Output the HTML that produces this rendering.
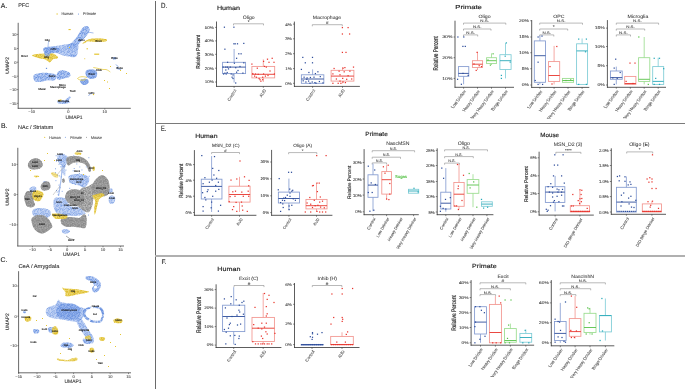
<!DOCTYPE html>
<html><head><meta charset="utf-8"><style>
html,body{margin:0;padding:0;background:#fff;}
svg{display:block;font-family:"Liberation Sans", sans-serif;text-rendering:geometricPrecision;}
</style></head><body>
<svg width="685" height="389" viewBox="0 0 685 389">
<defs>
<filter id="soft" x="0" y="0" width="100%" height="100%" filterUnits="userSpaceOnUse"><feGaussianBlur stdDeviation="0.3"/></filter>
<filter id="bl" x="-20%" y="-20%" width="140%" height="140%"><feGaussianBlur stdDeviation="0.35"/></filter>
<filter id="tex" x="-10%" y="-10%" width="120%" height="120%">
<feTurbulence type="fractalNoise" baseFrequency="0.32" numOctaves="2" seed="4" result="n"/>
<feColorMatrix in="n" type="matrix" values="0 0 0 0 0  0 0 0 0 0  0 0 0 0 0  0 0 0 -3.0 2.2" result="a"/>
<feComposite in="SourceGraphic" in2="a" operator="in" result="t"/>
<feGaussianBlur in="t" stdDeviation="0.45"/>
</filter>
<filter id="tex2" x="-10%" y="-10%" width="120%" height="120%">
<feTurbulence type="fractalNoise" baseFrequency="0.5" numOctaves="2" seed="9" result="n"/>
<feColorMatrix in="n" type="matrix" values="0 0 0 0 0  0 0 0 0 0  0 0 0 0 0  0 0 0 -2.0 2.0" result="a"/>
<feComposite in="SourceGraphic" in2="a" operator="in" result="t"/>
<feGaussianBlur in="t" stdDeviation="0.35"/>
</filter>
<pattern id="pB" patternUnits="userSpaceOnUse" width="11" height="11"><circle cx="0.94" cy="1.09" r="0.55" fill="#5F8ADC"/><circle cx="1.16" cy="2.91" r="0.55" fill="#5F8ADC"/><circle cx="1.09" cy="4.46" r="0.55" fill="#5F8ADC"/><circle cx="0.19" cy="5.46" r="0.55" fill="#5F8ADC"/><circle cx="1.34" cy="7.26" r="0.55" fill="#5F8ADC"/><circle cx="1.29" cy="8.16" r="0.55" fill="#5F8ADC"/><circle cx="0.75" cy="9.90" r="0.55" fill="#5F8ADC"/><circle cx="2.41" cy="0.88" r="0.55" fill="#5F8ADC"/><circle cx="1.75" cy="2.00" r="0.55" fill="#5F8ADC"/><circle cx="2.08" cy="4.45" r="0.55" fill="#5F8ADC"/><circle cx="2.69" cy="5.07" r="0.55" fill="#5F8ADC"/><circle cx="2.73" cy="6.62" r="0.55" fill="#5F8ADC"/><circle cx="2.50" cy="8.17" r="0.55" fill="#5F8ADC"/><circle cx="1.73" cy="10.68" r="0.55" fill="#5F8ADC"/><circle cx="3.56" cy="0.43" r="0.55" fill="#5F8ADC"/><circle cx="4.54" cy="2.83" r="0.55" fill="#5F8ADC"/><circle cx="3.66" cy="4.51" r="0.55" fill="#5F8ADC"/><circle cx="3.98" cy="5.72" r="0.55" fill="#5F8ADC"/><circle cx="3.56" cy="7.63" r="0.55" fill="#5F8ADC"/><circle cx="4.17" cy="9.23" r="0.55" fill="#5F8ADC"/><circle cx="4.42" cy="9.96" r="0.55" fill="#5F8ADC"/><circle cx="5.33" cy="0.37" r="0.55" fill="#5F8ADC"/><circle cx="5.05" cy="1.81" r="0.55" fill="#5F8ADC"/><circle cx="5.25" cy="4.06" r="0.55" fill="#5F8ADC"/><circle cx="4.88" cy="5.72" r="0.55" fill="#5F8ADC"/><circle cx="5.30" cy="6.83" r="0.55" fill="#5F8ADC"/><circle cx="5.90" cy="8.62" r="0.55" fill="#5F8ADC"/><circle cx="5.27" cy="10.19" r="0.55" fill="#5F8ADC"/><circle cx="7.33" cy="0.23" r="0.55" fill="#5F8ADC"/><circle cx="7.67" cy="1.76" r="0.55" fill="#5F8ADC"/><circle cx="7.39" cy="4.36" r="0.55" fill="#5F8ADC"/><circle cx="6.47" cy="5.86" r="0.55" fill="#5F8ADC"/><circle cx="6.90" cy="7.17" r="0.55" fill="#5F8ADC"/><circle cx="6.45" cy="8.07" r="0.55" fill="#5F8ADC"/><circle cx="6.67" cy="10.79" r="0.55" fill="#5F8ADC"/><circle cx="8.26" cy="1.11" r="0.55" fill="#5F8ADC"/><circle cx="9.18" cy="2.91" r="0.55" fill="#5F8ADC"/><circle cx="8.45" cy="3.75" r="0.55" fill="#5F8ADC"/><circle cx="8.67" cy="5.85" r="0.55" fill="#5F8ADC"/><circle cx="8.15" cy="7.38" r="0.55" fill="#5F8ADC"/><circle cx="9.02" cy="9.10" r="0.55" fill="#5F8ADC"/><circle cx="8.06" cy="10.77" r="0.55" fill="#5F8ADC"/><circle cx="9.70" cy="0.59" r="0.55" fill="#5F8ADC"/><circle cx="10.35" cy="2.88" r="0.55" fill="#5F8ADC"/><circle cx="10.01" cy="4.46" r="0.55" fill="#5F8ADC"/><circle cx="10.27" cy="5.26" r="0.55" fill="#5F8ADC"/><circle cx="9.98" cy="6.67" r="0.55" fill="#5F8ADC"/><circle cx="9.68" cy="8.20" r="0.55" fill="#5F8ADC"/><circle cx="10.45" cy="10.84" r="0.55" fill="#5F8ADC"/></pattern><pattern id="pY" patternUnits="userSpaceOnUse" width="11" height="11"><circle cx="0.32" cy="0.19" r="0.55" fill="#D9B51E"/><circle cx="1.22" cy="2.10" r="0.55" fill="#D9B51E"/><circle cx="0.58" cy="3.15" r="0.55" fill="#D9B51E"/><circle cx="0.79" cy="5.17" r="0.55" fill="#D9B51E"/><circle cx="0.64" cy="6.10" r="0.55" fill="#D9B51E"/><circle cx="0.20" cy="8.02" r="0.55" fill="#D9B51E"/><circle cx="0.17" cy="8.93" r="0.55" fill="#D9B51E"/><circle cx="1.06" cy="9.91" r="0.55" fill="#D9B51E"/><circle cx="2.32" cy="1.18" r="0.55" fill="#D9B51E"/><circle cx="2.21" cy="2.38" r="0.55" fill="#D9B51E"/><circle cx="1.63" cy="3.37" r="0.55" fill="#D9B51E"/><circle cx="1.68" cy="5.19" r="0.55" fill="#D9B51E"/><circle cx="1.84" cy="6.14" r="0.55" fill="#D9B51E"/><circle cx="2.61" cy="7.95" r="0.55" fill="#D9B51E"/><circle cx="2.59" cy="8.89" r="0.55" fill="#D9B51E"/><circle cx="2.05" cy="10.56" r="0.55" fill="#D9B51E"/><circle cx="3.41" cy="0.46" r="0.55" fill="#D9B51E"/><circle cx="3.33" cy="1.67" r="0.55" fill="#D9B51E"/><circle cx="3.30" cy="3.97" r="0.55" fill="#D9B51E"/><circle cx="3.94" cy="4.95" r="0.55" fill="#D9B51E"/><circle cx="3.44" cy="6.01" r="0.55" fill="#D9B51E"/><circle cx="2.99" cy="7.31" r="0.55" fill="#D9B51E"/><circle cx="3.75" cy="9.34" r="0.55" fill="#D9B51E"/><circle cx="3.28" cy="10.63" r="0.55" fill="#D9B51E"/><circle cx="5.11" cy="0.90" r="0.55" fill="#D9B51E"/><circle cx="4.99" cy="2.35" r="0.55" fill="#D9B51E"/><circle cx="4.66" cy="3.66" r="0.55" fill="#D9B51E"/><circle cx="4.57" cy="4.80" r="0.55" fill="#D9B51E"/><circle cx="5.11" cy="6.40" r="0.55" fill="#D9B51E"/><circle cx="4.59" cy="8.05" r="0.55" fill="#D9B51E"/><circle cx="4.98" cy="9.03" r="0.55" fill="#D9B51E"/><circle cx="4.28" cy="10.36" r="0.55" fill="#D9B51E"/><circle cx="5.91" cy="0.88" r="0.55" fill="#D9B51E"/><circle cx="6.15" cy="2.41" r="0.55" fill="#D9B51E"/><circle cx="6.35" cy="3.76" r="0.55" fill="#D9B51E"/><circle cx="6.02" cy="4.97" r="0.55" fill="#D9B51E"/><circle cx="6.45" cy="6.55" r="0.55" fill="#D9B51E"/><circle cx="6.02" cy="7.94" r="0.55" fill="#D9B51E"/><circle cx="6.59" cy="9.14" r="0.55" fill="#D9B51E"/><circle cx="6.71" cy="10.81" r="0.55" fill="#D9B51E"/><circle cx="7.58" cy="0.72" r="0.55" fill="#D9B51E"/><circle cx="7.20" cy="2.43" r="0.55" fill="#D9B51E"/><circle cx="8.04" cy="3.41" r="0.55" fill="#D9B51E"/><circle cx="7.77" cy="5.05" r="0.55" fill="#D9B51E"/><circle cx="7.82" cy="5.83" r="0.55" fill="#D9B51E"/><circle cx="7.87" cy="7.65" r="0.55" fill="#D9B51E"/><circle cx="7.74" cy="8.85" r="0.55" fill="#D9B51E"/><circle cx="7.70" cy="10.61" r="0.55" fill="#D9B51E"/><circle cx="9.09" cy="0.93" r="0.55" fill="#D9B51E"/><circle cx="8.42" cy="1.69" r="0.55" fill="#D9B51E"/><circle cx="8.87" cy="3.60" r="0.55" fill="#D9B51E"/><circle cx="8.63" cy="5.02" r="0.55" fill="#D9B51E"/><circle cx="9.08" cy="5.68" r="0.55" fill="#D9B51E"/><circle cx="8.91" cy="7.26" r="0.55" fill="#D9B51E"/><circle cx="8.45" cy="8.53" r="0.55" fill="#D9B51E"/><circle cx="8.74" cy="9.96" r="0.55" fill="#D9B51E"/><circle cx="9.98" cy="0.18" r="0.55" fill="#D9B51E"/><circle cx="10.27" cy="1.93" r="0.55" fill="#D9B51E"/><circle cx="10.44" cy="3.54" r="0.55" fill="#D9B51E"/><circle cx="10.02" cy="5.26" r="0.55" fill="#D9B51E"/><circle cx="9.76" cy="6.08" r="0.55" fill="#D9B51E"/><circle cx="10.07" cy="7.46" r="0.55" fill="#D9B51E"/><circle cx="9.89" cy="9.30" r="0.55" fill="#D9B51E"/><circle cx="10.17" cy="9.80" r="0.55" fill="#D9B51E"/></pattern><pattern id="pG" patternUnits="userSpaceOnUse" width="11" height="11"><circle cx="0.72" cy="0.21" r="0.55" fill="#858585"/><circle cx="0.66" cy="1.68" r="0.55" fill="#858585"/><circle cx="0.69" cy="3.50" r="0.55" fill="#858585"/><circle cx="0.92" cy="4.20" r="0.55" fill="#858585"/><circle cx="0.92" cy="5.64" r="0.55" fill="#858585"/><circle cx="0.48" cy="6.37" r="0.55" fill="#858585"/><circle cx="0.70" cy="8.01" r="0.55" fill="#858585"/><circle cx="1.06" cy="9.62" r="0.55" fill="#858585"/><circle cx="0.72" cy="10.24" r="0.55" fill="#858585"/><circle cx="2.22" cy="0.12" r="0.55" fill="#858585"/><circle cx="1.45" cy="1.90" r="0.55" fill="#858585"/><circle cx="1.95" cy="2.70" r="0.55" fill="#858585"/><circle cx="1.96" cy="4.66" r="0.55" fill="#858585"/><circle cx="1.71" cy="5.43" r="0.55" fill="#858585"/><circle cx="1.57" cy="6.52" r="0.55" fill="#858585"/><circle cx="2.30" cy="7.83" r="0.55" fill="#858585"/><circle cx="2.28" cy="9.57" r="0.55" fill="#858585"/><circle cx="1.93" cy="10.15" r="0.55" fill="#858585"/><circle cx="3.53" cy="0.61" r="0.55" fill="#858585"/><circle cx="2.97" cy="1.66" r="0.55" fill="#858585"/><circle cx="3.53" cy="3.05" r="0.55" fill="#858585"/><circle cx="2.85" cy="4.26" r="0.55" fill="#858585"/><circle cx="2.69" cy="5.62" r="0.55" fill="#858585"/><circle cx="3.00" cy="6.52" r="0.55" fill="#858585"/><circle cx="3.33" cy="8.26" r="0.55" fill="#858585"/><circle cx="2.58" cy="9.20" r="0.55" fill="#858585"/><circle cx="2.83" cy="10.81" r="0.55" fill="#858585"/><circle cx="4.55" cy="0.36" r="0.55" fill="#858585"/><circle cx="4.05" cy="1.50" r="0.55" fill="#858585"/><circle cx="4.76" cy="2.85" r="0.55" fill="#858585"/><circle cx="4.38" cy="4.25" r="0.55" fill="#858585"/><circle cx="4.42" cy="5.60" r="0.55" fill="#858585"/><circle cx="4.52" cy="6.35" r="0.55" fill="#858585"/><circle cx="4.53" cy="7.75" r="0.55" fill="#858585"/><circle cx="4.31" cy="9.01" r="0.55" fill="#858585"/><circle cx="4.08" cy="10.42" r="0.55" fill="#858585"/><circle cx="5.47" cy="0.48" r="0.55" fill="#858585"/><circle cx="5.74" cy="1.92" r="0.55" fill="#858585"/><circle cx="5.05" cy="2.81" r="0.55" fill="#858585"/><circle cx="5.46" cy="4.69" r="0.55" fill="#858585"/><circle cx="5.88" cy="5.54" r="0.55" fill="#858585"/><circle cx="5.03" cy="6.99" r="0.55" fill="#858585"/><circle cx="5.43" cy="8.02" r="0.55" fill="#858585"/><circle cx="5.70" cy="9.30" r="0.55" fill="#858585"/><circle cx="5.48" cy="10.79" r="0.55" fill="#858585"/><circle cx="6.61" cy="0.51" r="0.55" fill="#858585"/><circle cx="7.07" cy="1.54" r="0.55" fill="#858585"/><circle cx="6.52" cy="3.38" r="0.55" fill="#858585"/><circle cx="6.30" cy="4.61" r="0.55" fill="#858585"/><circle cx="6.91" cy="5.43" r="0.55" fill="#858585"/><circle cx="6.51" cy="7.00" r="0.55" fill="#858585"/><circle cx="7.12" cy="7.60" r="0.55" fill="#858585"/><circle cx="6.70" cy="9.21" r="0.55" fill="#858585"/><circle cx="6.72" cy="10.22" r="0.55" fill="#858585"/><circle cx="7.61" cy="0.70" r="0.55" fill="#858585"/><circle cx="8.25" cy="1.41" r="0.55" fill="#858585"/><circle cx="7.68" cy="3.37" r="0.55" fill="#858585"/><circle cx="8.23" cy="4.44" r="0.55" fill="#858585"/><circle cx="7.48" cy="5.72" r="0.55" fill="#858585"/><circle cx="8.41" cy="7.21" r="0.55" fill="#858585"/><circle cx="8.14" cy="7.50" r="0.55" fill="#858585"/><circle cx="8.28" cy="8.89" r="0.55" fill="#858585"/><circle cx="8.09" cy="10.83" r="0.55" fill="#858585"/><circle cx="9.37" cy="0.25" r="0.55" fill="#858585"/><circle cx="8.96" cy="2.24" r="0.55" fill="#858585"/><circle cx="8.82" cy="3.16" r="0.55" fill="#858585"/><circle cx="9.08" cy="3.95" r="0.55" fill="#858585"/><circle cx="9.29" cy="5.05" r="0.55" fill="#858585"/><circle cx="8.78" cy="6.60" r="0.55" fill="#858585"/><circle cx="8.75" cy="7.51" r="0.55" fill="#858585"/><circle cx="9.24" cy="9.40" r="0.55" fill="#858585"/><circle cx="9.54" cy="10.03" r="0.55" fill="#858585"/><circle cx="10.32" cy="0.43" r="0.55" fill="#858585"/><circle cx="10.49" cy="1.82" r="0.55" fill="#858585"/><circle cx="10.82" cy="2.93" r="0.55" fill="#858585"/><circle cx="9.95" cy="4.47" r="0.55" fill="#858585"/><circle cx="10.05" cy="5.63" r="0.55" fill="#858585"/><circle cx="10.39" cy="7.12" r="0.55" fill="#858585"/><circle cx="10.44" cy="8.06" r="0.55" fill="#858585"/><circle cx="10.16" cy="9.22" r="0.55" fill="#858585"/><circle cx="10.15" cy="10.63" r="0.55" fill="#858585"/></pattern>
<filter id="bl2" x="-20%" y="-20%" width="140%" height="140%"><feGaussianBlur stdDeviation="0.6"/></filter>
</defs>
<rect width="685" height="389" fill="#fff"/>
<g filter="url(#soft)">
<rect x="155.00" y="1.00" width="1.00" height="388.00" fill="#6a6a6a" stroke="none" stroke-width="1"/>
<rect x="155.00" y="123.00" width="530.00" height="1.00" fill="#7a7a7a" stroke="none" stroke-width="1"/>
<rect x="155.00" y="255.00" width="530.00" height="2.00" fill="#b0b0b0" stroke="none" stroke-width="1"/>
<text x="0.80" y="7.80" font-size="6.9" fill="#222" text-anchor="start" font-weight="normal" stroke="#222" stroke-width="0.12">A.</text>
<text x="0.90" y="127.90" font-size="6.9" fill="#222" text-anchor="start" font-weight="normal" stroke="#222" stroke-width="0.12">B.</text>
<text x="0.60" y="262.20" font-size="6.9" fill="#222" text-anchor="start" font-weight="normal" stroke="#222" stroke-width="0.12">C.</text>
<text x="161.00" y="7.90" font-size="7.4" fill="#222" text-anchor="start" font-weight="normal" stroke="#222" stroke-width="0.12" textLength="6.2" lengthAdjust="spacingAndGlyphs">D.</text>
<text x="161.00" y="130.70" font-size="7.7" fill="#222" text-anchor="start" font-weight="normal" stroke="#222" stroke-width="0.12" textLength="5.3" lengthAdjust="spacingAndGlyphs">E.</text>
<text x="161.60" y="263.80" font-size="6.4" fill="#222" text-anchor="start" font-weight="normal" stroke="#222" stroke-width="0.12">F.</text>
<text x="216.90" y="9.90" font-size="6.2" fill="#1a1a1a" text-anchor="start" font-weight="normal" stroke="#1a1a1a" stroke-width="0.14" textLength="23.1" lengthAdjust="spacingAndGlyphs">Human</text>
<text x="455.30" y="9.10" font-size="5.8" fill="#1a1a1a" text-anchor="start" font-weight="normal" stroke="#1a1a1a" stroke-width="0.14" textLength="26.6" lengthAdjust="spacingAndGlyphs">Primate</text>
<text x="195.30" y="137.90" font-size="6.0" fill="#1a1a1a" text-anchor="start" font-weight="normal" stroke="#1a1a1a" stroke-width="0.14" textLength="22.2" lengthAdjust="spacingAndGlyphs">Human</text>
<text x="365.30" y="135.80" font-size="6.0" fill="#1a1a1a" text-anchor="start" font-weight="normal" stroke="#1a1a1a" stroke-width="0.14" textLength="22.5" lengthAdjust="spacingAndGlyphs">Primate</text>
<text x="540.30" y="136.80" font-size="6.0" fill="#1a1a1a" text-anchor="start" font-weight="normal" stroke="#1a1a1a" stroke-width="0.14" textLength="18.7" lengthAdjust="spacingAndGlyphs">Mouse</text>
<text x="217.30" y="271.20" font-size="6.0" fill="#1a1a1a" text-anchor="start" font-weight="normal" stroke="#1a1a1a" stroke-width="0.14" textLength="23.1" lengthAdjust="spacingAndGlyphs">Human</text>
<text x="472.10" y="268.10" font-size="6.0" fill="#1a1a1a" text-anchor="start" font-weight="normal" stroke="#1a1a1a" stroke-width="0.14" textLength="24.5" lengthAdjust="spacingAndGlyphs">Primate</text>
<line x1="216.50" y1="21.50" x2="216.50" y2="86.80" stroke="#333" stroke-width="0.8"/>
<line x1="216.10" y1="86.40" x2="281.60" y2="86.40" stroke="#333" stroke-width="0.8"/>
<line x1="215.10" y1="27.40" x2="216.50" y2="27.40" stroke="#333" stroke-width="0.6"/>
<text x="0.00" y="0.00" font-size="4.05" fill="#484848" text-anchor="end" font-weight="normal" stroke="#484848" stroke-width="0.1" transform="translate(213.90 28.82) scale(1.12 1)">50%</text>
<line x1="215.10" y1="40.90" x2="216.50" y2="40.90" stroke="#333" stroke-width="0.6"/>
<text x="0.00" y="0.00" font-size="4.05" fill="#484848" text-anchor="end" font-weight="normal" stroke="#484848" stroke-width="0.1" transform="translate(213.90 42.32) scale(1.12 1)">40%</text>
<line x1="215.10" y1="54.30" x2="216.50" y2="54.30" stroke="#333" stroke-width="0.6"/>
<text x="0.00" y="0.00" font-size="4.05" fill="#484848" text-anchor="end" font-weight="normal" stroke="#484848" stroke-width="0.1" transform="translate(213.90 55.72) scale(1.12 1)">30%</text>
<line x1="215.10" y1="68.20" x2="216.50" y2="68.20" stroke="#333" stroke-width="0.6"/>
<text x="0.00" y="0.00" font-size="4.05" fill="#484848" text-anchor="end" font-weight="normal" stroke="#484848" stroke-width="0.1" transform="translate(213.90 69.62) scale(1.12 1)">20%</text>
<line x1="215.10" y1="82.00" x2="216.50" y2="82.00" stroke="#333" stroke-width="0.6"/>
<text x="0.00" y="0.00" font-size="4.05" fill="#484848" text-anchor="end" font-weight="normal" stroke="#484848" stroke-width="0.1" transform="translate(213.90 83.42) scale(1.12 1)">10%</text>
<text x="0.00" y="0.00" font-size="4.6" fill="#1e1e1e" text-anchor="middle" font-weight="normal" stroke="#1e1e1e" stroke-width="0.12" transform="translate(200.20 51.70) scale(1.2544000000000002 1) rotate(-90)">Relative Percent</text>
<text x="0.00" y="0.00" font-size="4.859999999999999" fill="#2a2a2a" text-anchor="middle" font-weight="normal" stroke="#2a2a2a" stroke-width="0.03" transform="translate(248.70 18.80) scale(1.048 1)">Oligo</text>
<polyline points="233.50,25.40 233.50,23.80 263.50,23.80 263.50,25.40" fill="none" stroke="#8a8a8a" stroke-width="0.6"/>
<text x="0.00" y="0.00" font-size="4.05" fill="#333" text-anchor="middle" font-weight="normal" stroke="#333" stroke-width="0.06" transform="translate(248.50 23.00) scale(1.12 1)">*</text>
<line x1="234.10" y1="49.00" x2="234.10" y2="62.30" stroke="#8299CF" stroke-width="0.8"/>
<line x1="234.10" y1="73.60" x2="234.10" y2="82.50" stroke="#8299CF" stroke-width="0.8"/>
<rect x="222.60" y="62.30" width="23.00" height="11.30" fill="none" stroke="#8299CF" stroke-width="0.85"/>
<line x1="222.60" y1="67.10" x2="245.60" y2="67.10" stroke="#2E4D9B" stroke-width="0.9"/>
<rect x="223.78" y="26.58" width="1.24" height="1.24" fill="#2E4D9B"/>
<rect x="233.28" y="26.58" width="1.24" height="1.24" fill="#2E4D9B"/>
<rect x="233.28" y="43.18" width="1.24" height="1.24" fill="#2E4D9B"/>
<rect x="234.58" y="43.18" width="1.24" height="1.24" fill="#2E4D9B"/>
<rect x="236.88" y="43.18" width="1.24" height="1.24" fill="#2E4D9B"/>
<rect x="243.18" y="42.78" width="1.24" height="1.24" fill="#2E4D9B"/>
<rect x="224.28" y="48.58" width="1.24" height="1.24" fill="#2E4D9B"/>
<rect x="238.18" y="53.18" width="1.24" height="1.24" fill="#2E4D9B"/>
<rect x="240.48" y="53.18" width="1.24" height="1.24" fill="#2E4D9B"/>
<rect x="235.98" y="57.68" width="1.24" height="1.24" fill="#2E4D9B"/>
<rect x="233.78" y="62.58" width="1.24" height="1.24" fill="#2E4D9B"/>
<rect x="226.98" y="61.68" width="1.24" height="1.24" fill="#2E4D9B"/>
<rect x="243.18" y="62.18" width="1.24" height="1.24" fill="#2E4D9B"/>
<rect x="222.48" y="66.48" width="1.24" height="1.24" fill="#2E4D9B"/>
<rect x="225.18" y="66.48" width="1.24" height="1.24" fill="#2E4D9B"/>
<rect x="226.98" y="66.48" width="1.24" height="1.24" fill="#2E4D9B"/>
<rect x="229.68" y="66.48" width="1.24" height="1.24" fill="#2E4D9B"/>
<rect x="235.08" y="67.08" width="1.24" height="1.24" fill="#2E4D9B"/>
<rect x="225.18" y="69.38" width="1.24" height="1.24" fill="#2E4D9B"/>
<rect x="227.88" y="68.28" width="1.24" height="1.24" fill="#2E4D9B"/>
<rect x="224.28" y="72.48" width="1.24" height="1.24" fill="#2E4D9B"/>
<rect x="225.58" y="73.38" width="1.24" height="1.24" fill="#2E4D9B"/>
<rect x="226.58" y="71.88" width="1.24" height="1.24" fill="#2E4D9B"/>
<rect x="222.98" y="73.38" width="1.24" height="1.24" fill="#2E4D9B"/>
<rect x="230.58" y="73.38" width="1.24" height="1.24" fill="#2E4D9B"/>
<rect x="232.38" y="74.28" width="1.24" height="1.24" fill="#2E4D9B"/>
<rect x="231.48" y="76.58" width="1.24" height="1.24" fill="#2E4D9B"/>
<rect x="232.38" y="77.88" width="1.24" height="1.24" fill="#2E4D9B"/>
<rect x="235.08" y="82.38" width="1.24" height="1.24" fill="#2E4D9B"/>
<rect x="235.98" y="71.58" width="1.24" height="1.24" fill="#2E4D9B"/>
<rect x="242.28" y="72.48" width="1.24" height="1.24" fill="#2E4D9B"/>
<rect x="239.38" y="65.88" width="1.24" height="1.24" fill="#2E4D9B"/>
<rect x="237.38" y="69.88" width="1.24" height="1.24" fill="#2E4D9B"/>
<line x1="234.10" y1="86.40" x2="234.10" y2="87.80" stroke="#333" stroke-width="0.6"/>
<line x1="263.30" y1="59.40" x2="263.30" y2="66.40" stroke="#F2948E" stroke-width="0.8"/>
<line x1="263.30" y1="77.90" x2="263.30" y2="82.00" stroke="#F2948E" stroke-width="0.8"/>
<rect x="251.90" y="66.40" width="22.80" height="11.50" fill="none" stroke="#F2948E" stroke-width="0.85"/>
<line x1="251.90" y1="74.30" x2="274.70" y2="74.30" stroke="#E8352E" stroke-width="0.9"/>
<rect x="266.88" y="58.58" width="1.24" height="1.24" fill="#E8352E"/>
<rect x="271.58" y="57.68" width="1.24" height="1.24" fill="#E8352E"/>
<rect x="262.98" y="60.78" width="1.24" height="1.24" fill="#E8352E"/>
<rect x="268.38" y="61.68" width="1.24" height="1.24" fill="#E8352E"/>
<rect x="273.38" y="61.68" width="1.24" height="1.24" fill="#E8352E"/>
<rect x="251.28" y="63.48" width="1.24" height="1.24" fill="#E8352E"/>
<rect x="263.88" y="65.78" width="1.24" height="1.24" fill="#E8352E"/>
<rect x="265.68" y="66.48" width="1.24" height="1.24" fill="#E8352E"/>
<rect x="256.68" y="67.58" width="1.24" height="1.24" fill="#E8352E"/>
<rect x="252.18" y="72.98" width="1.24" height="1.24" fill="#E8352E"/>
<rect x="254.88" y="73.38" width="1.24" height="1.24" fill="#E8352E"/>
<rect x="257.58" y="73.68" width="1.24" height="1.24" fill="#E8352E"/>
<rect x="262.98" y="73.38" width="1.24" height="1.24" fill="#E8352E"/>
<rect x="273.78" y="73.38" width="1.24" height="1.24" fill="#E8352E"/>
<rect x="253.98" y="75.48" width="1.24" height="1.24" fill="#E8352E"/>
<rect x="255.78" y="76.58" width="1.24" height="1.24" fill="#E8352E"/>
<rect x="262.08" y="76.58" width="1.24" height="1.24" fill="#E8352E"/>
<rect x="264.78" y="75.48" width="1.24" height="1.24" fill="#E8352E"/>
<rect x="258.48" y="77.88" width="1.24" height="1.24" fill="#E8352E"/>
<rect x="259.38" y="79.08" width="1.24" height="1.24" fill="#E8352E"/>
<rect x="262.08" y="79.08" width="1.24" height="1.24" fill="#E8352E"/>
<rect x="260.28" y="80.58" width="1.24" height="1.24" fill="#E8352E"/>
<rect x="269.38" y="70.38" width="1.24" height="1.24" fill="#E8352E"/>
<rect x="267.38" y="74.88" width="1.24" height="1.24" fill="#E8352E"/>
<line x1="263.30" y1="86.40" x2="263.30" y2="87.80" stroke="#333" stroke-width="0.6"/>
<text x="0.00" y="0.00" font-size="3.9284999999999997" fill="#555" text-anchor="end" font-weight="normal" stroke="#555" stroke-width="0.08" transform="translate(236.70 90.30) scale(1.12 1) rotate(-60)">Control</text>
<text x="0.00" y="0.00" font-size="3.9284999999999997" fill="#555" text-anchor="end" font-weight="normal" stroke="#555" stroke-width="0.08" transform="translate(266.30 90.30) scale(1.12 1) rotate(-60)">AUD</text>
<line x1="294.40" y1="21.60" x2="294.40" y2="86.80" stroke="#333" stroke-width="0.8"/>
<line x1="294.00" y1="86.40" x2="359.90" y2="86.40" stroke="#333" stroke-width="0.8"/>
<line x1="293.00" y1="24.10" x2="294.40" y2="24.10" stroke="#333" stroke-width="0.6"/>
<text x="0.00" y="0.00" font-size="4.05" fill="#484848" text-anchor="end" font-weight="normal" stroke="#484848" stroke-width="0.1" transform="translate(291.80 25.52) scale(1.12 1)">4%</text>
<line x1="293.00" y1="38.80" x2="294.40" y2="38.80" stroke="#333" stroke-width="0.6"/>
<text x="0.00" y="0.00" font-size="4.05" fill="#484848" text-anchor="end" font-weight="normal" stroke="#484848" stroke-width="0.1" transform="translate(291.80 40.22) scale(1.12 1)">3%</text>
<line x1="293.00" y1="53.70" x2="294.40" y2="53.70" stroke="#333" stroke-width="0.6"/>
<text x="0.00" y="0.00" font-size="4.05" fill="#484848" text-anchor="end" font-weight="normal" stroke="#484848" stroke-width="0.1" transform="translate(291.80 55.12) scale(1.12 1)">2%</text>
<line x1="293.00" y1="68.60" x2="294.40" y2="68.60" stroke="#333" stroke-width="0.6"/>
<text x="0.00" y="0.00" font-size="4.05" fill="#484848" text-anchor="end" font-weight="normal" stroke="#484848" stroke-width="0.1" transform="translate(291.80 70.02) scale(1.12 1)">1%</text>
<line x1="293.00" y1="83.30" x2="294.40" y2="83.30" stroke="#333" stroke-width="0.6"/>
<text x="0.00" y="0.00" font-size="4.05" fill="#484848" text-anchor="end" font-weight="normal" stroke="#484848" stroke-width="0.1" transform="translate(291.80 84.72) scale(1.12 1)">0%</text>
<text x="0.00" y="0.00" font-size="4.859999999999999" fill="#2a2a2a" text-anchor="middle" font-weight="normal" stroke="#2a2a2a" stroke-width="0.03" transform="translate(327.00 18.60) scale(1.048 1)">Macrophage</text>
<polyline points="312.30,26.30 312.30,24.70 342.30,24.70 342.30,26.30" fill="none" stroke="#8a8a8a" stroke-width="0.6"/>
<text x="0.00" y="0.00" font-size="4.05" fill="#333" text-anchor="middle" font-weight="normal" stroke="#333" stroke-width="0.06" transform="translate(327.30 23.90) scale(1.12 1)">#</text>
<line x1="312.60" y1="69.40" x2="312.60" y2="74.80" stroke="#8299CF" stroke-width="0.8"/>
<line x1="312.60" y1="83.30" x2="312.60" y2="83.30" stroke="#8299CF" stroke-width="0.8"/>
<rect x="301.35" y="74.80" width="22.50" height="8.50" fill="none" stroke="#8299CF" stroke-width="0.85"/>
<line x1="301.35" y1="79.00" x2="323.85" y2="79.00" stroke="#2E4D9B" stroke-width="0.9"/>
<rect x="302.18" y="56.78" width="1.24" height="1.24" fill="#2E4D9B"/>
<rect x="311.88" y="56.78" width="1.24" height="1.24" fill="#2E4D9B"/>
<rect x="304.68" y="62.18" width="1.24" height="1.24" fill="#2E4D9B"/>
<rect x="311.88" y="62.18" width="1.24" height="1.24" fill="#2E4D9B"/>
<rect x="300.78" y="68.78" width="1.24" height="1.24" fill="#2E4D9B"/>
<rect x="308.28" y="71.88" width="1.24" height="1.24" fill="#2E4D9B"/>
<rect x="314.78" y="72.98" width="1.24" height="1.24" fill="#2E4D9B"/>
<rect x="317.28" y="71.18" width="1.24" height="1.24" fill="#2E4D9B"/>
<rect x="303.48" y="76.58" width="1.24" height="1.24" fill="#2E4D9B"/>
<rect x="306.48" y="77.28" width="1.24" height="1.24" fill="#2E4D9B"/>
<rect x="309.78" y="76.88" width="1.24" height="1.24" fill="#2E4D9B"/>
<rect x="313.38" y="76.58" width="1.24" height="1.24" fill="#2E4D9B"/>
<rect x="319.68" y="75.98" width="1.24" height="1.24" fill="#2E4D9B"/>
<rect x="302.58" y="80.18" width="1.24" height="1.24" fill="#2E4D9B"/>
<rect x="305.28" y="81.38" width="1.24" height="1.24" fill="#2E4D9B"/>
<rect x="307.98" y="80.48" width="1.24" height="1.24" fill="#2E4D9B"/>
<rect x="311.58" y="81.38" width="1.24" height="1.24" fill="#2E4D9B"/>
<rect x="314.28" y="81.98" width="1.24" height="1.24" fill="#2E4D9B"/>
<rect x="318.78" y="80.88" width="1.24" height="1.24" fill="#2E4D9B"/>
<rect x="322.38" y="82.28" width="1.24" height="1.24" fill="#2E4D9B"/>
<rect x="306.18" y="78.68" width="1.24" height="1.24" fill="#2E4D9B"/>
<rect x="309.38" y="82.58" width="1.24" height="1.24" fill="#2E4D9B"/>
<rect x="315.38" y="82.58" width="1.24" height="1.24" fill="#2E4D9B"/>
<line x1="312.60" y1="86.40" x2="312.60" y2="87.80" stroke="#333" stroke-width="0.6"/>
<line x1="342.50" y1="67.10" x2="342.50" y2="70.30" stroke="#F2948E" stroke-width="0.8"/>
<line x1="342.50" y1="81.10" x2="342.50" y2="83.30" stroke="#F2948E" stroke-width="0.8"/>
<rect x="331.10" y="70.30" width="22.80" height="10.80" fill="none" stroke="#F2948E" stroke-width="0.85"/>
<line x1="331.10" y1="76.10" x2="353.90" y2="76.10" stroke="#E8352E" stroke-width="0.9"/>
<rect x="341.78" y="26.98" width="1.24" height="1.24" fill="#E8352E"/>
<rect x="347.48" y="26.98" width="1.24" height="1.24" fill="#E8352E"/>
<rect x="341.78" y="33.38" width="1.24" height="1.24" fill="#E8352E"/>
<rect x="348.98" y="33.38" width="1.24" height="1.24" fill="#E8352E"/>
<rect x="341.78" y="51.78" width="1.24" height="1.24" fill="#E8352E"/>
<rect x="345.38" y="51.78" width="1.24" height="1.24" fill="#E8352E"/>
<rect x="333.48" y="67.88" width="1.24" height="1.24" fill="#E8352E"/>
<rect x="342.48" y="67.58" width="1.24" height="1.24" fill="#E8352E"/>
<rect x="344.28" y="66.98" width="1.24" height="1.24" fill="#E8352E"/>
<rect x="352.88" y="66.48" width="1.24" height="1.24" fill="#E8352E"/>
<rect x="338.48" y="70.58" width="1.24" height="1.24" fill="#E8352E"/>
<rect x="343.58" y="71.18" width="1.24" height="1.24" fill="#E8352E"/>
<rect x="349.28" y="70.58" width="1.24" height="1.24" fill="#E8352E"/>
<rect x="332.28" y="73.28" width="1.24" height="1.24" fill="#E8352E"/>
<rect x="339.38" y="74.18" width="1.24" height="1.24" fill="#E8352E"/>
<rect x="347.48" y="75.08" width="1.24" height="1.24" fill="#E8352E"/>
<rect x="335.78" y="78.38" width="1.24" height="1.24" fill="#E8352E"/>
<rect x="342.08" y="77.78" width="1.24" height="1.24" fill="#E8352E"/>
<rect x="346.08" y="78.68" width="1.24" height="1.24" fill="#E8352E"/>
<rect x="351.08" y="78.38" width="1.24" height="1.24" fill="#E8352E"/>
<rect x="339.38" y="80.48" width="1.24" height="1.24" fill="#E8352E"/>
<rect x="342.48" y="81.38" width="1.24" height="1.24" fill="#E8352E"/>
<rect x="344.78" y="81.98" width="1.24" height="1.24" fill="#E8352E"/>
<rect x="332.28" y="82.68" width="1.24" height="1.24" fill="#E8352E"/>
<rect x="337.58" y="82.68" width="1.24" height="1.24" fill="#E8352E"/>
<rect x="340.28" y="82.68" width="1.24" height="1.24" fill="#E8352E"/>
<line x1="342.50" y1="86.40" x2="342.50" y2="87.80" stroke="#333" stroke-width="0.6"/>
<text x="0.00" y="0.00" font-size="3.9284999999999997" fill="#555" text-anchor="end" font-weight="normal" stroke="#555" stroke-width="0.08" transform="translate(315.40 90.30) scale(1.12 1) rotate(-60)">Control</text>
<text x="0.00" y="0.00" font-size="3.9284999999999997" fill="#555" text-anchor="end" font-weight="normal" stroke="#555" stroke-width="0.08" transform="translate(345.20 90.30) scale(1.12 1) rotate(-60)">AUD</text>
<line x1="455.00" y1="20.70" x2="455.00" y2="87.70" stroke="#333" stroke-width="0.8"/>
<line x1="454.60" y1="87.30" x2="514.00" y2="87.30" stroke="#333" stroke-width="0.8"/>
<line x1="453.60" y1="37.00" x2="455.00" y2="37.00" stroke="#333" stroke-width="0.6"/>
<text x="0.00" y="0.00" font-size="3.9" fill="#484848" text-anchor="end" font-weight="normal" stroke="#484848" stroke-width="0.1" transform="translate(452.40 38.37) scale(1.3 1)">30%</text>
<line x1="453.60" y1="57.70" x2="455.00" y2="57.70" stroke="#333" stroke-width="0.6"/>
<text x="0.00" y="0.00" font-size="3.9" fill="#484848" text-anchor="end" font-weight="normal" stroke="#484848" stroke-width="0.1" transform="translate(452.40 59.07) scale(1.3 1)">20%</text>
<line x1="453.60" y1="78.40" x2="455.00" y2="78.40" stroke="#333" stroke-width="0.6"/>
<text x="0.00" y="0.00" font-size="3.9" fill="#484848" text-anchor="end" font-weight="normal" stroke="#484848" stroke-width="0.1" transform="translate(452.40 79.77) scale(1.3 1)">10%</text>
<text x="0.00" y="0.00" font-size="4.7" fill="#1e1e1e" text-anchor="middle" font-weight="normal" stroke="#1e1e1e" stroke-width="0.12" transform="translate(438.00 53.30) scale(1.4560000000000002 1) rotate(-90)">Relative Percent</text>
<text x="0.00" y="0.00" font-size="4.68" fill="#2a2a2a" text-anchor="middle" font-weight="normal" stroke="#2a2a2a" stroke-width="0.03" transform="translate(484.50 17.60) scale(1.12 1)">Oligo</text>
<polyline points="463.50,24.70 463.50,23.10 505.80,23.10 505.80,24.70" fill="none" stroke="#8a8a8a" stroke-width="0.6"/>
<text x="0.00" y="0.00" font-size="3.432" fill="#333" text-anchor="middle" font-weight="normal" stroke="#333" stroke-width="0.06" transform="translate(484.65 22.30) scale(1.3 1)">N.S.</text>
<polyline points="463.50,30.60 463.50,29.00 491.00,29.00 491.00,30.60" fill="none" stroke="#8a8a8a" stroke-width="0.6"/>
<text x="0.00" y="0.00" font-size="3.432" fill="#333" text-anchor="middle" font-weight="normal" stroke="#333" stroke-width="0.06" transform="translate(477.25 28.20) scale(1.3 1)">N.S.</text>
<polyline points="463.50,36.50 463.50,34.90 477.70,34.90 477.70,36.50" fill="none" stroke="#8a8a8a" stroke-width="0.6"/>
<text x="0.00" y="0.00" font-size="3.432" fill="#333" text-anchor="middle" font-weight="normal" stroke="#333" stroke-width="0.06" transform="translate(470.60 34.10) scale(1.3 1)">N.S.</text>
<line x1="463.60" y1="66.60" x2="463.60" y2="66.60" stroke="#8299CF" stroke-width="0.8"/>
<line x1="463.60" y1="76.30" x2="463.60" y2="84.30" stroke="#8299CF" stroke-width="0.8"/>
<rect x="458.40" y="66.60" width="10.40" height="9.70" fill="none" stroke="#8299CF" stroke-width="0.85"/>
<line x1="458.40" y1="73.40" x2="468.80" y2="73.40" stroke="#2E4D9B" stroke-width="0.9"/>
<rect x="457.28" y="36.38" width="1.24" height="1.24" fill="#2E4D9B"/>
<rect x="463.18" y="36.38" width="1.24" height="1.24" fill="#2E4D9B"/>
<rect x="462.28" y="45.78" width="1.24" height="1.24" fill="#2E4D9B"/>
<rect x="464.68" y="45.78" width="1.24" height="1.24" fill="#2E4D9B"/>
<rect x="456.98" y="78.68" width="1.24" height="1.24" fill="#2E4D9B"/>
<rect x="460.78" y="83.68" width="1.24" height="1.24" fill="#2E4D9B"/>
<rect x="467.58" y="74.78" width="1.24" height="1.24" fill="#2E4D9B"/>
<rect x="462.38" y="72.78" width="1.24" height="1.24" fill="#2E4D9B"/>
<line x1="463.60" y1="87.30" x2="463.60" y2="88.70" stroke="#333" stroke-width="0.6"/>
<line x1="477.50" y1="51.80" x2="477.50" y2="60.70" stroke="#F2948E" stroke-width="0.8"/>
<line x1="477.50" y1="67.50" x2="477.50" y2="70.00" stroke="#F2948E" stroke-width="0.8"/>
<rect x="472.40" y="60.70" width="10.20" height="6.80" fill="none" stroke="#F2948E" stroke-width="0.85"/>
<line x1="472.40" y1="64.20" x2="482.60" y2="64.20" stroke="#E8352E" stroke-width="0.9"/>
<rect x="476.48" y="51.78" width="1.24" height="1.24" fill="#E8352E"/>
<rect x="475.58" y="69.78" width="1.24" height="1.24" fill="#E8352E"/>
<rect x="478.58" y="65.08" width="1.24" height="1.24" fill="#E8352E"/>
<rect x="480.88" y="65.98" width="1.24" height="1.24" fill="#E8352E"/>
<rect x="473.38" y="63.38" width="1.24" height="1.24" fill="#E8352E"/>
<line x1="477.50" y1="87.30" x2="477.50" y2="88.70" stroke="#333" stroke-width="0.6"/>
<line x1="491.50" y1="53.30" x2="491.50" y2="57.70" stroke="#98DC8C" stroke-width="0.8"/>
<line x1="491.50" y1="63.60" x2="491.50" y2="65.00" stroke="#98DC8C" stroke-width="0.8"/>
<rect x="486.60" y="57.70" width="9.80" height="5.90" fill="none" stroke="#98DC8C" stroke-width="0.85"/>
<line x1="486.60" y1="60.70" x2="496.40" y2="60.70" stroke="#58C24A" stroke-width="0.9"/>
<rect x="492.48" y="53.18" width="1.24" height="1.24" fill="#58C24A"/>
<rect x="489.78" y="64.48" width="1.24" height="1.24" fill="#58C24A"/>
<rect x="487.38" y="59.38" width="1.24" height="1.24" fill="#58C24A"/>
<line x1="491.50" y1="87.30" x2="491.50" y2="88.70" stroke="#333" stroke-width="0.6"/>
<line x1="505.50" y1="42.90" x2="505.50" y2="54.70" stroke="#7CCBD5" stroke-width="0.8"/>
<line x1="505.50" y1="69.50" x2="505.50" y2="78.40" stroke="#7CCBD5" stroke-width="0.8"/>
<rect x="499.90" y="54.70" width="11.20" height="14.80" fill="none" stroke="#7CCBD5" stroke-width="0.85"/>
<line x1="499.90" y1="60.70" x2="511.10" y2="60.70" stroke="#27A9B9" stroke-width="0.9"/>
<rect x="505.78" y="42.28" width="1.24" height="1.24" fill="#27A9B9"/>
<rect x="504.58" y="55.58" width="1.24" height="1.24" fill="#27A9B9"/>
<rect x="509.58" y="61.48" width="1.24" height="1.24" fill="#27A9B9"/>
<rect x="500.78" y="74.78" width="1.24" height="1.24" fill="#27A9B9"/>
<rect x="500.78" y="77.78" width="1.24" height="1.24" fill="#27A9B9"/>
<line x1="505.50" y1="87.30" x2="505.50" y2="88.70" stroke="#333" stroke-width="0.6"/>
<text x="0.00" y="0.00" font-size="3.783" fill="#555" text-anchor="end" font-weight="normal" stroke="#555" stroke-width="0.08" transform="translate(466.50 91.20) scale(1.3 1) rotate(-60)">Low Drinker</text>
<text x="0.00" y="0.00" font-size="3.783" fill="#555" text-anchor="end" font-weight="normal" stroke="#555" stroke-width="0.08" transform="translate(480.40 91.20) scale(1.3 1) rotate(-60)">Heavy Drinker</text>
<text x="0.00" y="0.00" font-size="3.783" fill="#555" text-anchor="end" font-weight="normal" stroke="#555" stroke-width="0.08" transform="translate(494.40 91.20) scale(1.3 1) rotate(-60)">Very Heavy Drinker</text>
<text x="0.00" y="0.00" font-size="3.783" fill="#555" text-anchor="end" font-weight="normal" stroke="#555" stroke-width="0.08" transform="translate(508.40 91.20) scale(1.3 1) rotate(-60)">Binge Drinker</text>
<line x1="531.70" y1="20.10" x2="531.70" y2="87.80" stroke="#333" stroke-width="0.8"/>
<line x1="531.30" y1="87.40" x2="589.30" y2="87.40" stroke="#333" stroke-width="0.8"/>
<line x1="530.30" y1="20.70" x2="531.70" y2="20.70" stroke="#333" stroke-width="0.6"/>
<text x="0.00" y="0.00" font-size="3.9" fill="#484848" text-anchor="end" font-weight="normal" stroke="#484848" stroke-width="0.1" transform="translate(529.10 22.06) scale(1.3 1)">20%</text>
<line x1="530.30" y1="37.00" x2="531.70" y2="37.00" stroke="#333" stroke-width="0.6"/>
<text x="0.00" y="0.00" font-size="3.9" fill="#484848" text-anchor="end" font-weight="normal" stroke="#484848" stroke-width="0.1" transform="translate(529.10 38.37) scale(1.3 1)">15%</text>
<line x1="530.30" y1="52.70" x2="531.70" y2="52.70" stroke="#333" stroke-width="0.6"/>
<text x="0.00" y="0.00" font-size="3.9" fill="#484848" text-anchor="end" font-weight="normal" stroke="#484848" stroke-width="0.1" transform="translate(529.10 54.07) scale(1.3 1)">10%</text>
<line x1="530.30" y1="68.70" x2="531.70" y2="68.70" stroke="#333" stroke-width="0.6"/>
<text x="0.00" y="0.00" font-size="3.9" fill="#484848" text-anchor="end" font-weight="normal" stroke="#484848" stroke-width="0.1" transform="translate(529.10 70.06) scale(1.3 1)">5%</text>
<line x1="530.30" y1="85.00" x2="531.70" y2="85.00" stroke="#333" stroke-width="0.6"/>
<text x="0.00" y="0.00" font-size="3.9" fill="#484848" text-anchor="end" font-weight="normal" stroke="#484848" stroke-width="0.1" transform="translate(529.10 86.36) scale(1.3 1)">0%</text>
<text x="0.00" y="0.00" font-size="4.68" fill="#2a2a2a" text-anchor="middle" font-weight="normal" stroke="#2a2a2a" stroke-width="0.03" transform="translate(558.80 17.60) scale(1.12 1)">OPC</text>
<polyline points="539.70,24.70 539.70,23.10 582.50,23.10 582.50,24.70" fill="none" stroke="#8a8a8a" stroke-width="0.6"/>
<text x="0.00" y="0.00" font-size="3.432" fill="#333" text-anchor="middle" font-weight="normal" stroke="#333" stroke-width="0.06" transform="translate(561.10 22.30) scale(1.3 1)">N.S.</text>
<polyline points="539.70,30.60 539.70,29.00 567.70,29.00 567.70,30.60" fill="none" stroke="#8a8a8a" stroke-width="0.6"/>
<text x="0.00" y="0.00" font-size="3.9" fill="#333" text-anchor="middle" font-weight="normal" stroke="#333" stroke-width="0.06" transform="translate(553.70 28.20) scale(1.3 1)">*</text>
<polyline points="539.70,36.50 539.70,34.90 553.80,34.90 553.80,36.50" fill="none" stroke="#8a8a8a" stroke-width="0.6"/>
<text x="0.00" y="0.00" font-size="3.432" fill="#333" text-anchor="middle" font-weight="normal" stroke="#333" stroke-width="0.06" transform="translate(546.75 34.10) scale(1.3 1)">N.S.</text>
<line x1="539.90" y1="35.50" x2="539.90" y2="40.90" stroke="#8299CF" stroke-width="0.8"/>
<line x1="539.90" y1="82.30" x2="539.90" y2="84.40" stroke="#8299CF" stroke-width="0.8"/>
<rect x="534.30" y="40.90" width="11.20" height="41.40" fill="none" stroke="#8299CF" stroke-width="0.85"/>
<line x1="534.30" y1="55.70" x2="545.50" y2="55.70" stroke="#2E4D9B" stroke-width="0.9"/>
<rect x="537.48" y="36.38" width="1.24" height="1.24" fill="#2E4D9B"/>
<rect x="541.38" y="35.48" width="1.24" height="1.24" fill="#2E4D9B"/>
<rect x="537.48" y="61.58" width="1.24" height="1.24" fill="#2E4D9B"/>
<rect x="534.58" y="79.88" width="1.24" height="1.24" fill="#2E4D9B"/>
<rect x="537.48" y="83.78" width="1.24" height="1.24" fill="#2E4D9B"/>
<rect x="541.98" y="83.78" width="1.24" height="1.24" fill="#2E4D9B"/>
<line x1="539.90" y1="87.40" x2="539.90" y2="88.80" stroke="#333" stroke-width="0.6"/>
<line x1="554.10" y1="45.90" x2="554.10" y2="61.60" stroke="#F2948E" stroke-width="0.8"/>
<line x1="554.10" y1="81.40" x2="554.10" y2="84.40" stroke="#F2948E" stroke-width="0.8"/>
<rect x="548.50" y="61.60" width="11.20" height="19.80" fill="none" stroke="#F2948E" stroke-width="0.85"/>
<line x1="548.50" y1="75.50" x2="559.70" y2="75.50" stroke="#E8352E" stroke-width="0.9"/>
<rect x="556.18" y="45.88" width="1.24" height="1.24" fill="#E8352E"/>
<rect x="549.38" y="65.98" width="1.24" height="1.24" fill="#E8352E"/>
<rect x="551.38" y="83.38" width="1.24" height="1.24" fill="#E8352E"/>
<line x1="554.10" y1="87.40" x2="554.10" y2="88.80" stroke="#333" stroke-width="0.6"/>
<line x1="568.00" y1="78.40" x2="568.00" y2="78.40" stroke="#98DC8C" stroke-width="0.8"/>
<line x1="568.00" y1="82.30" x2="568.00" y2="82.30" stroke="#98DC8C" stroke-width="0.8"/>
<rect x="562.40" y="78.40" width="11.20" height="3.90" fill="none" stroke="#98DC8C" stroke-width="0.85"/>
<line x1="562.40" y1="80.50" x2="573.60" y2="80.50" stroke="#58C24A" stroke-width="0.9"/>
<rect x="570.08" y="79.28" width="1.24" height="1.24" fill="#58C24A"/>
<rect x="565.38" y="79.88" width="1.24" height="1.24" fill="#58C24A"/>
<line x1="568.00" y1="87.40" x2="568.00" y2="88.80" stroke="#333" stroke-width="0.6"/>
<line x1="582.10" y1="38.50" x2="582.10" y2="43.80" stroke="#7CCBD5" stroke-width="0.8"/>
<line x1="582.10" y1="84.40" x2="582.10" y2="84.40" stroke="#7CCBD5" stroke-width="0.8"/>
<rect x="576.60" y="43.80" width="11.00" height="40.60" fill="none" stroke="#7CCBD5" stroke-width="0.85"/>
<line x1="576.60" y1="50.90" x2="587.60" y2="50.90" stroke="#27A9B9" stroke-width="0.9"/>
<rect x="578.08" y="38.48" width="1.24" height="1.24" fill="#27A9B9"/>
<rect x="585.78" y="38.48" width="1.24" height="1.24" fill="#27A9B9"/>
<rect x="584.88" y="51.18" width="1.24" height="1.24" fill="#27A9B9"/>
<rect x="578.08" y="83.78" width="1.24" height="1.24" fill="#27A9B9"/>
<rect x="585.78" y="83.78" width="1.24" height="1.24" fill="#27A9B9"/>
<line x1="582.10" y1="87.40" x2="582.10" y2="88.80" stroke="#333" stroke-width="0.6"/>
<text x="0.00" y="0.00" font-size="3.783" fill="#555" text-anchor="end" font-weight="normal" stroke="#555" stroke-width="0.08" transform="translate(542.80 91.30) scale(1.3 1) rotate(-60)">Low Drinker</text>
<text x="0.00" y="0.00" font-size="3.783" fill="#555" text-anchor="end" font-weight="normal" stroke="#555" stroke-width="0.08" transform="translate(557.00 91.30) scale(1.3 1) rotate(-60)">Heavy Drinker</text>
<text x="0.00" y="0.00" font-size="3.783" fill="#555" text-anchor="end" font-weight="normal" stroke="#555" stroke-width="0.08" transform="translate(570.90 91.30) scale(1.3 1) rotate(-60)">Very Heavy Drinker</text>
<text x="0.00" y="0.00" font-size="3.783" fill="#555" text-anchor="end" font-weight="normal" stroke="#555" stroke-width="0.08" transform="translate(585.00 91.30) scale(1.3 1) rotate(-60)">Binge Drinker</text>
<line x1="607.40" y1="20.10" x2="607.40" y2="87.70" stroke="#333" stroke-width="0.8"/>
<line x1="607.00" y1="87.30" x2="666.00" y2="87.30" stroke="#333" stroke-width="0.8"/>
<line x1="606.00" y1="28.10" x2="607.40" y2="28.10" stroke="#333" stroke-width="0.6"/>
<text x="0.00" y="0.00" font-size="3.9" fill="#484848" text-anchor="end" font-weight="normal" stroke="#484848" stroke-width="0.1" transform="translate(604.80 29.46) scale(1.3 1)">15%</text>
<line x1="606.00" y1="46.50" x2="607.40" y2="46.50" stroke="#333" stroke-width="0.6"/>
<text x="0.00" y="0.00" font-size="3.9" fill="#484848" text-anchor="end" font-weight="normal" stroke="#484848" stroke-width="0.1" transform="translate(604.80 47.87) scale(1.3 1)">10%</text>
<line x1="606.00" y1="65.70" x2="607.40" y2="65.70" stroke="#333" stroke-width="0.6"/>
<text x="0.00" y="0.00" font-size="3.9" fill="#484848" text-anchor="end" font-weight="normal" stroke="#484848" stroke-width="0.1" transform="translate(604.80 67.06) scale(1.3 1)">5%</text>
<line x1="606.00" y1="85.00" x2="607.40" y2="85.00" stroke="#333" stroke-width="0.6"/>
<text x="0.00" y="0.00" font-size="3.9" fill="#484848" text-anchor="end" font-weight="normal" stroke="#484848" stroke-width="0.1" transform="translate(604.80 86.36) scale(1.3 1)">0%</text>
<text x="0.00" y="0.00" font-size="4.68" fill="#2a2a2a" text-anchor="middle" font-weight="normal" stroke="#2a2a2a" stroke-width="0.03" transform="translate(637.90 17.60) scale(1.12 1)">Microglia</text>
<polyline points="616.30,24.70 616.30,23.10 658.60,23.10 658.60,24.70" fill="none" stroke="#8a8a8a" stroke-width="0.6"/>
<text x="0.00" y="0.00" font-size="3.432" fill="#333" text-anchor="middle" font-weight="normal" stroke="#333" stroke-width="0.06" transform="translate(637.45 22.30) scale(1.3 1)">N.S.</text>
<polyline points="616.30,30.60 616.30,29.00 644.70,29.00 644.70,30.60" fill="none" stroke="#8a8a8a" stroke-width="0.6"/>
<text x="0.00" y="0.00" font-size="3.432" fill="#333" text-anchor="middle" font-weight="normal" stroke="#333" stroke-width="0.06" transform="translate(630.50 28.20) scale(1.3 1)">N.S.</text>
<polyline points="616.30,36.50 616.30,34.90 630.50,34.90 630.50,36.50" fill="none" stroke="#8a8a8a" stroke-width="0.6"/>
<text x="0.00" y="0.00" font-size="3.432" fill="#333" text-anchor="middle" font-weight="normal" stroke="#333" stroke-width="0.06" transform="translate(623.40 34.10) scale(1.3 1)">N.S.</text>
<line x1="616.30" y1="66.60" x2="616.30" y2="71.00" stroke="#8299CF" stroke-width="0.8"/>
<line x1="616.30" y1="79.30" x2="616.30" y2="84.40" stroke="#8299CF" stroke-width="0.8"/>
<rect x="610.40" y="71.00" width="11.80" height="8.30" fill="none" stroke="#8299CF" stroke-width="0.85"/>
<line x1="610.40" y1="77.60" x2="622.20" y2="77.60" stroke="#2E4D9B" stroke-width="0.9"/>
<rect x="615.08" y="58.58" width="1.24" height="1.24" fill="#2E4D9B"/>
<rect x="613.58" y="67.48" width="1.24" height="1.24" fill="#2E4D9B"/>
<rect x="619.58" y="71.88" width="1.24" height="1.24" fill="#2E4D9B"/>
<rect x="612.18" y="77.28" width="1.24" height="1.24" fill="#2E4D9B"/>
<rect x="616.58" y="77.78" width="1.24" height="1.24" fill="#2E4D9B"/>
<rect x="613.58" y="83.78" width="1.24" height="1.24" fill="#2E4D9B"/>
<line x1="616.30" y1="87.30" x2="616.30" y2="88.70" stroke="#333" stroke-width="0.6"/>
<line x1="630.30" y1="76.40" x2="630.30" y2="76.40" stroke="#F2948E" stroke-width="0.8"/>
<line x1="630.30" y1="84.40" x2="630.30" y2="84.40" stroke="#F2948E" stroke-width="0.8"/>
<rect x="624.70" y="76.40" width="11.20" height="8.00" fill="none" stroke="#F2948E" stroke-width="0.85"/>
<line x1="624.70" y1="83.50" x2="635.90" y2="83.50" stroke="#E8352E" stroke-width="0.9"/>
<rect x="629.38" y="62.48" width="1.24" height="1.24" fill="#E8352E"/>
<rect x="634.38" y="62.48" width="1.24" height="1.24" fill="#E8352E"/>
<rect x="625.48" y="80.78" width="1.24" height="1.24" fill="#E8352E"/>
<rect x="632.28" y="82.88" width="1.24" height="1.24" fill="#E8352E"/>
<line x1="630.30" y1="87.30" x2="630.30" y2="88.70" stroke="#333" stroke-width="0.6"/>
<line x1="644.20" y1="37.00" x2="644.20" y2="57.70" stroke="#98DC8C" stroke-width="0.8"/>
<line x1="644.20" y1="81.40" x2="644.20" y2="84.40" stroke="#98DC8C" stroke-width="0.8"/>
<rect x="638.60" y="57.70" width="11.20" height="23.70" fill="none" stroke="#98DC8C" stroke-width="0.85"/>
<line x1="638.60" y1="79.30" x2="649.80" y2="79.30" stroke="#58C24A" stroke-width="0.9"/>
<rect x="638.18" y="36.38" width="1.24" height="1.24" fill="#58C24A"/>
<rect x="647.68" y="83.78" width="1.24" height="1.24" fill="#58C24A"/>
<line x1="644.20" y1="87.30" x2="644.20" y2="88.70" stroke="#333" stroke-width="0.6"/>
<line x1="658.20" y1="57.70" x2="658.20" y2="66.60" stroke="#7CCBD5" stroke-width="0.8"/>
<line x1="658.20" y1="84.40" x2="658.20" y2="84.40" stroke="#7CCBD5" stroke-width="0.8"/>
<rect x="652.70" y="66.60" width="11.00" height="17.80" fill="none" stroke="#7CCBD5" stroke-width="0.85"/>
<line x1="652.70" y1="81.40" x2="663.70" y2="81.40" stroke="#27A9B9" stroke-width="0.9"/>
<rect x="653.58" y="57.68" width="1.24" height="1.24" fill="#27A9B9"/>
<rect x="658.88" y="57.68" width="1.24" height="1.24" fill="#27A9B9"/>
<rect x="663.08" y="68.08" width="1.24" height="1.24" fill="#27A9B9"/>
<rect x="655.08" y="77.78" width="1.24" height="1.24" fill="#27A9B9"/>
<rect x="653.58" y="83.78" width="1.24" height="1.24" fill="#27A9B9"/>
<rect x="658.88" y="83.78" width="1.24" height="1.24" fill="#27A9B9"/>
<line x1="658.20" y1="87.30" x2="658.20" y2="88.70" stroke="#333" stroke-width="0.6"/>
<text x="0.00" y="0.00" font-size="3.783" fill="#555" text-anchor="end" font-weight="normal" stroke="#555" stroke-width="0.08" transform="translate(619.20 91.20) scale(1.3 1) rotate(-60)">Low Drinker</text>
<text x="0.00" y="0.00" font-size="3.783" fill="#555" text-anchor="end" font-weight="normal" stroke="#555" stroke-width="0.08" transform="translate(633.20 91.20) scale(1.3 1) rotate(-60)">Heavy Drinker</text>
<text x="0.00" y="0.00" font-size="3.783" fill="#555" text-anchor="end" font-weight="normal" stroke="#555" stroke-width="0.08" transform="translate(647.10 91.20) scale(1.3 1) rotate(-60)">Very Heavy Drinker</text>
<text x="0.00" y="0.00" font-size="3.783" fill="#555" text-anchor="end" font-weight="normal" stroke="#555" stroke-width="0.08" transform="translate(661.10 91.20) scale(1.3 1) rotate(-60)">Binge Drinker</text>
<line x1="194.40" y1="150.10" x2="194.40" y2="215.70" stroke="#333" stroke-width="0.8"/>
<line x1="194.00" y1="215.30" x2="256.40" y2="215.30" stroke="#333" stroke-width="0.8"/>
<line x1="193.00" y1="164.60" x2="194.40" y2="164.60" stroke="#333" stroke-width="0.6"/>
<text x="0.00" y="0.00" font-size="3.8" fill="#484848" text-anchor="end" font-weight="normal" stroke="#484848" stroke-width="0.1" transform="translate(191.80 165.93) scale(1.13 1)">6%</text>
<line x1="193.00" y1="180.20" x2="194.40" y2="180.20" stroke="#333" stroke-width="0.6"/>
<text x="0.00" y="0.00" font-size="3.8" fill="#484848" text-anchor="end" font-weight="normal" stroke="#484848" stroke-width="0.1" transform="translate(191.80 181.53) scale(1.13 1)">4%</text>
<line x1="193.00" y1="196.20" x2="194.40" y2="196.20" stroke="#333" stroke-width="0.6"/>
<text x="0.00" y="0.00" font-size="3.8" fill="#484848" text-anchor="end" font-weight="normal" stroke="#484848" stroke-width="0.1" transform="translate(191.80 197.53) scale(1.13 1)">2%</text>
<line x1="193.00" y1="212.50" x2="194.40" y2="212.50" stroke="#333" stroke-width="0.6"/>
<text x="0.00" y="0.00" font-size="3.8" fill="#484848" text-anchor="end" font-weight="normal" stroke="#484848" stroke-width="0.1" transform="translate(191.80 213.83) scale(1.13 1)">0%</text>
<text x="0.00" y="0.00" font-size="4.65" fill="#1e1e1e" text-anchor="middle" font-weight="normal" stroke="#1e1e1e" stroke-width="0.12" transform="translate(183.00 180.80) scale(1.2656 1) rotate(-90)">Relative Percent</text>
<text x="0.00" y="0.00" font-size="4.56" fill="#2a2a2a" text-anchor="middle" font-weight="normal" stroke="#2a2a2a" stroke-width="0.03" transform="translate(225.80 146.80) scale(1.052 1)">MSN_D2 (C)</text>
<polyline points="211.60,154.10 211.60,152.50 239.50,152.50 239.50,154.10" fill="none" stroke="#8a8a8a" stroke-width="0.6"/>
<text x="0.00" y="0.00" font-size="3.8" fill="#333" text-anchor="middle" font-weight="normal" stroke="#333" stroke-width="0.06" transform="translate(225.55 151.70) scale(1.13 1)">#</text>
<line x1="211.60" y1="156.10" x2="211.60" y2="179.20" stroke="#8299CF" stroke-width="0.8"/>
<line x1="211.60" y1="199.00" x2="211.60" y2="212.00" stroke="#8299CF" stroke-width="0.8"/>
<rect x="201.25" y="179.20" width="20.70" height="19.80" fill="none" stroke="#8299CF" stroke-width="0.85"/>
<line x1="201.25" y1="186.40" x2="221.95" y2="186.40" stroke="#2E4D9B" stroke-width="0.9"/>
<rect x="201.18" y="154.98" width="1.24" height="1.24" fill="#2E4D9B"/>
<rect x="213.88" y="155.98" width="1.24" height="1.24" fill="#2E4D9B"/>
<rect x="212.08" y="167.78" width="1.24" height="1.24" fill="#2E4D9B"/>
<rect x="218.18" y="169.88" width="1.24" height="1.24" fill="#2E4D9B"/>
<rect x="213.28" y="174.38" width="1.24" height="1.24" fill="#2E4D9B"/>
<rect x="204.28" y="177.08" width="1.24" height="1.24" fill="#2E4D9B"/>
<rect x="211.48" y="179.48" width="1.24" height="1.24" fill="#2E4D9B"/>
<rect x="215.98" y="177.68" width="1.24" height="1.24" fill="#2E4D9B"/>
<rect x="208.78" y="181.58" width="1.24" height="1.24" fill="#2E4D9B"/>
<rect x="217.78" y="181.58" width="1.24" height="1.24" fill="#2E4D9B"/>
<rect x="202.48" y="183.08" width="1.24" height="1.24" fill="#2E4D9B"/>
<rect x="215.08" y="184.88" width="1.24" height="1.24" fill="#2E4D9B"/>
<rect x="207.38" y="189.18" width="1.24" height="1.24" fill="#2E4D9B"/>
<rect x="206.68" y="190.98" width="1.24" height="1.24" fill="#2E4D9B"/>
<rect x="218.18" y="188.78" width="1.24" height="1.24" fill="#2E4D9B"/>
<rect x="215.08" y="190.58" width="1.24" height="1.24" fill="#2E4D9B"/>
<rect x="201.98" y="192.08" width="1.24" height="1.24" fill="#2E4D9B"/>
<rect x="204.28" y="196.88" width="1.24" height="1.24" fill="#2E4D9B"/>
<rect x="205.18" y="199.28" width="1.24" height="1.24" fill="#2E4D9B"/>
<rect x="212.08" y="195.68" width="1.24" height="1.24" fill="#2E4D9B"/>
<rect x="210.98" y="201.48" width="1.24" height="1.24" fill="#2E4D9B"/>
<rect x="219.98" y="204.68" width="1.24" height="1.24" fill="#2E4D9B"/>
<rect x="202.48" y="205.98" width="1.24" height="1.24" fill="#2E4D9B"/>
<rect x="210.58" y="207.18" width="1.24" height="1.24" fill="#2E4D9B"/>
<rect x="202.48" y="210.48" width="1.24" height="1.24" fill="#2E4D9B"/>
<rect x="217.78" y="210.48" width="1.24" height="1.24" fill="#2E4D9B"/>
<line x1="211.60" y1="215.30" x2="211.60" y2="216.70" stroke="#333" stroke-width="0.6"/>
<line x1="239.50" y1="176.80" x2="239.50" y2="186.20" stroke="#F2948E" stroke-width="0.8"/>
<line x1="239.50" y1="202.10" x2="239.50" y2="212.00" stroke="#F2948E" stroke-width="0.8"/>
<rect x="228.90" y="186.20" width="21.20" height="15.90" fill="none" stroke="#F2948E" stroke-width="0.85"/>
<line x1="228.90" y1="194.50" x2="250.10" y2="194.50" stroke="#E8352E" stroke-width="0.9"/>
<rect x="239.38" y="160.38" width="1.24" height="1.24" fill="#E8352E"/>
<rect x="230.38" y="179.48" width="1.24" height="1.24" fill="#E8352E"/>
<rect x="236.18" y="178.38" width="1.24" height="1.24" fill="#E8352E"/>
<rect x="243.88" y="176.18" width="1.24" height="1.24" fill="#E8352E"/>
<rect x="248.48" y="179.78" width="1.24" height="1.24" fill="#E8352E"/>
<rect x="248.08" y="185.18" width="1.24" height="1.24" fill="#E8352E"/>
<rect x="232.18" y="191.18" width="1.24" height="1.24" fill="#E8352E"/>
<rect x="234.88" y="190.58" width="1.24" height="1.24" fill="#E8352E"/>
<rect x="241.18" y="191.48" width="1.24" height="1.24" fill="#E8352E"/>
<rect x="247.58" y="190.58" width="1.24" height="1.24" fill="#E8352E"/>
<rect x="229.48" y="195.98" width="1.24" height="1.24" fill="#E8352E"/>
<rect x="234.38" y="195.68" width="1.24" height="1.24" fill="#E8352E"/>
<rect x="242.68" y="195.68" width="1.24" height="1.24" fill="#E8352E"/>
<rect x="248.08" y="195.68" width="1.24" height="1.24" fill="#E8352E"/>
<rect x="228.58" y="201.08" width="1.24" height="1.24" fill="#E8352E"/>
<rect x="235.48" y="201.78" width="1.24" height="1.24" fill="#E8352E"/>
<rect x="240.88" y="201.48" width="1.24" height="1.24" fill="#E8352E"/>
<rect x="233.08" y="205.98" width="1.24" height="1.24" fill="#E8352E"/>
<rect x="241.58" y="205.38" width="1.24" height="1.24" fill="#E8352E"/>
<rect x="231.88" y="208.98" width="1.24" height="1.24" fill="#E8352E"/>
<rect x="236.18" y="210.78" width="1.24" height="1.24" fill="#E8352E"/>
<rect x="242.08" y="209.58" width="1.24" height="1.24" fill="#E8352E"/>
<rect x="246.68" y="210.78" width="1.24" height="1.24" fill="#E8352E"/>
<line x1="239.50" y1="215.30" x2="239.50" y2="216.70" stroke="#333" stroke-width="0.6"/>
<text x="0.00" y="0.00" font-size="3.686" fill="#555" text-anchor="end" font-weight="normal" stroke="#555" stroke-width="0.08" transform="translate(214.20 219.20) scale(1.13 1) rotate(-60)">Control</text>
<text x="0.00" y="0.00" font-size="3.686" fill="#555" text-anchor="end" font-weight="normal" stroke="#555" stroke-width="0.08" transform="translate(242.90 219.20) scale(1.13 1) rotate(-60)">AUD</text>
<line x1="271.60" y1="149.90" x2="271.60" y2="215.70" stroke="#333" stroke-width="0.8"/>
<line x1="271.20" y1="215.30" x2="332.40" y2="215.30" stroke="#333" stroke-width="0.8"/>
<line x1="270.20" y1="162.00" x2="271.60" y2="162.00" stroke="#333" stroke-width="0.6"/>
<text x="0.00" y="0.00" font-size="3.8" fill="#484848" text-anchor="end" font-weight="normal" stroke="#484848" stroke-width="0.1" transform="translate(269.00 163.33) scale(1.13 1)">30%</text>
<line x1="270.20" y1="178.80" x2="271.60" y2="178.80" stroke="#333" stroke-width="0.6"/>
<text x="0.00" y="0.00" font-size="3.8" fill="#484848" text-anchor="end" font-weight="normal" stroke="#484848" stroke-width="0.1" transform="translate(269.00 180.13) scale(1.13 1)">20%</text>
<line x1="270.20" y1="195.80" x2="271.60" y2="195.80" stroke="#333" stroke-width="0.6"/>
<text x="0.00" y="0.00" font-size="3.8" fill="#484848" text-anchor="end" font-weight="normal" stroke="#484848" stroke-width="0.1" transform="translate(269.00 197.13) scale(1.13 1)">10%</text>
<line x1="270.20" y1="212.60" x2="271.60" y2="212.60" stroke="#333" stroke-width="0.6"/>
<text x="0.00" y="0.00" font-size="3.8" fill="#484848" text-anchor="end" font-weight="normal" stroke="#484848" stroke-width="0.1" transform="translate(269.00 213.93) scale(1.13 1)">0%</text>
<text x="0.00" y="0.00" font-size="4.56" fill="#2a2a2a" text-anchor="middle" font-weight="normal" stroke="#2a2a2a" stroke-width="0.03" transform="translate(302.70 146.80) scale(1.052 1)">Oligo (A)</text>
<polyline points="288.60,154.20 288.60,152.60 316.80,152.60 316.80,154.20" fill="none" stroke="#8a8a8a" stroke-width="0.6"/>
<text x="0.00" y="0.00" font-size="3.8" fill="#333" text-anchor="middle" font-weight="normal" stroke="#333" stroke-width="0.06" transform="translate(302.70 151.80) scale(1.13 1)">*</text>
<line x1="288.90" y1="178.60" x2="288.90" y2="192.10" stroke="#8299CF" stroke-width="0.8"/>
<line x1="288.90" y1="203.00" x2="288.90" y2="210.20" stroke="#8299CF" stroke-width="0.8"/>
<rect x="278.35" y="192.10" width="21.10" height="10.90" fill="none" stroke="#8299CF" stroke-width="0.85"/>
<line x1="278.35" y1="198.50" x2="299.45" y2="198.50" stroke="#2E4D9B" stroke-width="0.9"/>
<rect x="287.98" y="171.68" width="1.24" height="1.24" fill="#2E4D9B"/>
<rect x="290.88" y="171.68" width="1.24" height="1.24" fill="#2E4D9B"/>
<rect x="278.58" y="177.98" width="1.24" height="1.24" fill="#2E4D9B"/>
<rect x="277.68" y="189.18" width="1.24" height="1.24" fill="#2E4D9B"/>
<rect x="289.08" y="188.48" width="1.24" height="1.24" fill="#2E4D9B"/>
<rect x="291.18" y="190.58" width="1.24" height="1.24" fill="#2E4D9B"/>
<rect x="292.08" y="189.68" width="1.24" height="1.24" fill="#2E4D9B"/>
<rect x="289.38" y="192.38" width="1.24" height="1.24" fill="#2E4D9B"/>
<rect x="286.68" y="194.58" width="1.24" height="1.24" fill="#2E4D9B"/>
<rect x="289.38" y="195.68" width="1.24" height="1.24" fill="#2E4D9B"/>
<rect x="283.08" y="197.48" width="1.24" height="1.24" fill="#2E4D9B"/>
<rect x="284.88" y="196.88" width="1.24" height="1.24" fill="#2E4D9B"/>
<rect x="292.68" y="198.18" width="1.24" height="1.24" fill="#2E4D9B"/>
<rect x="294.78" y="199.68" width="1.24" height="1.24" fill="#2E4D9B"/>
<rect x="281.88" y="199.68" width="1.24" height="1.24" fill="#2E4D9B"/>
<rect x="283.98" y="199.98" width="1.24" height="1.24" fill="#2E4D9B"/>
<rect x="279.98" y="201.98" width="1.24" height="1.24" fill="#2E4D9B"/>
<rect x="282.18" y="203.28" width="1.24" height="1.24" fill="#2E4D9B"/>
<rect x="291.18" y="204.68" width="1.24" height="1.24" fill="#2E4D9B"/>
<rect x="288.48" y="205.38" width="1.24" height="1.24" fill="#2E4D9B"/>
<rect x="282.58" y="206.88" width="1.24" height="1.24" fill="#2E4D9B"/>
<rect x="288.48" y="208.98" width="1.24" height="1.24" fill="#2E4D9B"/>
<rect x="279.98" y="210.78" width="1.24" height="1.24" fill="#2E4D9B"/>
<line x1="288.90" y1="215.30" x2="288.90" y2="216.70" stroke="#333" stroke-width="0.6"/>
<line x1="316.50" y1="183.10" x2="316.50" y2="199.40" stroke="#F2948E" stroke-width="0.8"/>
<line x1="316.50" y1="208.90" x2="316.50" y2="212.00" stroke="#F2948E" stroke-width="0.8"/>
<rect x="305.95" y="199.40" width="21.10" height="9.50" fill="none" stroke="#F2948E" stroke-width="0.85"/>
<line x1="305.95" y1="205.70" x2="327.05" y2="205.70" stroke="#E8352E" stroke-width="0.9"/>
<rect x="316.08" y="154.98" width="1.24" height="1.24" fill="#E8352E"/>
<rect x="325.48" y="154.98" width="1.24" height="1.24" fill="#E8352E"/>
<rect x="316.38" y="182.48" width="1.24" height="1.24" fill="#E8352E"/>
<rect x="318.58" y="182.48" width="1.24" height="1.24" fill="#E8352E"/>
<rect x="311.88" y="185.18" width="1.24" height="1.24" fill="#E8352E"/>
<rect x="312.78" y="184.88" width="1.24" height="1.24" fill="#E8352E"/>
<rect x="316.78" y="190.98" width="1.24" height="1.24" fill="#E8352E"/>
<rect x="319.68" y="196.38" width="1.24" height="1.24" fill="#E8352E"/>
<rect x="309.18" y="196.88" width="1.24" height="1.24" fill="#E8352E"/>
<rect x="313.68" y="199.68" width="1.24" height="1.24" fill="#E8352E"/>
<rect x="319.08" y="201.48" width="1.24" height="1.24" fill="#E8352E"/>
<rect x="321.88" y="200.58" width="1.24" height="1.24" fill="#E8352E"/>
<rect x="306.48" y="202.38" width="1.24" height="1.24" fill="#E8352E"/>
<rect x="310.08" y="203.58" width="1.24" height="1.24" fill="#E8352E"/>
<rect x="314.58" y="205.08" width="1.24" height="1.24" fill="#E8352E"/>
<rect x="317.28" y="204.68" width="1.24" height="1.24" fill="#E8352E"/>
<rect x="311.88" y="206.88" width="1.24" height="1.24" fill="#E8352E"/>
<rect x="319.98" y="206.48" width="1.24" height="1.24" fill="#E8352E"/>
<rect x="323.68" y="207.18" width="1.24" height="1.24" fill="#E8352E"/>
<rect x="304.68" y="211.38" width="1.24" height="1.24" fill="#E8352E"/>
<rect x="310.08" y="211.38" width="1.24" height="1.24" fill="#E8352E"/>
<rect x="316.38" y="210.78" width="1.24" height="1.24" fill="#E8352E"/>
<rect x="319.08" y="211.38" width="1.24" height="1.24" fill="#E8352E"/>
<rect x="321.88" y="211.38" width="1.24" height="1.24" fill="#E8352E"/>
<rect x="325.08" y="211.38" width="1.24" height="1.24" fill="#E8352E"/>
<line x1="316.50" y1="215.30" x2="316.50" y2="216.70" stroke="#333" stroke-width="0.6"/>
<text x="0.00" y="0.00" font-size="3.686" fill="#555" text-anchor="end" font-weight="normal" stroke="#555" stroke-width="0.08" transform="translate(291.70 219.20) scale(1.13 1) rotate(-60)">Control</text>
<text x="0.00" y="0.00" font-size="3.686" fill="#555" text-anchor="end" font-weight="normal" stroke="#555" stroke-width="0.08" transform="translate(319.70 219.20) scale(1.13 1) rotate(-60)">AUD</text>
<line x1="364.10" y1="149.10" x2="364.10" y2="215.10" stroke="#333" stroke-width="0.8"/>
<line x1="363.70" y1="214.70" x2="418.80" y2="214.70" stroke="#333" stroke-width="0.8"/>
<line x1="362.70" y1="162.60" x2="364.10" y2="162.60" stroke="#333" stroke-width="0.6"/>
<text x="361.50" y="164.10" font-size="4.3" fill="#484848" text-anchor="end" font-weight="normal" stroke="#484848" stroke-width="0.1">30%</text>
<line x1="362.70" y1="179.00" x2="364.10" y2="179.00" stroke="#333" stroke-width="0.6"/>
<text x="361.50" y="180.50" font-size="4.3" fill="#484848" text-anchor="end" font-weight="normal" stroke="#484848" stroke-width="0.1">20%</text>
<line x1="362.70" y1="195.10" x2="364.10" y2="195.10" stroke="#333" stroke-width="0.6"/>
<text x="361.50" y="196.60" font-size="4.3" fill="#484848" text-anchor="end" font-weight="normal" stroke="#484848" stroke-width="0.1">10%</text>
<line x1="362.70" y1="211.80" x2="364.10" y2="211.80" stroke="#333" stroke-width="0.6"/>
<text x="361.50" y="213.31" font-size="4.3" fill="#484848" text-anchor="end" font-weight="normal" stroke="#484848" stroke-width="0.1">0%</text>
<text x="0.00" y="0.00" font-size="4.5" fill="#1e1e1e" text-anchor="middle" font-weight="normal" stroke="#1e1e1e" stroke-width="0.12" transform="translate(350.80 182.30) scale(1.12 1) rotate(-90)">Relative Percent</text>
<text x="397.90" y="144.50" font-size="5.159999999999999" fill="#2a2a2a" text-anchor="middle" font-weight="normal" stroke="#2a2a2a" stroke-width="0.03">NascMSN</text>
<polyline points="372.20,152.30 372.20,150.70 414.60,150.70 414.60,152.30" fill="none" stroke="#8a8a8a" stroke-width="0.6"/>
<text x="393.40" y="149.90" font-size="3.784" fill="#333" text-anchor="middle" font-weight="normal" stroke="#333" stroke-width="0.06">N.S.</text>
<polyline points="372.20,158.80 372.20,157.20 400.50,157.20 400.50,158.80" fill="none" stroke="#8a8a8a" stroke-width="0.6"/>
<text x="386.35" y="156.40" font-size="3.784" fill="#333" text-anchor="middle" font-weight="normal" stroke="#333" stroke-width="0.06">N.S.</text>
<polyline points="372.20,164.50 372.20,162.90 386.60,162.90 386.60,164.50" fill="none" stroke="#8a8a8a" stroke-width="0.6"/>
<text x="379.40" y="162.10" font-size="3.784" fill="#333" text-anchor="middle" font-weight="normal" stroke="#333" stroke-width="0.06">N.S.</text>
<line x1="373.00" y1="163.60" x2="373.00" y2="174.80" stroke="#8299CF" stroke-width="0.8"/>
<line x1="373.00" y1="197.30" x2="373.00" y2="211.20" stroke="#8299CF" stroke-width="0.8"/>
<rect x="368.00" y="174.80" width="10.00" height="22.50" fill="none" stroke="#8299CF" stroke-width="0.85"/>
<line x1="368.00" y1="185.10" x2="378.00" y2="185.10" stroke="#2E4D9B" stroke-width="0.9"/>
<rect x="367.68" y="165.58" width="1.24" height="1.24" fill="#2E4D9B"/>
<rect x="374.08" y="169.38" width="1.24" height="1.24" fill="#2E4D9B"/>
<rect x="370.58" y="182.28" width="1.24" height="1.24" fill="#2E4D9B"/>
<rect x="374.78" y="183.88" width="1.24" height="1.24" fill="#2E4D9B"/>
<rect x="367.68" y="191.88" width="1.24" height="1.24" fill="#2E4D9B"/>
<rect x="371.58" y="191.88" width="1.24" height="1.24" fill="#2E4D9B"/>
<rect x="369.28" y="210.58" width="1.24" height="1.24" fill="#2E4D9B"/>
<rect x="373.18" y="209.58" width="1.24" height="1.24" fill="#2E4D9B"/>
<line x1="373.00" y1="214.70" x2="373.00" y2="216.10" stroke="#333" stroke-width="0.6"/>
<line x1="386.60" y1="165.20" x2="386.60" y2="171.60" stroke="#F2948E" stroke-width="0.8"/>
<line x1="386.60" y1="194.10" x2="386.60" y2="199.60" stroke="#F2948E" stroke-width="0.8"/>
<rect x="381.80" y="171.60" width="9.60" height="22.50" fill="none" stroke="#F2948E" stroke-width="0.85"/>
<line x1="381.80" y1="179.70" x2="391.40" y2="179.70" stroke="#E8352E" stroke-width="0.9"/>
<rect x="382.78" y="166.18" width="1.24" height="1.24" fill="#E8352E"/>
<rect x="387.58" y="164.58" width="1.24" height="1.24" fill="#E8352E"/>
<rect x="384.38" y="172.58" width="1.24" height="1.24" fill="#E8352E"/>
<rect x="389.18" y="182.88" width="1.24" height="1.24" fill="#E8352E"/>
<rect x="389.18" y="193.48" width="1.24" height="1.24" fill="#E8352E"/>
<rect x="385.98" y="198.38" width="1.24" height="1.24" fill="#E8352E"/>
<rect x="388.28" y="198.98" width="1.24" height="1.24" fill="#E8352E"/>
<line x1="386.60" y1="214.70" x2="386.60" y2="216.10" stroke="#333" stroke-width="0.6"/>
<line x1="413.60" y1="189.30" x2="413.60" y2="189.30" stroke="#7CCBD5" stroke-width="0.8"/>
<line x1="413.60" y1="193.20" x2="413.60" y2="193.20" stroke="#7CCBD5" stroke-width="0.8"/>
<rect x="408.50" y="189.30" width="10.20" height="3.90" fill="none" stroke="#7CCBD5" stroke-width="0.85"/>
<line x1="408.50" y1="191.00" x2="418.70" y2="191.00" stroke="#27A9B9" stroke-width="0.9"/>
<rect x="413.38" y="187.68" width="1.24" height="1.24" fill="#27A9B9"/>
<rect x="417.48" y="191.28" width="1.24" height="1.24" fill="#27A9B9"/>
<line x1="413.60" y1="214.70" x2="413.60" y2="216.10" stroke="#333" stroke-width="0.6"/>
<text x="0.00" y="0.00" font-size="4.170999999999999" fill="#555" text-anchor="end" font-weight="normal" stroke="#555" stroke-width="0.08" transform="translate(375.90 218.60) rotate(-60)">Control</text>
<text x="0.00" y="0.00" font-size="4.170999999999999" fill="#555" text-anchor="end" font-weight="normal" stroke="#555" stroke-width="0.08" transform="translate(389.50 218.60) rotate(-60)">Low Drinker</text>
<text x="0.00" y="0.00" font-size="4.170999999999999" fill="#555" text-anchor="end" font-weight="normal" stroke="#555" stroke-width="0.08" transform="translate(403.00 218.60) rotate(-60)">Heavy Drinker</text>
<text x="0.00" y="0.00" font-size="4.170999999999999" fill="#555" text-anchor="end" font-weight="normal" stroke="#555" stroke-width="0.08" transform="translate(416.50 218.60) rotate(-60)">Very Heavy Drinker</text>
<line x1="437.20" y1="148.30" x2="437.20" y2="215.10" stroke="#333" stroke-width="0.8"/>
<line x1="436.80" y1="214.70" x2="493.40" y2="214.70" stroke="#333" stroke-width="0.8"/>
<line x1="435.80" y1="150.40" x2="437.20" y2="150.40" stroke="#333" stroke-width="0.6"/>
<text x="434.60" y="151.91" font-size="4.3" fill="#484848" text-anchor="end" font-weight="normal" stroke="#484848" stroke-width="0.1">25%</text>
<line x1="435.80" y1="165.50" x2="437.20" y2="165.50" stroke="#333" stroke-width="0.6"/>
<text x="434.60" y="167.00" font-size="4.3" fill="#484848" text-anchor="end" font-weight="normal" stroke="#484848" stroke-width="0.1">20%</text>
<line x1="435.80" y1="181.50" x2="437.20" y2="181.50" stroke="#333" stroke-width="0.6"/>
<text x="434.60" y="183.00" font-size="4.3" fill="#484848" text-anchor="end" font-weight="normal" stroke="#484848" stroke-width="0.1">15%</text>
<line x1="435.80" y1="196.60" x2="437.20" y2="196.60" stroke="#333" stroke-width="0.6"/>
<text x="434.60" y="198.10" font-size="4.3" fill="#484848" text-anchor="end" font-weight="normal" stroke="#484848" stroke-width="0.1">10%</text>
<line x1="435.80" y1="212.00" x2="437.20" y2="212.00" stroke="#333" stroke-width="0.6"/>
<text x="434.60" y="213.50" font-size="4.3" fill="#484848" text-anchor="end" font-weight="normal" stroke="#484848" stroke-width="0.1">5%</text>
<text x="463.80" y="145.00" font-size="5.159999999999999" fill="#2a2a2a" text-anchor="middle" font-weight="normal" stroke="#2a2a2a" stroke-width="0.03">Oligo</text>
<polyline points="444.60,151.40 444.60,149.80 487.50,149.80 487.50,151.40" fill="none" stroke="#8a8a8a" stroke-width="0.6"/>
<text x="466.05" y="149.00" font-size="3.784" fill="#333" text-anchor="middle" font-weight="normal" stroke="#333" stroke-width="0.06">N.S.</text>
<polyline points="444.60,158.20 444.60,156.60 473.30,156.60 473.30,158.20" fill="none" stroke="#8a8a8a" stroke-width="0.6"/>
<text x="458.95" y="155.80" font-size="3.784" fill="#333" text-anchor="middle" font-weight="normal" stroke="#333" stroke-width="0.06">N.S.</text>
<polyline points="444.60,164.70 444.60,163.10 459.40,163.10 459.40,164.70" fill="none" stroke="#8a8a8a" stroke-width="0.6"/>
<text x="452.00" y="162.30" font-size="3.784" fill="#333" text-anchor="middle" font-weight="normal" stroke="#333" stroke-width="0.06">N.S.</text>
<line x1="445.80" y1="168.10" x2="445.80" y2="192.20" stroke="#8299CF" stroke-width="0.8"/>
<line x1="445.80" y1="209.00" x2="445.80" y2="211.70" stroke="#8299CF" stroke-width="0.8"/>
<rect x="440.75" y="192.20" width="10.10" height="16.80" fill="none" stroke="#8299CF" stroke-width="0.85"/>
<line x1="440.75" y1="203.20" x2="450.85" y2="203.20" stroke="#2E4D9B" stroke-width="0.9"/>
<rect x="441.18" y="167.48" width="1.24" height="1.24" fill="#2E4D9B"/>
<rect x="442.98" y="177.68" width="1.24" height="1.24" fill="#2E4D9B"/>
<rect x="449.68" y="196.98" width="1.24" height="1.24" fill="#2E4D9B"/>
<rect x="444.88" y="198.78" width="1.24" height="1.24" fill="#2E4D9B"/>
<rect x="439.78" y="205.68" width="1.24" height="1.24" fill="#2E4D9B"/>
<rect x="442.48" y="207.78" width="1.24" height="1.24" fill="#2E4D9B"/>
<rect x="445.18" y="208.38" width="1.24" height="1.24" fill="#2E4D9B"/>
<rect x="439.78" y="210.68" width="1.24" height="1.24" fill="#2E4D9B"/>
<line x1="445.80" y1="214.70" x2="445.80" y2="216.10" stroke="#333" stroke-width="0.6"/>
<line x1="459.00" y1="163.90" x2="459.00" y2="182.50" stroke="#F2948E" stroke-width="0.8"/>
<line x1="459.00" y1="206.30" x2="459.00" y2="209.50" stroke="#F2948E" stroke-width="0.8"/>
<rect x="453.85" y="182.50" width="10.30" height="23.80" fill="none" stroke="#F2948E" stroke-width="0.85"/>
<line x1="453.85" y1="194.20" x2="464.15" y2="194.20" stroke="#E8352E" stroke-width="0.9"/>
<rect x="456.88" y="163.88" width="1.24" height="1.24" fill="#E8352E"/>
<rect x="462.88" y="174.68" width="1.24" height="1.24" fill="#E8352E"/>
<rect x="457.78" y="185.48" width="1.24" height="1.24" fill="#E8352E"/>
<rect x="457.48" y="187.98" width="1.24" height="1.24" fill="#E8352E"/>
<rect x="461.38" y="199.88" width="1.24" height="1.24" fill="#E8352E"/>
<rect x="454.18" y="205.28" width="1.24" height="1.24" fill="#E8352E"/>
<rect x="455.98" y="205.28" width="1.24" height="1.24" fill="#E8352E"/>
<rect x="457.78" y="208.88" width="1.24" height="1.24" fill="#E8352E"/>
<line x1="459.00" y1="214.70" x2="459.00" y2="216.10" stroke="#333" stroke-width="0.6"/>
<line x1="473.00" y1="174.20" x2="473.00" y2="179.60" stroke="#98DC8C" stroke-width="0.8"/>
<line x1="473.00" y1="193.30" x2="473.00" y2="207.20" stroke="#98DC8C" stroke-width="0.8"/>
<rect x="467.15" y="179.60" width="11.70" height="13.70" fill="none" stroke="#98DC8C" stroke-width="0.85"/>
<line x1="467.15" y1="185.00" x2="478.85" y2="185.00" stroke="#58C24A" stroke-width="0.9"/>
<rect x="468.58" y="172.88" width="1.24" height="1.24" fill="#58C24A"/>
<rect x="473.08" y="181.28" width="1.24" height="1.24" fill="#58C24A"/>
<rect x="469.48" y="187.28" width="1.24" height="1.24" fill="#58C24A"/>
<rect x="476.18" y="206.58" width="1.24" height="1.24" fill="#58C24A"/>
<line x1="473.00" y1="214.70" x2="473.00" y2="216.10" stroke="#333" stroke-width="0.6"/>
<line x1="486.90" y1="201.80" x2="486.90" y2="201.80" stroke="#7CCBD5" stroke-width="0.8"/>
<line x1="486.90" y1="206.30" x2="486.90" y2="206.30" stroke="#7CCBD5" stroke-width="0.8"/>
<rect x="481.50" y="201.80" width="10.80" height="4.50" fill="none" stroke="#7CCBD5" stroke-width="0.85"/>
<line x1="481.50" y1="204.10" x2="492.30" y2="204.10" stroke="#27A9B9" stroke-width="0.9"/>
<rect x="480.88" y="198.78" width="1.24" height="1.24" fill="#27A9B9"/>
<rect x="482.98" y="207.48" width="1.24" height="1.24" fill="#27A9B9"/>
<rect x="486.98" y="206.58" width="1.24" height="1.24" fill="#27A9B9"/>
<line x1="486.90" y1="214.70" x2="486.90" y2="216.10" stroke="#333" stroke-width="0.6"/>
<text x="0.00" y="0.00" font-size="4.170999999999999" fill="#555" text-anchor="end" font-weight="normal" stroke="#555" stroke-width="0.08" transform="translate(448.70 218.60) rotate(-60)">Control</text>
<text x="0.00" y="0.00" font-size="4.170999999999999" fill="#555" text-anchor="end" font-weight="normal" stroke="#555" stroke-width="0.08" transform="translate(461.90 218.60) rotate(-60)">Low Drinker</text>
<text x="0.00" y="0.00" font-size="4.170999999999999" fill="#555" text-anchor="end" font-weight="normal" stroke="#555" stroke-width="0.08" transform="translate(475.90 218.60) rotate(-60)">Heavy Drinker</text>
<text x="0.00" y="0.00" font-size="4.170999999999999" fill="#555" text-anchor="end" font-weight="normal" stroke="#555" stroke-width="0.08" transform="translate(489.80 218.60) rotate(-60)">Very Heavy Drinker</text>
<line x1="539.10" y1="151.70" x2="539.10" y2="215.50" stroke="#333" stroke-width="0.8"/>
<line x1="538.70" y1="215.10" x2="593.80" y2="215.10" stroke="#333" stroke-width="0.8"/>
<line x1="537.70" y1="157.80" x2="539.10" y2="157.80" stroke="#333" stroke-width="0.6"/>
<text x="536.50" y="159.31" font-size="4.3" fill="#484848" text-anchor="end" font-weight="normal" stroke="#484848" stroke-width="0.1">6%</text>
<line x1="537.70" y1="175.80" x2="539.10" y2="175.80" stroke="#333" stroke-width="0.6"/>
<text x="536.50" y="177.31" font-size="4.3" fill="#484848" text-anchor="end" font-weight="normal" stroke="#484848" stroke-width="0.1">4%</text>
<line x1="537.70" y1="193.50" x2="539.10" y2="193.50" stroke="#333" stroke-width="0.6"/>
<text x="536.50" y="195.00" font-size="4.3" fill="#484848" text-anchor="end" font-weight="normal" stroke="#484848" stroke-width="0.1">2%</text>
<line x1="537.70" y1="211.80" x2="539.10" y2="211.80" stroke="#333" stroke-width="0.6"/>
<text x="536.50" y="213.31" font-size="4.3" fill="#484848" text-anchor="end" font-weight="normal" stroke="#484848" stroke-width="0.1">0%</text>
<text x="0.00" y="0.00" font-size="4.9" fill="#1e1e1e" text-anchor="middle" font-weight="normal" stroke="#1e1e1e" stroke-width="0.12" transform="translate(528.10 184.00) scale(1.12 1) rotate(-90)">Relative Percent</text>
<text x="568.00" y="146.20" font-size="5.159999999999999" fill="#2a2a2a" text-anchor="middle" font-weight="normal" stroke="#2a2a2a" stroke-width="0.03">MSN_D2 (3)</text>
<polyline points="555.80,153.90 555.80,152.30 580.90,152.30 580.90,153.90" fill="none" stroke="#8a8a8a" stroke-width="0.6"/>
<text x="568.35" y="151.50" font-size="4.3" fill="#333" text-anchor="middle" font-weight="normal" stroke="#333" stroke-width="0.06">****</text>
<line x1="555.10" y1="175.90" x2="555.10" y2="186.70" stroke="#8299CF" stroke-width="0.8"/>
<line x1="555.10" y1="202.40" x2="555.10" y2="211.40" stroke="#8299CF" stroke-width="0.8"/>
<rect x="545.35" y="186.70" width="19.50" height="15.70" fill="none" stroke="#8299CF" stroke-width="0.85"/>
<line x1="545.35" y1="192.10" x2="564.85" y2="192.10" stroke="#2E4D9B" stroke-width="0.9"/>
<rect x="554.18" y="154.18" width="1.24" height="1.24" fill="#2E4D9B"/>
<rect x="562.48" y="154.18" width="1.24" height="1.24" fill="#2E4D9B"/>
<rect x="553.78" y="164.48" width="1.24" height="1.24" fill="#2E4D9B"/>
<rect x="557.08" y="164.48" width="1.24" height="1.24" fill="#2E4D9B"/>
<rect x="552.88" y="175.28" width="1.24" height="1.24" fill="#2E4D9B"/>
<rect x="560.98" y="175.28" width="1.24" height="1.24" fill="#2E4D9B"/>
<rect x="550.18" y="183.08" width="1.24" height="1.24" fill="#2E4D9B"/>
<rect x="563.68" y="182.48" width="1.24" height="1.24" fill="#2E4D9B"/>
<rect x="547.48" y="186.08" width="1.24" height="1.24" fill="#2E4D9B"/>
<rect x="551.98" y="186.68" width="1.24" height="1.24" fill="#2E4D9B"/>
<rect x="556.48" y="188.48" width="1.24" height="1.24" fill="#2E4D9B"/>
<rect x="558.28" y="189.18" width="1.24" height="1.24" fill="#2E4D9B"/>
<rect x="561.88" y="188.78" width="1.24" height="1.24" fill="#2E4D9B"/>
<rect x="548.78" y="191.48" width="1.24" height="1.24" fill="#2E4D9B"/>
<rect x="551.98" y="192.38" width="1.24" height="1.24" fill="#2E4D9B"/>
<rect x="557.38" y="191.48" width="1.24" height="1.24" fill="#2E4D9B"/>
<rect x="560.98" y="191.48" width="1.24" height="1.24" fill="#2E4D9B"/>
<rect x="556.48" y="195.68" width="1.24" height="1.24" fill="#2E4D9B"/>
<rect x="560.98" y="194.58" width="1.24" height="1.24" fill="#2E4D9B"/>
<rect x="551.98" y="196.38" width="1.24" height="1.24" fill="#2E4D9B"/>
<rect x="553.78" y="199.98" width="1.24" height="1.24" fill="#2E4D9B"/>
<rect x="552.88" y="201.48" width="1.24" height="1.24" fill="#2E4D9B"/>
<rect x="558.28" y="201.08" width="1.24" height="1.24" fill="#2E4D9B"/>
<rect x="549.88" y="205.08" width="1.24" height="1.24" fill="#2E4D9B"/>
<rect x="561.88" y="205.38" width="1.24" height="1.24" fill="#2E4D9B"/>
<rect x="563.18" y="205.38" width="1.24" height="1.24" fill="#2E4D9B"/>
<rect x="545.68" y="208.68" width="1.24" height="1.24" fill="#2E4D9B"/>
<rect x="546.58" y="210.78" width="1.24" height="1.24" fill="#2E4D9B"/>
<rect x="547.48" y="209.58" width="1.24" height="1.24" fill="#2E4D9B"/>
<line x1="555.10" y1="215.10" x2="555.10" y2="216.50" stroke="#333" stroke-width="0.6"/>
<line x1="579.90" y1="190.30" x2="579.90" y2="205.70" stroke="#F2948E" stroke-width="0.8"/>
<line x1="579.90" y1="212.00" x2="579.90" y2="212.00" stroke="#F2948E" stroke-width="0.8"/>
<rect x="570.30" y="205.70" width="19.20" height="6.30" fill="none" stroke="#F2948E" stroke-width="0.85"/>
<line x1="570.30" y1="211.40" x2="589.50" y2="211.40" stroke="#E8352E" stroke-width="0.9"/>
<rect x="579.38" y="189.18" width="1.24" height="1.24" fill="#E8352E"/>
<rect x="581.18" y="189.68" width="1.24" height="1.24" fill="#E8352E"/>
<rect x="572.18" y="193.88" width="1.24" height="1.24" fill="#E8352E"/>
<rect x="580.48" y="193.88" width="1.24" height="1.24" fill="#E8352E"/>
<rect x="579.38" y="198.18" width="1.24" height="1.24" fill="#E8352E"/>
<rect x="581.18" y="197.88" width="1.24" height="1.24" fill="#E8352E"/>
<rect x="577.58" y="199.98" width="1.24" height="1.24" fill="#E8352E"/>
<rect x="580.78" y="201.08" width="1.24" height="1.24" fill="#E8352E"/>
<rect x="578.98" y="202.88" width="1.24" height="1.24" fill="#E8352E"/>
<rect x="570.88" y="205.38" width="1.24" height="1.24" fill="#E8352E"/>
<rect x="572.68" y="205.38" width="1.24" height="1.24" fill="#E8352E"/>
<rect x="586.58" y="207.78" width="1.24" height="1.24" fill="#E8352E"/>
<rect x="570.88" y="210.78" width="1.24" height="1.24" fill="#E8352E"/>
<rect x="572.68" y="210.78" width="1.24" height="1.24" fill="#E8352E"/>
<rect x="574.48" y="210.78" width="1.24" height="1.24" fill="#E8352E"/>
<rect x="576.28" y="210.78" width="1.24" height="1.24" fill="#E8352E"/>
<rect x="578.08" y="210.78" width="1.24" height="1.24" fill="#E8352E"/>
<rect x="579.88" y="210.78" width="1.24" height="1.24" fill="#E8352E"/>
<rect x="581.68" y="210.78" width="1.24" height="1.24" fill="#E8352E"/>
<rect x="583.48" y="210.78" width="1.24" height="1.24" fill="#E8352E"/>
<rect x="585.28" y="210.78" width="1.24" height="1.24" fill="#E8352E"/>
<rect x="587.08" y="210.78" width="1.24" height="1.24" fill="#E8352E"/>
<rect x="588.88" y="210.78" width="1.24" height="1.24" fill="#E8352E"/>
<line x1="579.90" y1="215.10" x2="579.90" y2="216.50" stroke="#333" stroke-width="0.6"/>
<text x="0.00" y="0.00" font-size="4.170999999999999" fill="#555" text-anchor="end" font-weight="normal" stroke="#555" stroke-width="0.08" transform="translate(558.00 219.00) rotate(-60)">Control</text>
<text x="0.00" y="0.00" font-size="4.170999999999999" fill="#555" text-anchor="end" font-weight="normal" stroke="#555" stroke-width="0.08" transform="translate(582.80 219.00) rotate(-60)">DID Binge Drinker</text>
<line x1="611.30" y1="148.30" x2="611.30" y2="214.70" stroke="#333" stroke-width="0.8"/>
<line x1="610.90" y1="214.30" x2="666.00" y2="214.30" stroke="#333" stroke-width="0.8"/>
<line x1="609.90" y1="150.40" x2="611.30" y2="150.40" stroke="#333" stroke-width="0.6"/>
<text x="608.70" y="151.91" font-size="4.3" fill="#484848" text-anchor="end" font-weight="normal" stroke="#484848" stroke-width="0.1">2.0%</text>
<line x1="609.90" y1="165.50" x2="611.30" y2="165.50" stroke="#333" stroke-width="0.6"/>
<text x="608.70" y="167.00" font-size="4.3" fill="#484848" text-anchor="end" font-weight="normal" stroke="#484848" stroke-width="0.1">1.5%</text>
<line x1="609.90" y1="181.50" x2="611.30" y2="181.50" stroke="#333" stroke-width="0.6"/>
<text x="608.70" y="183.00" font-size="4.3" fill="#484848" text-anchor="end" font-weight="normal" stroke="#484848" stroke-width="0.1">1.0%</text>
<line x1="609.90" y1="196.60" x2="611.30" y2="196.60" stroke="#333" stroke-width="0.6"/>
<text x="608.70" y="198.10" font-size="4.3" fill="#484848" text-anchor="end" font-weight="normal" stroke="#484848" stroke-width="0.1">0.5%</text>
<line x1="609.90" y1="212.00" x2="611.30" y2="212.00" stroke="#333" stroke-width="0.6"/>
<text x="608.70" y="213.50" font-size="4.3" fill="#484848" text-anchor="end" font-weight="normal" stroke="#484848" stroke-width="0.1">0.0%</text>
<text x="639.40" y="145.70" font-size="5.159999999999999" fill="#2a2a2a" text-anchor="middle" font-weight="normal" stroke="#2a2a2a" stroke-width="0.03">Oligo (E)</text>
<polyline points="626.70,153.50 626.70,151.90 652.70,151.90 652.70,153.50" fill="none" stroke="#8a8a8a" stroke-width="0.6"/>
<text x="639.70" y="151.10" font-size="4.3" fill="#333" text-anchor="middle" font-weight="normal" stroke="#333" stroke-width="0.06">*</text>
<line x1="626.40" y1="176.50" x2="626.40" y2="187.30" stroke="#8299CF" stroke-width="0.8"/>
<line x1="626.40" y1="212.00" x2="626.40" y2="212.00" stroke="#8299CF" stroke-width="0.8"/>
<rect x="616.50" y="187.30" width="19.80" height="24.70" fill="none" stroke="#8299CF" stroke-width="0.85"/>
<line x1="616.50" y1="202.10" x2="636.30" y2="202.10" stroke="#2E4D9B" stroke-width="0.9"/>
<rect x="616.78" y="175.88" width="1.24" height="1.24" fill="#2E4D9B"/>
<rect x="618.98" y="175.28" width="1.24" height="1.24" fill="#2E4D9B"/>
<rect x="624.38" y="176.18" width="1.24" height="1.24" fill="#2E4D9B"/>
<rect x="618.58" y="180.18" width="1.24" height="1.24" fill="#2E4D9B"/>
<rect x="624.38" y="180.68" width="1.24" height="1.24" fill="#2E4D9B"/>
<rect x="629.38" y="181.28" width="1.24" height="1.24" fill="#2E4D9B"/>
<rect x="627.58" y="184.28" width="1.24" height="1.24" fill="#2E4D9B"/>
<rect x="630.28" y="183.78" width="1.24" height="1.24" fill="#2E4D9B"/>
<rect x="623.08" y="192.38" width="1.24" height="1.24" fill="#2E4D9B"/>
<rect x="620.78" y="194.58" width="1.24" height="1.24" fill="#2E4D9B"/>
<rect x="630.28" y="195.68" width="1.24" height="1.24" fill="#2E4D9B"/>
<rect x="627.98" y="197.48" width="1.24" height="1.24" fill="#2E4D9B"/>
<rect x="635.18" y="199.68" width="1.24" height="1.24" fill="#2E4D9B"/>
<rect x="621.28" y="201.08" width="1.24" height="1.24" fill="#2E4D9B"/>
<rect x="628.48" y="203.28" width="1.24" height="1.24" fill="#2E4D9B"/>
<rect x="620.38" y="205.38" width="1.24" height="1.24" fill="#2E4D9B"/>
<rect x="630.88" y="206.48" width="1.24" height="1.24" fill="#2E4D9B"/>
<rect x="633.38" y="206.88" width="1.24" height="1.24" fill="#2E4D9B"/>
<rect x="617.38" y="210.78" width="1.24" height="1.24" fill="#2E4D9B"/>
<rect x="619.28" y="210.78" width="1.24" height="1.24" fill="#2E4D9B"/>
<rect x="621.18" y="210.78" width="1.24" height="1.24" fill="#2E4D9B"/>
<rect x="623.08" y="210.78" width="1.24" height="1.24" fill="#2E4D9B"/>
<rect x="624.98" y="210.78" width="1.24" height="1.24" fill="#2E4D9B"/>
<rect x="626.88" y="210.78" width="1.24" height="1.24" fill="#2E4D9B"/>
<rect x="628.78" y="210.78" width="1.24" height="1.24" fill="#2E4D9B"/>
<rect x="630.68" y="210.78" width="1.24" height="1.24" fill="#2E4D9B"/>
<rect x="632.58" y="210.78" width="1.24" height="1.24" fill="#2E4D9B"/>
<rect x="634.48" y="210.78" width="1.24" height="1.24" fill="#2E4D9B"/>
<line x1="626.40" y1="214.30" x2="626.40" y2="215.70" stroke="#333" stroke-width="0.6"/>
<line x1="651.90" y1="201.20" x2="651.90" y2="203.90" stroke="#F2948E" stroke-width="0.8"/>
<line x1="651.90" y1="212.00" x2="651.90" y2="212.00" stroke="#F2948E" stroke-width="0.8"/>
<rect x="642.30" y="203.90" width="19.20" height="8.10" fill="none" stroke="#F2948E" stroke-width="0.85"/>
<line x1="642.30" y1="211.40" x2="661.50" y2="211.40" stroke="#E8352E" stroke-width="0.9"/>
<rect x="651.88" y="154.18" width="1.24" height="1.24" fill="#E8352E"/>
<rect x="646.48" y="178.38" width="1.24" height="1.24" fill="#E8352E"/>
<rect x="649.18" y="177.08" width="1.24" height="1.24" fill="#E8352E"/>
<rect x="651.38" y="178.38" width="1.24" height="1.24" fill="#E8352E"/>
<rect x="651.38" y="181.28" width="1.24" height="1.24" fill="#E8352E"/>
<rect x="648.28" y="181.58" width="1.24" height="1.24" fill="#E8352E"/>
<rect x="651.38" y="187.88" width="1.24" height="1.24" fill="#E8352E"/>
<rect x="655.48" y="187.88" width="1.24" height="1.24" fill="#E8352E"/>
<rect x="647.38" y="201.08" width="1.24" height="1.24" fill="#E8352E"/>
<rect x="651.88" y="200.58" width="1.24" height="1.24" fill="#E8352E"/>
<rect x="650.08" y="204.68" width="1.24" height="1.24" fill="#E8352E"/>
<rect x="649.58" y="206.48" width="1.24" height="1.24" fill="#E8352E"/>
<rect x="657.88" y="207.78" width="1.24" height="1.24" fill="#E8352E"/>
<rect x="642.38" y="210.78" width="1.24" height="1.24" fill="#E8352E"/>
<rect x="644.28" y="210.78" width="1.24" height="1.24" fill="#E8352E"/>
<rect x="646.18" y="210.78" width="1.24" height="1.24" fill="#E8352E"/>
<rect x="648.08" y="210.78" width="1.24" height="1.24" fill="#E8352E"/>
<rect x="649.98" y="210.78" width="1.24" height="1.24" fill="#E8352E"/>
<rect x="651.88" y="210.78" width="1.24" height="1.24" fill="#E8352E"/>
<rect x="653.78" y="210.78" width="1.24" height="1.24" fill="#E8352E"/>
<rect x="655.68" y="210.78" width="1.24" height="1.24" fill="#E8352E"/>
<rect x="657.58" y="210.78" width="1.24" height="1.24" fill="#E8352E"/>
<rect x="659.48" y="210.78" width="1.24" height="1.24" fill="#E8352E"/>
<line x1="651.90" y1="214.30" x2="651.90" y2="215.70" stroke="#333" stroke-width="0.6"/>
<text x="0.00" y="0.00" font-size="4.170999999999999" fill="#555" text-anchor="end" font-weight="normal" stroke="#555" stroke-width="0.08" transform="translate(629.30 218.20) rotate(-60)">Control</text>
<text x="0.00" y="0.00" font-size="4.170999999999999" fill="#555" text-anchor="end" font-weight="normal" stroke="#555" stroke-width="0.08" transform="translate(654.80 218.20) rotate(-60)">DID Binge Drinker</text>
<line x1="216.10" y1="284.30" x2="216.10" y2="347.90" stroke="#333" stroke-width="0.8"/>
<line x1="215.70" y1="347.50" x2="281.40" y2="347.50" stroke="#333" stroke-width="0.8"/>
<line x1="214.70" y1="289.60" x2="216.10" y2="289.60" stroke="#333" stroke-width="0.6"/>
<text x="0.00" y="0.00" font-size="3.9" fill="#484848" text-anchor="end" font-weight="normal" stroke="#484848" stroke-width="0.1" transform="translate(213.50 290.97) scale(1.2 1)">30%</text>
<line x1="214.70" y1="308.10" x2="216.10" y2="308.10" stroke="#333" stroke-width="0.6"/>
<text x="0.00" y="0.00" font-size="3.9" fill="#484848" text-anchor="end" font-weight="normal" stroke="#484848" stroke-width="0.1" transform="translate(213.50 309.47) scale(1.2 1)">20%</text>
<line x1="214.70" y1="326.60" x2="216.10" y2="326.60" stroke="#333" stroke-width="0.6"/>
<text x="0.00" y="0.00" font-size="3.9" fill="#484848" text-anchor="end" font-weight="normal" stroke="#484848" stroke-width="0.1" transform="translate(213.50 327.97) scale(1.2 1)">10%</text>
<line x1="214.70" y1="345.10" x2="216.10" y2="345.10" stroke="#333" stroke-width="0.6"/>
<text x="0.00" y="0.00" font-size="3.9" fill="#484848" text-anchor="end" font-weight="normal" stroke="#484848" stroke-width="0.1" transform="translate(213.50 346.47) scale(1.2 1)">0%</text>
<text x="0.00" y="0.00" font-size="4.95" fill="#1e1e1e" text-anchor="middle" font-weight="normal" stroke="#1e1e1e" stroke-width="0.12" transform="translate(200.50 315.00) scale(1.344 1) rotate(-90)">Relative Percent</text>
<text x="0.00" y="0.00" font-size="4.68" fill="#2a2a2a" text-anchor="middle" font-weight="normal" stroke="#2a2a2a" stroke-width="0.03" transform="translate(248.60 280.30) scale(1.08 1)">Excit (C)</text>
<polyline points="234.00,287.10 234.00,285.50 264.00,285.50 264.00,287.10" fill="none" stroke="#8a8a8a" stroke-width="0.6"/>
<text x="0.00" y="0.00" font-size="3.9" fill="#333" text-anchor="middle" font-weight="normal" stroke="#333" stroke-width="0.06" transform="translate(249.00 284.70) scale(1.2 1)">#</text>
<line x1="233.70" y1="287.20" x2="233.70" y2="305.20" stroke="#8299CF" stroke-width="0.8"/>
<line x1="233.70" y1="331.60" x2="233.70" y2="344.40" stroke="#8299CF" stroke-width="0.8"/>
<rect x="222.60" y="305.20" width="22.20" height="26.40" fill="none" stroke="#8299CF" stroke-width="0.85"/>
<line x1="222.60" y1="316.50" x2="244.80" y2="316.50" stroke="#2E4D9B" stroke-width="0.9"/>
<rect x="223.78" y="298.28" width="1.24" height="1.24" fill="#2E4D9B"/>
<rect x="230.58" y="295.98" width="1.24" height="1.24" fill="#2E4D9B"/>
<rect x="235.58" y="299.18" width="1.24" height="1.24" fill="#2E4D9B"/>
<rect x="241.38" y="301.88" width="1.24" height="1.24" fill="#2E4D9B"/>
<rect x="243.18" y="300.58" width="1.24" height="1.24" fill="#2E4D9B"/>
<rect x="230.18" y="303.18" width="1.24" height="1.24" fill="#2E4D9B"/>
<rect x="238.68" y="304.58" width="1.24" height="1.24" fill="#2E4D9B"/>
<rect x="224.78" y="307.28" width="1.24" height="1.24" fill="#2E4D9B"/>
<rect x="238.28" y="309.58" width="1.24" height="1.24" fill="#2E4D9B"/>
<rect x="239.08" y="311.38" width="1.24" height="1.24" fill="#2E4D9B"/>
<rect x="236.38" y="314.48" width="1.24" height="1.24" fill="#2E4D9B"/>
<rect x="242.78" y="313.58" width="1.24" height="1.24" fill="#2E4D9B"/>
<rect x="229.68" y="322.58" width="1.24" height="1.24" fill="#2E4D9B"/>
<rect x="228.78" y="323.98" width="1.24" height="1.24" fill="#2E4D9B"/>
<rect x="236.88" y="324.38" width="1.24" height="1.24" fill="#2E4D9B"/>
<rect x="239.98" y="323.48" width="1.24" height="1.24" fill="#2E4D9B"/>
<rect x="227.88" y="327.58" width="1.24" height="1.24" fill="#2E4D9B"/>
<rect x="223.78" y="328.88" width="1.24" height="1.24" fill="#2E4D9B"/>
<rect x="225.58" y="331.58" width="1.24" height="1.24" fill="#2E4D9B"/>
<rect x="229.68" y="335.18" width="1.24" height="1.24" fill="#2E4D9B"/>
<rect x="234.18" y="334.78" width="1.24" height="1.24" fill="#2E4D9B"/>
<rect x="238.68" y="335.48" width="1.24" height="1.24" fill="#2E4D9B"/>
<rect x="238.28" y="337.88" width="1.24" height="1.24" fill="#2E4D9B"/>
<rect x="225.18" y="343.28" width="1.24" height="1.24" fill="#2E4D9B"/>
<rect x="234.58" y="343.78" width="1.24" height="1.24" fill="#2E4D9B"/>
<rect x="231.38" y="315.88" width="1.24" height="1.24" fill="#2E4D9B"/>
<rect x="226.38" y="317.38" width="1.24" height="1.24" fill="#2E4D9B"/>
<line x1="233.70" y1="347.50" x2="233.70" y2="348.90" stroke="#333" stroke-width="0.6"/>
<line x1="263.20" y1="293.00" x2="263.20" y2="317.40" stroke="#F2948E" stroke-width="0.8"/>
<line x1="263.20" y1="341.50" x2="263.20" y2="344.00" stroke="#F2948E" stroke-width="0.8"/>
<rect x="252.00" y="317.40" width="22.40" height="24.10" fill="none" stroke="#F2948E" stroke-width="0.85"/>
<line x1="252.00" y1="328.20" x2="274.40" y2="328.20" stroke="#E8352E" stroke-width="0.9"/>
<rect x="263.88" y="292.88" width="1.24" height="1.24" fill="#E8352E"/>
<rect x="268.38" y="294.68" width="1.24" height="1.24" fill="#E8352E"/>
<rect x="266.58" y="298.78" width="1.24" height="1.24" fill="#E8352E"/>
<rect x="273.38" y="301.88" width="1.24" height="1.24" fill="#E8352E"/>
<rect x="254.38" y="306.78" width="1.24" height="1.24" fill="#E8352E"/>
<rect x="265.68" y="305.98" width="1.24" height="1.24" fill="#E8352E"/>
<rect x="266.58" y="313.18" width="1.24" height="1.24" fill="#E8352E"/>
<rect x="265.68" y="315.38" width="1.24" height="1.24" fill="#E8352E"/>
<rect x="253.08" y="323.98" width="1.24" height="1.24" fill="#E8352E"/>
<rect x="261.18" y="322.58" width="1.24" height="1.24" fill="#E8352E"/>
<rect x="265.68" y="322.58" width="1.24" height="1.24" fill="#E8352E"/>
<rect x="257.58" y="327.58" width="1.24" height="1.24" fill="#E8352E"/>
<rect x="261.18" y="328.28" width="1.24" height="1.24" fill="#E8352E"/>
<rect x="263.88" y="326.48" width="1.24" height="1.24" fill="#E8352E"/>
<rect x="274.28" y="332.78" width="1.24" height="1.24" fill="#E8352E"/>
<rect x="265.28" y="331.18" width="1.24" height="1.24" fill="#E8352E"/>
<rect x="266.58" y="333.38" width="1.24" height="1.24" fill="#E8352E"/>
<rect x="260.78" y="335.48" width="1.24" height="1.24" fill="#E8352E"/>
<rect x="262.08" y="337.88" width="1.24" height="1.24" fill="#E8352E"/>
<rect x="252.18" y="341.08" width="1.24" height="1.24" fill="#E8352E"/>
<rect x="254.88" y="343.28" width="1.24" height="1.24" fill="#E8352E"/>
<rect x="257.58" y="343.28" width="1.24" height="1.24" fill="#E8352E"/>
<rect x="260.28" y="343.28" width="1.24" height="1.24" fill="#E8352E"/>
<rect x="262.08" y="343.28" width="1.24" height="1.24" fill="#E8352E"/>
<rect x="263.88" y="343.28" width="1.24" height="1.24" fill="#E8352E"/>
<rect x="266.58" y="343.28" width="1.24" height="1.24" fill="#E8352E"/>
<rect x="268.38" y="343.28" width="1.24" height="1.24" fill="#E8352E"/>
<rect x="271.08" y="343.28" width="1.24" height="1.24" fill="#E8352E"/>
<line x1="263.20" y1="347.50" x2="263.20" y2="348.90" stroke="#333" stroke-width="0.6"/>
<text x="0.00" y="0.00" font-size="3.783" fill="#555" text-anchor="end" font-weight="normal" stroke="#555" stroke-width="0.08" transform="translate(236.60 351.40) scale(1.2 1) rotate(-60)">Control</text>
<text x="0.00" y="0.00" font-size="3.783" fill="#555" text-anchor="end" font-weight="normal" stroke="#555" stroke-width="0.08" transform="translate(266.50 351.40) scale(1.2 1) rotate(-60)">AUD</text>
<line x1="294.50" y1="283.00" x2="294.50" y2="347.90" stroke="#333" stroke-width="0.8"/>
<line x1="294.10" y1="347.50" x2="359.50" y2="347.50" stroke="#333" stroke-width="0.8"/>
<line x1="293.10" y1="284.30" x2="294.50" y2="284.30" stroke="#333" stroke-width="0.6"/>
<text x="0.00" y="0.00" font-size="3.9" fill="#484848" text-anchor="end" font-weight="normal" stroke="#484848" stroke-width="0.1" transform="translate(291.90 285.67) scale(1.2 1)">6%</text>
<line x1="293.10" y1="304.30" x2="294.50" y2="304.30" stroke="#333" stroke-width="0.6"/>
<text x="0.00" y="0.00" font-size="3.9" fill="#484848" text-anchor="end" font-weight="normal" stroke="#484848" stroke-width="0.1" transform="translate(291.90 305.67) scale(1.2 1)">4%</text>
<line x1="293.10" y1="324.10" x2="294.50" y2="324.10" stroke="#333" stroke-width="0.6"/>
<text x="0.00" y="0.00" font-size="3.9" fill="#484848" text-anchor="end" font-weight="normal" stroke="#484848" stroke-width="0.1" transform="translate(291.90 325.47) scale(1.2 1)">2%</text>
<line x1="293.10" y1="344.60" x2="294.50" y2="344.60" stroke="#333" stroke-width="0.6"/>
<text x="0.00" y="0.00" font-size="3.9" fill="#484848" text-anchor="end" font-weight="normal" stroke="#484848" stroke-width="0.1" transform="translate(291.90 345.97) scale(1.2 1)">0%</text>
<text x="0.00" y="0.00" font-size="4.68" fill="#2a2a2a" text-anchor="middle" font-weight="normal" stroke="#2a2a2a" stroke-width="0.03" transform="translate(327.20 280.30) scale(1.08 1)">Inhib (H)</text>
<polyline points="312.30,287.10 312.30,285.50 341.90,285.50 341.90,287.10" fill="none" stroke="#8a8a8a" stroke-width="0.6"/>
<text x="0.00" y="0.00" font-size="3.9" fill="#333" text-anchor="middle" font-weight="normal" stroke="#333" stroke-width="0.06" transform="translate(327.10 284.70) scale(1.2 1)">#</text>
<line x1="312.00" y1="344.60" x2="312.00" y2="344.60" stroke="#8299CF" stroke-width="0.8"/>
<line x1="312.00" y1="344.60" x2="312.00" y2="344.60" stroke="#8299CF" stroke-width="0.8"/>
<rect x="301.10" y="344.60" width="21.80" height="0.50" fill="none" stroke="#8299CF" stroke-width="0.85"/>
<line x1="301.10" y1="344.60" x2="322.90" y2="344.60" stroke="#2E4D9B" stroke-width="0.9"/>
<rect x="301.18" y="343.98" width="1.24" height="1.24" fill="#2E4D9B"/>
<rect x="303.28" y="343.98" width="1.24" height="1.24" fill="#2E4D9B"/>
<rect x="305.38" y="343.98" width="1.24" height="1.24" fill="#2E4D9B"/>
<rect x="307.48" y="343.98" width="1.24" height="1.24" fill="#2E4D9B"/>
<rect x="309.58" y="343.98" width="1.24" height="1.24" fill="#2E4D9B"/>
<rect x="311.68" y="343.98" width="1.24" height="1.24" fill="#2E4D9B"/>
<rect x="313.78" y="343.98" width="1.24" height="1.24" fill="#2E4D9B"/>
<rect x="315.88" y="343.98" width="1.24" height="1.24" fill="#2E4D9B"/>
<rect x="317.98" y="343.98" width="1.24" height="1.24" fill="#2E4D9B"/>
<rect x="320.08" y="343.98" width="1.24" height="1.24" fill="#2E4D9B"/>
<rect x="322.18" y="343.98" width="1.24" height="1.24" fill="#2E4D9B"/>
<rect x="311.88" y="331.98" width="1.24" height="1.24" fill="#2E4D9B"/>
<rect x="311.88" y="333.18" width="1.24" height="1.24" fill="#2E4D9B"/>
<rect x="316.88" y="333.58" width="1.24" height="1.24" fill="#2E4D9B"/>
<rect x="321.38" y="331.98" width="1.24" height="1.24" fill="#2E4D9B"/>
<rect x="309.68" y="336.08" width="1.24" height="1.24" fill="#2E4D9B"/>
<rect x="311.88" y="336.68" width="1.24" height="1.24" fill="#2E4D9B"/>
<rect x="311.48" y="338.78" width="1.24" height="1.24" fill="#2E4D9B"/>
<line x1="312.00" y1="347.50" x2="312.00" y2="348.90" stroke="#333" stroke-width="0.6"/>
<line x1="342.00" y1="332.30" x2="342.00" y2="336.40" stroke="#F2948E" stroke-width="0.8"/>
<line x1="342.00" y1="344.60" x2="342.00" y2="344.60" stroke="#F2948E" stroke-width="0.8"/>
<rect x="330.70" y="336.40" width="22.60" height="8.20" fill="none" stroke="#F2948E" stroke-width="0.85"/>
<line x1="330.70" y1="344.60" x2="353.30" y2="344.60" stroke="#E8352E" stroke-width="0.9"/>
<rect x="330.88" y="343.98" width="1.24" height="1.24" fill="#E8352E"/>
<rect x="332.98" y="343.98" width="1.24" height="1.24" fill="#E8352E"/>
<rect x="335.08" y="343.98" width="1.24" height="1.24" fill="#E8352E"/>
<rect x="337.18" y="343.98" width="1.24" height="1.24" fill="#E8352E"/>
<rect x="339.28" y="343.98" width="1.24" height="1.24" fill="#E8352E"/>
<rect x="341.38" y="343.98" width="1.24" height="1.24" fill="#E8352E"/>
<rect x="343.48" y="343.98" width="1.24" height="1.24" fill="#E8352E"/>
<rect x="345.58" y="343.98" width="1.24" height="1.24" fill="#E8352E"/>
<rect x="347.68" y="343.98" width="1.24" height="1.24" fill="#E8352E"/>
<rect x="349.78" y="343.98" width="1.24" height="1.24" fill="#E8352E"/>
<rect x="351.88" y="343.98" width="1.24" height="1.24" fill="#E8352E"/>
<rect x="341.58" y="287.88" width="1.24" height="1.24" fill="#E8352E"/>
<rect x="351.98" y="287.88" width="1.24" height="1.24" fill="#E8352E"/>
<rect x="331.28" y="293.38" width="1.24" height="1.24" fill="#E8352E"/>
<rect x="341.58" y="293.38" width="1.24" height="1.24" fill="#E8352E"/>
<rect x="333.08" y="316.88" width="1.24" height="1.24" fill="#E8352E"/>
<rect x="341.58" y="316.88" width="1.24" height="1.24" fill="#E8352E"/>
<rect x="342.08" y="318.68" width="1.24" height="1.24" fill="#E8352E"/>
<rect x="341.58" y="320.78" width="1.24" height="1.24" fill="#E8352E"/>
<rect x="330.38" y="323.48" width="1.24" height="1.24" fill="#E8352E"/>
<rect x="346.98" y="331.28" width="1.24" height="1.24" fill="#E8352E"/>
<rect x="345.68" y="333.78" width="1.24" height="1.24" fill="#E8352E"/>
<rect x="336.18" y="341.48" width="1.24" height="1.24" fill="#E8352E"/>
<rect x="344.78" y="341.48" width="1.24" height="1.24" fill="#E8352E"/>
<line x1="342.00" y1="347.50" x2="342.00" y2="348.90" stroke="#333" stroke-width="0.6"/>
<text x="0.00" y="0.00" font-size="3.783" fill="#555" text-anchor="end" font-weight="normal" stroke="#555" stroke-width="0.08" transform="translate(314.90 351.40) scale(1.2 1) rotate(-60)">Control</text>
<text x="0.00" y="0.00" font-size="3.783" fill="#555" text-anchor="end" font-weight="normal" stroke="#555" stroke-width="0.08" transform="translate(344.90 351.40) scale(1.2 1) rotate(-60)">AUD</text>
<line x1="471.10" y1="280.10" x2="471.10" y2="345.60" stroke="#333" stroke-width="0.8"/>
<line x1="470.70" y1="345.20" x2="534.10" y2="345.20" stroke="#333" stroke-width="0.8"/>
<line x1="469.70" y1="282.20" x2="471.10" y2="282.20" stroke="#333" stroke-width="0.6"/>
<text x="0.00" y="0.00" font-size="4.0" fill="#484848" text-anchor="end" font-weight="normal" stroke="#484848" stroke-width="0.1" transform="translate(468.50 283.60) scale(1.2 1)">40%</text>
<line x1="469.70" y1="297.60" x2="471.10" y2="297.60" stroke="#333" stroke-width="0.6"/>
<text x="0.00" y="0.00" font-size="4.0" fill="#484848" text-anchor="end" font-weight="normal" stroke="#484848" stroke-width="0.1" transform="translate(468.50 299.00) scale(1.2 1)">30%</text>
<line x1="469.70" y1="312.70" x2="471.10" y2="312.70" stroke="#333" stroke-width="0.6"/>
<text x="0.00" y="0.00" font-size="4.0" fill="#484848" text-anchor="end" font-weight="normal" stroke="#484848" stroke-width="0.1" transform="translate(468.50 314.10) scale(1.2 1)">20%</text>
<line x1="469.70" y1="327.50" x2="471.10" y2="327.50" stroke="#333" stroke-width="0.6"/>
<text x="0.00" y="0.00" font-size="4.0" fill="#484848" text-anchor="end" font-weight="normal" stroke="#484848" stroke-width="0.1" transform="translate(468.50 328.90) scale(1.2 1)">10%</text>
<line x1="469.70" y1="342.80" x2="471.10" y2="342.80" stroke="#333" stroke-width="0.6"/>
<text x="0.00" y="0.00" font-size="4.0" fill="#484848" text-anchor="end" font-weight="normal" stroke="#484848" stroke-width="0.1" transform="translate(468.50 344.20) scale(1.2 1)">0%</text>
<text x="0.00" y="0.00" font-size="4.85" fill="#1e1e1e" text-anchor="middle" font-weight="normal" stroke="#1e1e1e" stroke-width="0.12" transform="translate(455.90 313.00) scale(1.344 1) rotate(-90)">Relative Percent</text>
<text x="0.00" y="0.00" font-size="4.8" fill="#2a2a2a" text-anchor="middle" font-weight="normal" stroke="#2a2a2a" stroke-width="0.03" transform="translate(503.00 277.50) scale(1.08 1)">Excit</text>
<polyline points="480.00,284.40 480.00,282.80 525.80,282.80 525.80,284.40" fill="none" stroke="#8a8a8a" stroke-width="0.6"/>
<text x="0.00" y="0.00" font-size="4.0" fill="#333" text-anchor="middle" font-weight="normal" stroke="#333" stroke-width="0.06" transform="translate(502.90 282.00) scale(1.2 1)">#</text>
<polyline points="480.00,290.30 480.00,288.70 510.40,288.70 510.40,290.30" fill="none" stroke="#8a8a8a" stroke-width="0.6"/>
<text x="0.00" y="0.00" font-size="3.52" fill="#333" text-anchor="middle" font-weight="normal" stroke="#333" stroke-width="0.06" transform="translate(495.20 287.90) scale(1.2 1)">N.S.</text>
<polyline points="480.00,296.20 480.00,294.60 495.60,294.60 495.60,296.20" fill="none" stroke="#8a8a8a" stroke-width="0.6"/>
<text x="0.00" y="0.00" font-size="3.52" fill="#333" text-anchor="middle" font-weight="normal" stroke="#333" stroke-width="0.06" transform="translate(487.80 293.80) scale(1.2 1)">N.S.</text>
<line x1="480.50" y1="306.70" x2="480.50" y2="306.70" stroke="#8299CF" stroke-width="0.8"/>
<line x1="480.50" y1="334.00" x2="480.50" y2="342.80" stroke="#8299CF" stroke-width="0.8"/>
<rect x="474.60" y="306.70" width="11.80" height="27.30" fill="none" stroke="#8299CF" stroke-width="0.85"/>
<line x1="474.60" y1="322.10" x2="486.40" y2="322.10" stroke="#2E4D9B" stroke-width="0.9"/>
<rect x="474.88" y="306.08" width="1.24" height="1.24" fill="#2E4D9B"/>
<rect x="479.28" y="306.08" width="1.24" height="1.24" fill="#2E4D9B"/>
<rect x="480.78" y="309.68" width="1.24" height="1.24" fill="#2E4D9B"/>
<rect x="483.78" y="312.08" width="1.24" height="1.24" fill="#2E4D9B"/>
<rect x="474.88" y="321.48" width="1.24" height="1.24" fill="#2E4D9B"/>
<rect x="474.28" y="325.98" width="1.24" height="1.24" fill="#2E4D9B"/>
<rect x="484.38" y="335.68" width="1.24" height="1.24" fill="#2E4D9B"/>
<rect x="479.28" y="338.68" width="1.24" height="1.24" fill="#2E4D9B"/>
<rect x="474.28" y="342.18" width="1.24" height="1.24" fill="#2E4D9B"/>
<line x1="480.50" y1="345.20" x2="480.50" y2="346.60" stroke="#333" stroke-width="0.6"/>
<line x1="495.40" y1="296.10" x2="495.40" y2="304.40" stroke="#F2948E" stroke-width="0.8"/>
<line x1="495.40" y1="342.80" x2="495.40" y2="342.80" stroke="#F2948E" stroke-width="0.8"/>
<rect x="489.40" y="304.40" width="12.00" height="38.40" fill="none" stroke="#F2948E" stroke-width="0.85"/>
<line x1="489.40" y1="332.50" x2="501.40" y2="332.50" stroke="#E8352E" stroke-width="0.9"/>
<rect x="498.58" y="295.48" width="1.24" height="1.24" fill="#E8352E"/>
<rect x="500.08" y="302.28" width="1.24" height="1.24" fill="#E8352E"/>
<rect x="492.08" y="342.18" width="1.24" height="1.24" fill="#E8352E"/>
<rect x="495.58" y="342.18" width="1.24" height="1.24" fill="#E8352E"/>
<rect x="500.08" y="342.18" width="1.24" height="1.24" fill="#E8352E"/>
<line x1="495.40" y1="345.20" x2="495.40" y2="346.60" stroke="#333" stroke-width="0.6"/>
<line x1="510.40" y1="323.60" x2="510.40" y2="328.60" stroke="#98DC8C" stroke-width="0.8"/>
<line x1="510.40" y1="342.20" x2="510.40" y2="342.20" stroke="#98DC8C" stroke-width="0.8"/>
<rect x="504.50" y="328.60" width="11.80" height="13.60" fill="none" stroke="#98DC8C" stroke-width="0.85"/>
<line x1="504.50" y1="340.50" x2="516.30" y2="340.50" stroke="#58C24A" stroke-width="0.9"/>
<rect x="504.48" y="299.38" width="1.24" height="1.24" fill="#58C24A"/>
<rect x="510.38" y="299.38" width="1.24" height="1.24" fill="#58C24A"/>
<rect x="507.98" y="324.48" width="1.24" height="1.24" fill="#58C24A"/>
<rect x="506.88" y="337.78" width="1.24" height="1.24" fill="#58C24A"/>
<rect x="504.48" y="342.18" width="1.24" height="1.24" fill="#58C24A"/>
<rect x="508.88" y="342.18" width="1.24" height="1.24" fill="#58C24A"/>
<line x1="510.40" y1="345.20" x2="510.40" y2="346.60" stroke="#333" stroke-width="0.6"/>
<line x1="525.80" y1="329.50" x2="525.80" y2="333.40" stroke="#7CCBD5" stroke-width="0.8"/>
<line x1="525.80" y1="342.20" x2="525.80" y2="342.20" stroke="#7CCBD5" stroke-width="0.8"/>
<rect x="519.90" y="333.40" width="11.80" height="8.80" fill="none" stroke="#7CCBD5" stroke-width="0.85"/>
<line x1="519.90" y1="337.50" x2="531.70" y2="337.50" stroke="#27A9B9" stroke-width="0.9"/>
<rect x="524.58" y="329.78" width="1.24" height="1.24" fill="#27A9B9"/>
<rect x="522.18" y="342.18" width="1.24" height="1.24" fill="#27A9B9"/>
<rect x="528.18" y="342.18" width="1.24" height="1.24" fill="#27A9B9"/>
<line x1="525.80" y1="345.20" x2="525.80" y2="346.60" stroke="#333" stroke-width="0.6"/>
<text x="0.00" y="0.00" font-size="3.88" fill="#555" text-anchor="end" font-weight="normal" stroke="#555" stroke-width="0.08" transform="translate(483.40 349.10) scale(1.2 1) rotate(-60)">Low Drinker</text>
<text x="0.00" y="0.00" font-size="3.88" fill="#555" text-anchor="end" font-weight="normal" stroke="#555" stroke-width="0.08" transform="translate(498.30 349.10) scale(1.2 1) rotate(-60)">Heavy Drinker</text>
<text x="0.00" y="0.00" font-size="3.88" fill="#555" text-anchor="end" font-weight="normal" stroke="#555" stroke-width="0.08" transform="translate(513.30 349.10) scale(1.2 1) rotate(-60)">Very Heavy Drinker</text>
<text x="0.00" y="0.00" font-size="3.88" fill="#555" text-anchor="end" font-weight="normal" stroke="#555" stroke-width="0.08" transform="translate(528.70 349.10) scale(1.2 1) rotate(-60)">Binge Drinker</text>
<line x1="551.30" y1="280.10" x2="551.30" y2="346.20" stroke="#333" stroke-width="0.8"/>
<line x1="550.90" y1="345.80" x2="614.30" y2="345.80" stroke="#333" stroke-width="0.8"/>
<line x1="549.90" y1="282.20" x2="551.30" y2="282.20" stroke="#333" stroke-width="0.6"/>
<text x="0.00" y="0.00" font-size="4.0" fill="#484848" text-anchor="end" font-weight="normal" stroke="#484848" stroke-width="0.1" transform="translate(548.70 283.60) scale(1.2 1)">60%</text>
<line x1="549.90" y1="302.90" x2="551.30" y2="302.90" stroke="#333" stroke-width="0.6"/>
<text x="0.00" y="0.00" font-size="4.0" fill="#484848" text-anchor="end" font-weight="normal" stroke="#484848" stroke-width="0.1" transform="translate(548.70 304.30) scale(1.2 1)">40%</text>
<line x1="549.90" y1="322.70" x2="551.30" y2="322.70" stroke="#333" stroke-width="0.6"/>
<text x="0.00" y="0.00" font-size="4.0" fill="#484848" text-anchor="end" font-weight="normal" stroke="#484848" stroke-width="0.1" transform="translate(548.70 324.10) scale(1.2 1)">20%</text>
<line x1="549.90" y1="342.80" x2="551.30" y2="342.80" stroke="#333" stroke-width="0.6"/>
<text x="0.00" y="0.00" font-size="4.0" fill="#484848" text-anchor="end" font-weight="normal" stroke="#484848" stroke-width="0.1" transform="translate(548.70 344.20) scale(1.2 1)">0%</text>
<text x="0.00" y="0.00" font-size="4.8" fill="#2a2a2a" text-anchor="middle" font-weight="normal" stroke="#2a2a2a" stroke-width="0.03" transform="translate(582.70 277.50) scale(1.08 1)">NascInhN</text>
<polyline points="560.20,284.40 560.20,282.80 605.40,282.80 605.40,284.40" fill="none" stroke="#8a8a8a" stroke-width="0.6"/>
<text x="0.00" y="0.00" font-size="3.52" fill="#333" text-anchor="middle" font-weight="normal" stroke="#333" stroke-width="0.06" transform="translate(582.80 282.00) scale(1.2 1)">N.S.</text>
<polyline points="560.20,290.30 560.20,288.70 590.70,288.70 590.70,290.30" fill="none" stroke="#8a8a8a" stroke-width="0.6"/>
<text x="0.00" y="0.00" font-size="3.52" fill="#333" text-anchor="middle" font-weight="normal" stroke="#333" stroke-width="0.06" transform="translate(575.45 287.90) scale(1.2 1)">N.S.</text>
<polyline points="560.20,296.20 560.20,294.60 575.90,294.60 575.90,296.20" fill="none" stroke="#8a8a8a" stroke-width="0.6"/>
<text x="0.00" y="0.00" font-size="3.52" fill="#333" text-anchor="middle" font-weight="normal" stroke="#333" stroke-width="0.06" transform="translate(568.05 293.80) scale(1.2 1)">N.S.</text>
<line x1="560.30" y1="302.90" x2="560.30" y2="321.50" stroke="#8299CF" stroke-width="0.8"/>
<line x1="560.30" y1="340.50" x2="560.30" y2="342.80" stroke="#8299CF" stroke-width="0.8"/>
<rect x="554.50" y="321.50" width="11.60" height="19.00" fill="none" stroke="#8299CF" stroke-width="0.85"/>
<line x1="554.50" y1="333.40" x2="566.10" y2="333.40" stroke="#2E4D9B" stroke-width="0.9"/>
<rect x="564.88" y="301.38" width="1.24" height="1.24" fill="#2E4D9B"/>
<rect x="554.48" y="318.58" width="1.24" height="1.24" fill="#2E4D9B"/>
<rect x="557.48" y="320.88" width="1.24" height="1.24" fill="#2E4D9B"/>
<rect x="558.98" y="321.48" width="1.24" height="1.24" fill="#2E4D9B"/>
<rect x="559.88" y="329.78" width="1.24" height="1.24" fill="#2E4D9B"/>
<rect x="557.48" y="336.28" width="1.24" height="1.24" fill="#2E4D9B"/>
<rect x="561.38" y="336.88" width="1.24" height="1.24" fill="#2E4D9B"/>
<rect x="554.48" y="341.58" width="1.24" height="1.24" fill="#2E4D9B"/>
<rect x="563.38" y="340.78" width="1.24" height="1.24" fill="#2E4D9B"/>
<rect x="564.88" y="341.58" width="1.24" height="1.24" fill="#2E4D9B"/>
<line x1="560.30" y1="345.80" x2="560.30" y2="347.20" stroke="#333" stroke-width="0.6"/>
<line x1="575.10" y1="296.10" x2="575.10" y2="318.60" stroke="#F2948E" stroke-width="0.8"/>
<line x1="575.10" y1="336.30" x2="575.10" y2="338.40" stroke="#F2948E" stroke-width="0.8"/>
<rect x="569.30" y="318.60" width="11.60" height="17.70" fill="none" stroke="#F2948E" stroke-width="0.85"/>
<line x1="569.30" y1="331.60" x2="580.90" y2="331.60" stroke="#E8352E" stroke-width="0.9"/>
<rect x="570.78" y="295.48" width="1.24" height="1.24" fill="#E8352E"/>
<rect x="576.08" y="306.68" width="1.24" height="1.24" fill="#E8352E"/>
<rect x="570.18" y="329.78" width="1.24" height="1.24" fill="#E8352E"/>
<rect x="575.78" y="330.38" width="1.24" height="1.24" fill="#E8352E"/>
<rect x="570.78" y="336.88" width="1.24" height="1.24" fill="#E8352E"/>
<rect x="573.78" y="336.88" width="1.24" height="1.24" fill="#E8352E"/>
<line x1="575.10" y1="345.80" x2="575.10" y2="347.20" stroke="#333" stroke-width="0.6"/>
<line x1="590.00" y1="307.90" x2="590.00" y2="313.30" stroke="#98DC8C" stroke-width="0.8"/>
<line x1="590.00" y1="332.50" x2="590.00" y2="334.60" stroke="#98DC8C" stroke-width="0.8"/>
<rect x="584.00" y="313.30" width="12.00" height="19.20" fill="none" stroke="#98DC8C" stroke-width="0.85"/>
<line x1="584.00" y1="327.50" x2="596.00" y2="327.50" stroke="#58C24A" stroke-width="0.9"/>
<rect x="587.08" y="307.28" width="1.24" height="1.24" fill="#58C24A"/>
<rect x="588.58" y="308.18" width="1.24" height="1.24" fill="#58C24A"/>
<rect x="588.58" y="322.08" width="1.24" height="1.24" fill="#58C24A"/>
<rect x="585.58" y="333.38" width="1.24" height="1.24" fill="#58C24A"/>
<rect x="591.48" y="333.38" width="1.24" height="1.24" fill="#58C24A"/>
<line x1="590.00" y1="345.80" x2="590.00" y2="347.20" stroke="#333" stroke-width="0.6"/>
<line x1="605.40" y1="298.50" x2="605.40" y2="315.60" stroke="#7CCBD5" stroke-width="0.8"/>
<line x1="605.40" y1="331.90" x2="605.40" y2="340.50" stroke="#7CCBD5" stroke-width="0.8"/>
<rect x="599.40" y="315.60" width="12.00" height="16.30" fill="none" stroke="#7CCBD5" stroke-width="0.85"/>
<line x1="599.40" y1="315.60" x2="611.40" y2="315.60" stroke="#27A9B9" stroke-width="0.9"/>
<rect x="601.28" y="297.88" width="1.24" height="1.24" fill="#27A9B9"/>
<rect x="601.88" y="330.38" width="1.24" height="1.24" fill="#27A9B9"/>
<rect x="599.48" y="339.88" width="1.24" height="1.24" fill="#27A9B9"/>
<line x1="605.40" y1="345.80" x2="605.40" y2="347.20" stroke="#333" stroke-width="0.6"/>
<text x="0.00" y="0.00" font-size="3.88" fill="#555" text-anchor="end" font-weight="normal" stroke="#555" stroke-width="0.08" transform="translate(563.20 349.70) scale(1.2 1) rotate(-60)">Low Drinker</text>
<text x="0.00" y="0.00" font-size="3.88" fill="#555" text-anchor="end" font-weight="normal" stroke="#555" stroke-width="0.08" transform="translate(578.00 349.70) scale(1.2 1) rotate(-60)">Heavy Drinker</text>
<text x="0.00" y="0.00" font-size="3.88" fill="#555" text-anchor="end" font-weight="normal" stroke="#555" stroke-width="0.08" transform="translate(592.90 349.70) scale(1.2 1) rotate(-60)">Very Heavy Drinker</text>
<text x="0.00" y="0.00" font-size="3.88" fill="#555" text-anchor="end" font-weight="normal" stroke="#555" stroke-width="0.08" transform="translate(608.30 349.70) scale(1.2 1) rotate(-60)">Binge Drinker</text>
<text x="401.00" y="178.30" font-size="4.2" fill="#58C24A" text-anchor="middle" font-weight="normal" stroke="#58C24A" stroke-width="0.15">Sugas</text>
<text x="18.20" y="6.60" font-size="5.5" fill="#333" text-anchor="start" font-weight="normal" stroke="#333" stroke-width="0.1" textLength="10.9" lengthAdjust="spacingAndGlyphs">PFC</text>
<circle cx="57.1" cy="14" r="0.65" fill="#E4C530"/>
<text x="61.50" y="15.10" font-size="4.0" fill="#333" text-anchor="start" font-weight="normal" stroke="#333" stroke-width="0.05" textLength="11.8" lengthAdjust="spacingAndGlyphs">Human</text>
<circle cx="78.5" cy="14" r="0.55" fill="#6D94DF"/>
<text x="83.10" y="15.10" font-size="4.0" fill="#333" text-anchor="start" font-weight="normal" stroke="#333" stroke-width="0.05" textLength="13" lengthAdjust="spacingAndGlyphs">Primate</text>
<line x1="18.20" y1="22.80" x2="18.20" y2="108.70" stroke="#444" stroke-width="0.8"/>
<line x1="17.80" y1="108.30" x2="130.80" y2="108.30" stroke="#444" stroke-width="0.8"/>
<line x1="16.90" y1="34.40" x2="18.20" y2="34.40" stroke="#444" stroke-width="0.6"/>
<text x="16.40" y="35.80" font-size="4.0" fill="#444" text-anchor="end" font-weight="normal" stroke="#444" stroke-width="0.1">10</text>
<line x1="16.90" y1="48.50" x2="18.20" y2="48.50" stroke="#444" stroke-width="0.6"/>
<text x="16.40" y="49.90" font-size="4.0" fill="#444" text-anchor="end" font-weight="normal" stroke="#444" stroke-width="0.1">5</text>
<line x1="16.90" y1="62.20" x2="18.20" y2="62.20" stroke="#444" stroke-width="0.6"/>
<text x="16.40" y="63.60" font-size="4.0" fill="#444" text-anchor="end" font-weight="normal" stroke="#444" stroke-width="0.1">0</text>
<line x1="16.90" y1="76.20" x2="18.20" y2="76.20" stroke="#444" stroke-width="0.6"/>
<text x="16.40" y="77.60" font-size="4.0" fill="#444" text-anchor="end" font-weight="normal" stroke="#444" stroke-width="0.1">−5</text>
<line x1="16.90" y1="89.60" x2="18.20" y2="89.60" stroke="#444" stroke-width="0.6"/>
<text x="16.40" y="91.00" font-size="4.0" fill="#444" text-anchor="end" font-weight="normal" stroke="#444" stroke-width="0.1">−10</text>
<line x1="16.90" y1="103.30" x2="18.20" y2="103.30" stroke="#444" stroke-width="0.6"/>
<text x="16.40" y="104.70" font-size="4.0" fill="#444" text-anchor="end" font-weight="normal" stroke="#444" stroke-width="0.1">−15</text>
<line x1="31.70" y1="108.30" x2="31.70" y2="109.60" stroke="#444" stroke-width="0.6"/>
<text x="31.70" y="113.20" font-size="4.0" fill="#444" text-anchor="middle" font-weight="normal" stroke="#444" stroke-width="0.1">−10</text>
<line x1="68.30" y1="108.30" x2="68.30" y2="109.60" stroke="#444" stroke-width="0.6"/>
<text x="68.30" y="113.20" font-size="4.0" fill="#444" text-anchor="middle" font-weight="normal" stroke="#444" stroke-width="0.1">0</text>
<line x1="104.80" y1="108.30" x2="104.80" y2="109.60" stroke="#444" stroke-width="0.6"/>
<text x="104.80" y="113.20" font-size="4.0" fill="#444" text-anchor="middle" font-weight="normal" stroke="#444" stroke-width="0.1">10</text>
<text x="74.00" y="118.60" font-size="4.9" fill="#333" text-anchor="middle" font-weight="normal" stroke="#333" stroke-width="0.1">UMAP1</text>
<text x="0.00" y="0.00" font-size="4.9" fill="#333" text-anchor="middle" font-weight="normal" stroke="#333" stroke-width="0.1" transform="translate(8.80 65.40) rotate(-90)">UMAP2</text>
<g filter="url(#bl)" opacity="1.0"><path d="M32.30,55.00 C33.05,54.63 35.67,54.22 37.50,54.00 C39.33,53.78 41.48,53.85 43.30,53.70 C45.12,53.55 46.70,53.10 48.40,53.10 C50.10,53.10 52.22,53.33 53.50,53.70 C54.78,54.07 55.35,54.60 56.10,55.30 C56.85,56.00 58.22,57.37 58.00,57.90 C57.78,58.43 55.75,58.18 54.80,58.50 C53.85,58.82 53.15,59.15 52.30,59.80 C51.45,60.45 50.45,62.18 49.70,62.40 C48.95,62.62 48.65,61.63 47.80,61.10 C46.95,60.57 45.78,59.63 44.60,59.20 C43.42,58.77 42.10,58.82 40.70,58.50 C39.30,58.18 37.48,57.68 36.20,57.30 C34.92,56.92 33.65,56.58 33.00,56.20 C32.35,55.82 31.55,55.37 32.30,55.00 Z" fill="#EBD255" fill-opacity="0.8"/><path d="M32.30,55.00 C33.05,54.63 35.67,54.22 37.50,54.00 C39.33,53.78 41.48,53.85 43.30,53.70 C45.12,53.55 46.70,53.10 48.40,53.10 C50.10,53.10 52.22,53.33 53.50,53.70 C54.78,54.07 55.35,54.60 56.10,55.30 C56.85,56.00 58.22,57.37 58.00,57.90 C57.78,58.43 55.75,58.18 54.80,58.50 C53.85,58.82 53.15,59.15 52.30,59.80 C51.45,60.45 50.45,62.18 49.70,62.40 C48.95,62.62 48.65,61.63 47.80,61.10 C46.95,60.57 45.78,59.63 44.60,59.20 C43.42,58.77 42.10,58.82 40.70,58.50 C39.30,58.18 37.48,57.68 36.20,57.30 C34.92,56.92 33.65,56.58 33.00,56.20 C32.35,55.82 31.55,55.37 32.30,55.00 Z" fill="url(#pY)"/></g>
<g filter="url(#bl)" opacity="1.0"><path d="M43.90,48.00 C44.65,47.15 46.80,47.13 48.40,47.00 C50.00,46.87 51.78,47.03 53.50,47.20 C55.22,47.37 57.73,47.40 58.70,48.00 C59.67,48.60 59.52,50.12 59.30,50.80 C59.08,51.48 58.37,51.77 57.40,52.10 C56.43,52.43 55.00,52.48 53.50,52.80 C52.00,53.12 49.78,53.68 48.40,54.00 C47.02,54.32 45.95,55.02 45.20,54.70 C44.45,54.38 44.12,53.22 43.90,52.10 C43.68,50.98 43.15,48.85 43.90,48.00 Z" fill="#98B6EE" fill-opacity="0.72"/><path d="M43.90,48.00 C44.65,47.15 46.80,47.13 48.40,47.00 C50.00,46.87 51.78,47.03 53.50,47.20 C55.22,47.37 57.73,47.40 58.70,48.00 C59.67,48.60 59.52,50.12 59.30,50.80 C59.08,51.48 58.37,51.77 57.40,52.10 C56.43,52.43 55.00,52.48 53.50,52.80 C52.00,53.12 49.78,53.68 48.40,54.00 C47.02,54.32 45.95,55.02 45.20,54.70 C44.45,54.38 44.12,53.22 43.90,52.10 C43.68,50.98 43.15,48.85 43.90,48.00 Z" fill="url(#pB)"/></g>
<g filter="url(#bl)" opacity="0.8"><path d="M44.50,54.50 C44.75,54.00 46.08,53.50 47.00,53.50 C47.92,53.50 49.75,54.00 50.00,54.50 C50.25,55.00 49.25,56.17 48.50,56.50 C47.75,56.83 46.17,56.83 45.50,56.50 C44.83,56.17 44.25,55.00 44.50,54.50 Z" fill="#98B6EE" fill-opacity="0.72"/><path d="M44.50,54.50 C44.75,54.00 46.08,53.50 47.00,53.50 C47.92,53.50 49.75,54.00 50.00,54.50 C50.25,55.00 49.25,56.17 48.50,56.50 C47.75,56.83 46.17,56.83 45.50,56.50 C44.83,56.17 44.25,55.00 44.50,54.50 Z" fill="url(#pB)"/></g>
<line x1="47.90" y1="47.50" x2="48.60" y2="40.80" stroke="#6D94DF" stroke-width="0.5"/>
<g filter="url(#bl)" opacity="0.85"><path d="M44.00,48.00 C45.00,47.08 48.00,46.83 50.00,46.50 C52.00,46.17 54.00,46.25 56.00,46.00 C58.00,45.75 60.00,45.33 62.00,45.00 C64.00,44.67 66.00,44.25 68.00,44.00 C70.00,43.75 72.33,43.33 74.00,43.50 C75.67,43.67 77.33,43.92 78.00,45.00 C78.67,46.08 78.25,48.25 78.00,50.00 C77.75,51.75 77.83,54.40 76.50,55.50 C75.17,56.60 72.08,56.55 70.00,56.60 C67.92,56.65 66.00,56.32 64.00,55.80 C62.00,55.28 60.00,53.93 58.00,53.50 C56.00,53.07 54.00,53.03 52.00,53.20 C50.00,53.37 47.33,54.70 46.00,54.50 C44.67,54.30 44.33,53.08 44.00,52.00 C43.67,50.92 43.00,48.92 44.00,48.00 Z" fill="#98B6EE" fill-opacity="0.72"/><path d="M44.00,48.00 C45.00,47.08 48.00,46.83 50.00,46.50 C52.00,46.17 54.00,46.25 56.00,46.00 C58.00,45.75 60.00,45.33 62.00,45.00 C64.00,44.67 66.00,44.25 68.00,44.00 C70.00,43.75 72.33,43.33 74.00,43.50 C75.67,43.67 77.33,43.92 78.00,45.00 C78.67,46.08 78.25,48.25 78.00,50.00 C77.75,51.75 77.83,54.40 76.50,55.50 C75.17,56.60 72.08,56.55 70.00,56.60 C67.92,56.65 66.00,56.32 64.00,55.80 C62.00,55.28 60.00,53.93 58.00,53.50 C56.00,53.07 54.00,53.03 52.00,53.20 C50.00,53.37 47.33,54.70 46.00,54.50 C44.67,54.30 44.33,53.08 44.00,52.00 C43.67,50.92 43.00,48.92 44.00,48.00 Z" fill="url(#pB)"/></g>
<g filter="url(#bl)" opacity="1.0"><path d="M67.00,46.50 C67.00,45.50 70.42,44.00 72.00,42.50 C73.58,41.00 75.20,39.25 76.50,37.50 C77.80,35.75 78.72,33.67 79.80,32.00 C80.88,30.33 81.80,28.50 83.00,27.50 C84.20,26.50 85.92,25.78 87.00,26.00 C88.08,26.22 89.25,27.63 89.50,28.80 C89.75,29.97 89.25,31.55 88.50,33.00 C87.75,34.45 86.33,36.00 85.00,37.50 C83.67,39.00 81.83,40.58 80.50,42.00 C79.17,43.42 78.42,44.92 77.00,46.00 C75.58,47.08 73.67,48.42 72.00,48.50 C70.33,48.58 67.00,47.50 67.00,46.50 Z" fill="#98B6EE" fill-opacity="0.72"/><path d="M67.00,46.50 C67.00,45.50 70.42,44.00 72.00,42.50 C73.58,41.00 75.20,39.25 76.50,37.50 C77.80,35.75 78.72,33.67 79.80,32.00 C80.88,30.33 81.80,28.50 83.00,27.50 C84.20,26.50 85.92,25.78 87.00,26.00 C88.08,26.22 89.25,27.63 89.50,28.80 C89.75,29.97 89.25,31.55 88.50,33.00 C87.75,34.45 86.33,36.00 85.00,37.50 C83.67,39.00 81.83,40.58 80.50,42.00 C79.17,43.42 78.42,44.92 77.00,46.00 C75.58,47.08 73.67,48.42 72.00,48.50 C70.33,48.58 67.00,47.50 67.00,46.50 Z" fill="url(#pB)"/></g>
<line x1="87.50" y1="32.00" x2="93.50" y2="33.00" stroke="#6D94DF" stroke-width="0.6"/>
<g filter="url(#bl)" opacity="1.0"><path d="M82.00,43.80 C82.10,43.48 84.03,41.95 85.20,41.20 C86.37,40.45 87.62,39.73 89.00,39.30 C90.38,38.87 91.67,38.75 93.50,38.60 C95.33,38.45 97.95,38.33 100.00,38.40 C102.05,38.47 104.63,38.68 105.80,39.00 C106.97,39.32 107.12,39.87 107.00,40.30 C106.88,40.73 106.48,41.35 105.10,41.60 C103.72,41.85 100.63,41.77 98.70,41.80 C96.77,41.83 95.22,41.90 93.50,41.80 C91.78,41.70 89.88,40.98 88.40,41.20 C86.92,41.42 85.67,42.67 84.60,43.10 C83.53,43.53 81.90,44.12 82.00,43.80 Z" fill="#EBD255" fill-opacity="0.8"/><path d="M82.00,43.80 C82.10,43.48 84.03,41.95 85.20,41.20 C86.37,40.45 87.62,39.73 89.00,39.30 C90.38,38.87 91.67,38.75 93.50,38.60 C95.33,38.45 97.95,38.33 100.00,38.40 C102.05,38.47 104.63,38.68 105.80,39.00 C106.97,39.32 107.12,39.87 107.00,40.30 C106.88,40.73 106.48,41.35 105.10,41.60 C103.72,41.85 100.63,41.77 98.70,41.80 C96.77,41.83 95.22,41.90 93.50,41.80 C91.78,41.70 89.88,40.98 88.40,41.20 C86.92,41.42 85.67,42.67 84.60,43.10 C83.53,43.53 81.90,44.12 82.00,43.80 Z" fill="url(#pY)"/></g>
<rect x="68.5" y="29" width="2.2" height="1.1" fill="#E4C530" filter="url(#bl)"/>
<rect x="86.5" y="48.3" width="1.5" height="1" fill="#E4C530" filter="url(#bl)"/>
<rect x="94.2" y="53.6" width="5" height="1.2" fill="#E4C530" filter="url(#bl)"/>
<rect x="84.3" y="58.3" width="0.9" height="0.9" fill="#E4C530" filter="url(#bl)"/>
<rect x="89.5" y="40.5" width="1" height="1" fill="#E4C530" filter="url(#bl)"/>
<rect x="69" y="47" width="1" height="1" fill="#E4C530" filter="url(#bl)"/>
<rect x="120" y="70" width="1" height="1" fill="#E4C530" filter="url(#bl)"/>
<rect x="110" y="66" width="1" height="1" fill="#E4C530" filter="url(#bl)"/>
<rect x="104" y="80" width="1" height="1" fill="#E4C530" filter="url(#bl)"/>
<rect x="107" y="81.5" width="1" height="1" fill="#E4C530" filter="url(#bl)"/>
<rect x="109" y="88" width="1" height="1" fill="#E4C530" filter="url(#bl)"/>
<rect x="126" y="73" width="1" height="1" fill="#E4C530" filter="url(#bl)"/>
<g filter="url(#bl)" opacity="1.0"><path d="M33.60,75.40 C34.23,74.22 36.27,73.93 38.10,73.50 C39.93,73.07 42.45,72.78 44.60,72.80 C46.75,72.82 49.18,73.32 51.00,73.60 C52.82,73.88 54.67,73.68 55.50,74.50 C56.33,75.32 56.33,77.50 56.00,78.50 C55.67,79.50 54.77,80.22 53.50,80.50 C52.23,80.78 50.10,80.08 48.40,80.20 C46.70,80.32 45.02,80.90 43.30,81.20 C41.58,81.50 39.60,82.10 38.10,82.00 C36.60,81.90 35.05,81.70 34.30,80.60 C33.55,79.50 32.97,76.58 33.60,75.40 Z" fill="#98B6EE" fill-opacity="0.72"/><path d="M33.60,75.40 C34.23,74.22 36.27,73.93 38.10,73.50 C39.93,73.07 42.45,72.78 44.60,72.80 C46.75,72.82 49.18,73.32 51.00,73.60 C52.82,73.88 54.67,73.68 55.50,74.50 C56.33,75.32 56.33,77.50 56.00,78.50 C55.67,79.50 54.77,80.22 53.50,80.50 C52.23,80.78 50.10,80.08 48.40,80.20 C46.70,80.32 45.02,80.90 43.30,81.20 C41.58,81.50 39.60,82.10 38.10,82.00 C36.60,81.90 35.05,81.70 34.30,80.60 C33.55,79.50 32.97,76.58 33.60,75.40 Z" fill="url(#pB)"/></g>
<g filter="url(#bl)" opacity="1.0"><path d="M57.00,74.00 C57.47,72.90 58.17,71.50 59.30,70.90 C60.43,70.30 62.18,70.17 63.80,70.40 C65.42,70.63 67.90,71.47 69.00,72.30 C70.10,73.13 70.57,74.53 70.40,75.40 C70.23,76.27 69.10,76.98 68.00,77.50 C66.90,78.02 65.35,78.12 63.80,78.50 C62.25,78.88 59.92,79.97 58.70,79.80 C57.48,79.63 56.78,78.47 56.50,77.50 C56.22,76.53 56.53,75.10 57.00,74.00 Z" fill="#98B6EE" fill-opacity="0.72"/><path d="M57.00,74.00 C57.47,72.90 58.17,71.50 59.30,70.90 C60.43,70.30 62.18,70.17 63.80,70.40 C65.42,70.63 67.90,71.47 69.00,72.30 C70.10,73.13 70.57,74.53 70.40,75.40 C70.23,76.27 69.10,76.98 68.00,77.50 C66.90,78.02 65.35,78.12 63.80,78.50 C62.25,78.88 59.92,79.97 58.70,79.80 C57.48,79.63 56.78,78.47 56.50,77.50 C56.22,76.53 56.53,75.10 57.00,74.00 Z" fill="url(#pB)"/></g>
<rect x="45.90" y="67.80" width="1.20" height="1.20" fill="#6D94DF"/>
<g filter="url(#bl)" opacity="1.0"><path d="M57.40,101.00 C57.80,100.53 58.90,100.08 60.00,100.00 C61.10,99.92 62.83,100.75 64.00,100.50 C65.17,100.25 66.08,99.17 67.00,98.50 C67.92,97.83 68.92,96.67 69.50,96.50 C70.08,96.33 70.67,96.83 70.50,97.50 C70.33,98.17 68.55,99.70 68.50,100.50 C68.45,101.30 70.62,101.78 70.20,102.30 C69.78,102.82 67.70,103.37 66.00,103.60 C64.30,103.83 61.40,103.83 60.00,103.70 C58.60,103.57 58.03,103.25 57.60,102.80 C57.17,102.35 57.00,101.47 57.40,101.00 Z" fill="#98B6EE" fill-opacity="0.72"/><path d="M57.40,101.00 C57.80,100.53 58.90,100.08 60.00,100.00 C61.10,99.92 62.83,100.75 64.00,100.50 C65.17,100.25 66.08,99.17 67.00,98.50 C67.92,97.83 68.92,96.67 69.50,96.50 C70.08,96.33 70.67,96.83 70.50,97.50 C70.33,98.17 68.55,99.70 68.50,100.50 C68.45,101.30 70.62,101.78 70.20,102.30 C69.78,102.82 67.70,103.37 66.00,103.60 C64.30,103.83 61.40,103.83 60.00,103.70 C58.60,103.57 58.03,103.25 57.60,102.80 C57.17,102.35 57.00,101.47 57.40,101.00 Z" fill="url(#pB)"/></g>
<g filter="url(#bl)" opacity="1.0"><path d="M58.50,100.00 C58.97,99.73 61.05,99.43 61.50,99.60 C61.95,99.77 61.67,100.73 61.20,101.00 C60.73,101.27 59.15,101.37 58.70,101.20 C58.25,101.03 58.03,100.27 58.50,100.00 Z" fill="#EBD255" fill-opacity="0.8"/><path d="M58.50,100.00 C58.97,99.73 61.05,99.43 61.50,99.60 C61.95,99.77 61.67,100.73 61.20,101.00 C60.73,101.27 59.15,101.37 58.70,101.20 C58.25,101.03 58.03,100.27 58.50,100.00 Z" fill="url(#pY)"/></g>
<g filter="url(#bl)" opacity="1.0"><path d="M86.00,71.00 C86.72,69.87 89.08,69.40 90.50,69.20 C91.92,69.00 93.42,69.25 94.50,69.80 C95.58,70.35 96.65,71.38 97.00,72.50 C97.35,73.62 97.10,75.50 96.60,76.50 C96.10,77.50 95.10,78.12 94.00,78.50 C92.90,78.88 91.30,79.22 90.00,78.80 C88.70,78.38 86.87,77.30 86.20,76.00 C85.53,74.70 85.28,72.13 86.00,71.00 Z" fill="#86A8E8" fill-opacity="0.8"/><path d="M86.00,71.00 C86.72,69.87 89.08,69.40 90.50,69.20 C91.92,69.00 93.42,69.25 94.50,69.80 C95.58,70.35 96.65,71.38 97.00,72.50 C97.35,73.62 97.10,75.50 96.60,76.50 C96.10,77.50 95.10,78.12 94.00,78.50 C92.90,78.88 91.30,79.22 90.00,78.80 C88.70,78.38 86.87,77.30 86.20,76.00 C85.53,74.70 85.28,72.13 86.00,71.00 Z" fill="url(#pB)"/></g>
<g filter="url(#bl)" opacity="1.0"><path d="M80.60,80.00 C81.17,79.38 82.80,78.88 84.00,78.80 C85.20,78.72 87.03,78.97 87.80,79.50 C88.57,80.03 88.82,81.17 88.60,82.00 C88.38,82.83 87.43,84.05 86.50,84.50 C85.57,84.95 83.98,85.03 83.00,84.70 C82.02,84.37 81.00,83.28 80.60,82.50 C80.20,81.72 80.03,80.62 80.60,80.00 Z" fill="#86A8E8" fill-opacity="0.8"/><path d="M80.60,80.00 C81.17,79.38 82.80,78.88 84.00,78.80 C85.20,78.72 87.03,78.97 87.80,79.50 C88.57,80.03 88.82,81.17 88.60,82.00 C88.38,82.83 87.43,84.05 86.50,84.50 C85.57,84.95 83.98,85.03 83.00,84.70 C82.02,84.37 81.00,83.28 80.60,82.50 C80.20,81.72 80.03,80.62 80.60,80.00 Z" fill="url(#pB)"/></g>
<path d="M77.5,78.5 C80,76 84,76.5 87,77.5 M77.5,78.5 C79,80.5 83,80.5 86,79.5 M93.3,67.5 C98,68 102,70 106,69.5 C108,70 109.5,71.5 110.3,72" fill="none" stroke="#E4C530" stroke-width="0.7" filter="url(#bl)"/>
<g filter="url(#bl)" opacity="1.0"><path d="M112.40,57.30 C112.65,56.93 113.80,56.88 114.50,57.00 C115.20,57.12 116.35,57.63 116.60,58.00 C116.85,58.37 116.60,59.00 116.00,59.20 C115.40,59.40 113.60,59.52 113.00,59.20 C112.40,58.88 112.15,57.67 112.40,57.30 Z" fill="#98B6EE" fill-opacity="0.72"/><path d="M112.40,57.30 C112.65,56.93 113.80,56.88 114.50,57.00 C115.20,57.12 116.35,57.63 116.60,58.00 C116.85,58.37 116.60,59.00 116.00,59.20 C115.40,59.40 113.60,59.52 113.00,59.20 C112.40,58.88 112.15,57.67 112.40,57.30 Z" fill="url(#pB)"/></g>
<path d="M116,64.5 L118,66.5 L117,68.5 L120.5,69.5 L121.6,68.5" fill="none" stroke="#6D94DF" stroke-width="0.8" filter="url(#bl)"/>
<g filter="url(#bl)" opacity="0.8"><path d="M70.00,55.20 C70.33,54.87 71.83,54.93 73.00,55.00 C74.17,55.07 76.67,55.27 77.00,55.60 C77.33,55.93 76.00,56.77 75.00,57.00 C74.00,57.23 71.83,57.30 71.00,57.00 C70.17,56.70 69.67,55.53 70.00,55.20 Z" fill="#98B6EE" fill-opacity="0.72"/><path d="M70.00,55.20 C70.33,54.87 71.83,54.93 73.00,55.00 C74.17,55.07 76.67,55.27 77.00,55.60 C77.33,55.93 76.00,56.77 75.00,57.00 C74.00,57.23 71.83,57.30 71.00,57.00 C70.17,56.70 69.67,55.53 70.00,55.20 Z" fill="url(#pB)"/></g>
<path d="M88.5,96 L89.8,94 L92,93.5" fill="none" stroke="#6D94DF" stroke-width="0.6"/>
<rect x="92.90" y="93.90" width="1.20" height="1.20" fill="#E4C530"/>
<text x="47.30" y="40.70" font-size="2.8080000000000003" fill="#111" text-anchor="middle" font-weight="normal" stroke="#111" stroke-width="0.1">Olig</text>
<text x="53.60" y="49.50" font-size="2.8080000000000003" fill="#111" text-anchor="middle" font-weight="normal" stroke="#111" stroke-width="0.1">OPC</text>
<text x="46.50" y="57.70" font-size="2.8080000000000003" fill="#111" text-anchor="middle" font-weight="normal" stroke="#111" stroke-width="0.1">Olig</text>
<text x="24.40" y="56.60" font-size="2.8080000000000003" fill="#111" text-anchor="middle" font-weight="normal" stroke="#111" stroke-width="0.1">Bmcl</text>
<text x="81.50" y="40.50" font-size="2.8080000000000003" fill="#111" text-anchor="middle" font-weight="normal" stroke="#111" stroke-width="0.1">Astro</text>
<text x="98.50" y="42.30" font-size="2.8080000000000003" fill="#111" text-anchor="middle" font-weight="normal" stroke="#111" stroke-width="0.1">Excit</text>
<text x="52.00" y="76.80" font-size="2.8080000000000003" fill="#111" text-anchor="middle" font-weight="normal" stroke="#111" stroke-width="0.1">Astro</text>
<text x="42.00" y="90.00" font-size="2.8080000000000003" fill="#111" text-anchor="middle" font-weight="normal" stroke="#111" stroke-width="0.1">Mural</text>
<text x="58.00" y="88.40" font-size="2.8080000000000003" fill="#111" text-anchor="middle" font-weight="normal" stroke="#111" stroke-width="0.1">Macrophage</text>
<text x="62.30" y="85.70" font-size="2.8080000000000003" fill="#111" text-anchor="middle" font-weight="normal" stroke="#111" stroke-width="0.1">Micro</text>
<text x="72.50" y="91.50" font-size="2.8080000000000003" fill="#111" text-anchor="middle" font-weight="normal" stroke="#111" stroke-width="0.1">Tcell</text>
<text x="91.60" y="75.10" font-size="2.8080000000000003" fill="#111" text-anchor="middle" font-weight="normal" stroke="#111" stroke-width="0.1">Excit</text>
<text x="99.00" y="71.00" font-size="2.8080000000000003" fill="#111" text-anchor="middle" font-weight="normal" stroke="#111" stroke-width="0.1">Inhib</text>
<text x="91.60" y="93.70" font-size="2.8080000000000003" fill="#111" text-anchor="middle" font-weight="normal" stroke="#111" stroke-width="0.1">OPC</text>
<text x="63.40" y="102.40" font-size="2.8080000000000003" fill="#111" text-anchor="middle" font-weight="normal" stroke="#111" stroke-width="0.1">Microglia</text>
<text x="114.60" y="58.80" font-size="2.8080000000000003" fill="#111" text-anchor="middle" font-weight="normal" stroke="#111" stroke-width="0.1">Endo</text>
<text x="119.70" y="69.20" font-size="2.8080000000000003" fill="#111" text-anchor="middle" font-weight="normal" stroke="#111" stroke-width="0.1">Endo</text>
<text x="18.10" y="128.90" font-size="5.5" fill="#333" text-anchor="start" font-weight="normal" stroke="#333" stroke-width="0.1" textLength="35.2" lengthAdjust="spacingAndGlyphs">NAc / Striatum</text>
<circle cx="44.7" cy="137.3" r="0.6" fill="#E4C530"/>
<text x="49.30" y="138.80" font-size="4.0" fill="#333" text-anchor="start" font-weight="normal" stroke="#333" stroke-width="0.05" textLength="11.3" lengthAdjust="spacingAndGlyphs">Human</text>
<circle cx="65.4" cy="137.3" r="0.5" fill="#6D94DF"/>
<text x="70.20" y="138.80" font-size="4.0" fill="#333" text-anchor="start" font-weight="normal" stroke="#333" stroke-width="0.05" textLength="11.8" lengthAdjust="spacingAndGlyphs">Primate</text>
<circle cx="86.5" cy="137.3" r="0.5" fill="#888"/>
<text x="91.10" y="138.80" font-size="4.0" fill="#333" text-anchor="start" font-weight="normal" stroke="#333" stroke-width="0.05" textLength="10.8" lengthAdjust="spacingAndGlyphs">Mouse</text>
<line x1="17.80" y1="147.80" x2="17.80" y2="246.40" stroke="#444" stroke-width="0.8"/>
<line x1="17.40" y1="246.00" x2="124.00" y2="246.00" stroke="#444" stroke-width="0.8"/>
<line x1="16.50" y1="164.40" x2="17.80" y2="164.40" stroke="#444" stroke-width="0.6"/>
<text x="16.00" y="165.80" font-size="4.0" fill="#444" text-anchor="end" font-weight="normal" stroke="#444" stroke-width="0.1">10</text>
<line x1="16.50" y1="194.50" x2="17.80" y2="194.50" stroke="#444" stroke-width="0.6"/>
<text x="16.00" y="195.90" font-size="4.0" fill="#444" text-anchor="end" font-weight="normal" stroke="#444" stroke-width="0.1">0</text>
<line x1="16.50" y1="224.80" x2="17.80" y2="224.80" stroke="#444" stroke-width="0.6"/>
<text x="16.00" y="226.20" font-size="4.0" fill="#444" text-anchor="end" font-weight="normal" stroke="#444" stroke-width="0.1">−10</text>
<line x1="32.40" y1="246.00" x2="32.40" y2="247.30" stroke="#444" stroke-width="0.6"/>
<text x="32.40" y="250.90" font-size="4.0" fill="#444" text-anchor="middle" font-weight="normal" stroke="#444" stroke-width="0.1">−10</text>
<line x1="49.80" y1="246.00" x2="49.80" y2="247.30" stroke="#444" stroke-width="0.6"/>
<text x="49.80" y="250.90" font-size="4.0" fill="#444" text-anchor="middle" font-weight="normal" stroke="#444" stroke-width="0.1">−5</text>
<line x1="67.20" y1="246.00" x2="67.20" y2="247.30" stroke="#444" stroke-width="0.6"/>
<text x="67.20" y="250.90" font-size="4.0" fill="#444" text-anchor="middle" font-weight="normal" stroke="#444" stroke-width="0.1">0</text>
<line x1="85.00" y1="246.00" x2="85.00" y2="247.30" stroke="#444" stroke-width="0.6"/>
<text x="85.00" y="250.90" font-size="4.0" fill="#444" text-anchor="middle" font-weight="normal" stroke="#444" stroke-width="0.1">5</text>
<line x1="103.00" y1="246.00" x2="103.00" y2="247.30" stroke="#444" stroke-width="0.6"/>
<text x="103.00" y="250.90" font-size="4.0" fill="#444" text-anchor="middle" font-weight="normal" stroke="#444" stroke-width="0.1">10</text>
<line x1="120.60" y1="246.00" x2="120.60" y2="247.30" stroke="#444" stroke-width="0.6"/>
<text x="120.60" y="250.90" font-size="4.0" fill="#444" text-anchor="middle" font-weight="normal" stroke="#444" stroke-width="0.1">15</text>
<text x="71.50" y="256.30" font-size="4.9" fill="#333" text-anchor="middle" font-weight="normal" stroke="#333" stroke-width="0.1">UMAP1</text>
<text x="0.00" y="0.00" font-size="4.9" fill="#333" text-anchor="middle" font-weight="normal" stroke="#333" stroke-width="0.1" transform="translate(8.80 197.00) rotate(-90)">UMAP2</text>
<g filter="url(#bl)" opacity="0.85"><path d="M57.40,156.00 C57.80,155.00 58.90,154.30 60.00,154.00 C61.10,153.70 62.78,153.78 64.00,154.20 C65.22,154.62 66.70,155.37 67.30,156.50 C67.90,157.63 67.82,159.67 67.60,161.00 C67.38,162.33 66.52,163.33 66.00,164.50 C65.48,165.67 65.17,167.75 64.50,168.00 C63.83,168.25 62.92,166.83 62.00,166.00 C61.08,165.17 59.73,164.00 59.00,163.00 C58.27,162.00 57.87,161.17 57.60,160.00 C57.33,158.83 57.00,157.00 57.40,156.00 Z" fill="#98B6EE" fill-opacity="0.72"/><path d="M57.40,156.00 C57.80,155.00 58.90,154.30 60.00,154.00 C61.10,153.70 62.78,153.78 64.00,154.20 C65.22,154.62 66.70,155.37 67.30,156.50 C67.90,157.63 67.82,159.67 67.60,161.00 C67.38,162.33 66.52,163.33 66.00,164.50 C65.48,165.67 65.17,167.75 64.50,168.00 C63.83,168.25 62.92,166.83 62.00,166.00 C61.08,165.17 59.73,164.00 59.00,163.00 C58.27,162.00 57.87,161.17 57.60,160.00 C57.33,158.83 57.00,157.00 57.40,156.00 Z" fill="url(#pB)"/></g>
<g filter="url(#bl)" opacity="0.6"><path d="M61.00,166.00 C61.42,165.50 63.25,166.00 64.00,167.00 C64.75,168.00 65.33,170.50 65.50,172.00 C65.67,173.50 65.42,175.67 65.00,176.00 C64.58,176.33 63.58,175.00 63.00,174.00 C62.42,173.00 61.83,171.33 61.50,170.00 C61.17,168.67 60.58,166.50 61.00,166.00 Z" fill="#98B6EE" fill-opacity="0.72"/><path d="M61.00,166.00 C61.42,165.50 63.25,166.00 64.00,167.00 C64.75,168.00 65.33,170.50 65.50,172.00 C65.67,173.50 65.42,175.67 65.00,176.00 C64.58,176.33 63.58,175.00 63.00,174.00 C62.42,173.00 61.83,171.33 61.50,170.00 C61.17,168.67 60.58,166.50 61.00,166.00 Z" fill="url(#pB)"/></g>
<path d="M62,170 L61,180 L59.5,190 L58.5,196" fill="none" stroke="#6D94DF" stroke-width="1.2" stroke-opacity="0.6"/>
<g filter="url(#bl)" opacity="0.8"><path d="M68.90,176.00 C69.92,175.00 72.48,174.25 75.00,174.00 C77.52,173.75 81.70,173.92 84.00,174.50 C86.30,175.08 88.05,176.08 88.80,177.50 C89.55,178.92 89.22,181.35 88.50,183.00 C87.78,184.65 85.75,186.82 84.50,187.40 C83.25,187.98 82.42,186.98 81.00,186.50 C79.58,186.02 77.83,185.08 76.00,184.50 C74.17,183.92 71.18,183.75 70.00,183.00 C68.82,182.25 69.08,181.17 68.90,180.00 C68.72,178.83 67.88,177.00 68.90,176.00 Z" fill="#98B6EE" fill-opacity="0.72"/><path d="M68.90,176.00 C69.92,175.00 72.48,174.25 75.00,174.00 C77.52,173.75 81.70,173.92 84.00,174.50 C86.30,175.08 88.05,176.08 88.80,177.50 C89.55,178.92 89.22,181.35 88.50,183.00 C87.78,184.65 85.75,186.82 84.50,187.40 C83.25,187.98 82.42,186.98 81.00,186.50 C79.58,186.02 77.83,185.08 76.00,184.50 C74.17,183.92 71.18,183.75 70.00,183.00 C68.82,182.25 69.08,181.17 68.90,180.00 C68.72,178.83 67.88,177.00 68.90,176.00 Z" fill="url(#pB)"/></g>
<g filter="url(#bl)" opacity="0.8"><path d="M54.00,199.00 C54.92,196.92 58.00,197.50 60.00,197.50 C62.00,197.50 64.33,197.58 66.00,199.00 C67.67,200.42 68.00,204.67 70.00,206.00 C72.00,207.33 75.67,206.50 78.00,207.00 C80.33,207.50 83.00,207.83 84.00,209.00 C85.00,210.17 85.33,212.83 84.00,214.00 C82.67,215.17 78.67,215.75 76.00,216.00 C73.33,216.25 70.67,215.67 68.00,215.50 C65.33,215.33 62.25,215.92 60.00,215.00 C57.75,214.08 55.50,212.67 54.50,210.00 C53.50,207.33 53.08,201.08 54.00,199.00 Z" fill="#98B6EE" fill-opacity="0.72"/><path d="M54.00,199.00 C54.92,196.92 58.00,197.50 60.00,197.50 C62.00,197.50 64.33,197.58 66.00,199.00 C67.67,200.42 68.00,204.67 70.00,206.00 C72.00,207.33 75.67,206.50 78.00,207.00 C80.33,207.50 83.00,207.83 84.00,209.00 C85.00,210.17 85.33,212.83 84.00,214.00 C82.67,215.17 78.67,215.75 76.00,216.00 C73.33,216.25 70.67,215.67 68.00,215.50 C65.33,215.33 62.25,215.92 60.00,215.00 C57.75,214.08 55.50,212.67 54.50,210.00 C53.50,207.33 53.08,201.08 54.00,199.00 Z" fill="url(#pB)"/></g>
<g filter="url(#bl)" opacity="0.8"><path d="M32.70,210.00 C33.53,208.83 35.95,208.25 38.00,208.00 C40.05,207.75 42.93,208.00 45.00,208.50 C47.07,209.00 49.57,209.75 50.40,211.00 C51.23,212.25 51.07,214.67 50.00,216.00 C48.93,217.33 46.17,218.58 44.00,219.00 C41.83,219.42 38.83,219.17 37.00,218.50 C35.17,217.83 33.72,216.42 33.00,215.00 C32.28,213.58 31.87,211.17 32.70,210.00 Z" fill="#98B6EE" fill-opacity="0.72"/><path d="M32.70,210.00 C33.53,208.83 35.95,208.25 38.00,208.00 C40.05,207.75 42.93,208.00 45.00,208.50 C47.07,209.00 49.57,209.75 50.40,211.00 C51.23,212.25 51.07,214.67 50.00,216.00 C48.93,217.33 46.17,218.58 44.00,219.00 C41.83,219.42 38.83,219.17 37.00,218.50 C35.17,217.83 33.72,216.42 33.00,215.00 C32.28,213.58 31.87,211.17 32.70,210.00 Z" fill="url(#pB)"/></g>
<g filter="url(#bl)" opacity="0.8"><path d="M30.00,188.00 C30.58,187.33 32.00,186.58 33.00,186.50 C34.00,186.42 35.50,186.75 36.00,187.50 C36.50,188.25 36.67,190.25 36.00,191.00 C35.33,191.75 33.08,192.08 32.00,192.00 C30.92,191.92 29.83,191.17 29.50,190.50 C29.17,189.83 29.42,188.67 30.00,188.00 Z" fill="#98B6EE" fill-opacity="0.72"/><path d="M30.00,188.00 C30.58,187.33 32.00,186.58 33.00,186.50 C34.00,186.42 35.50,186.75 36.00,187.50 C36.50,188.25 36.67,190.25 36.00,191.00 C35.33,191.75 33.08,192.08 32.00,192.00 C30.92,191.92 29.83,191.17 29.50,190.50 C29.17,189.83 29.42,188.67 30.00,188.00 Z" fill="url(#pB)"/></g>
<g filter="url(#bl)" opacity="0.8"><path d="M109.00,197.00 C109.50,195.92 111.00,195.42 112.00,195.50 C113.00,195.58 114.58,196.42 115.00,197.50 C115.42,198.58 115.08,200.92 114.50,202.00 C113.92,203.08 112.42,204.00 111.50,204.00 C110.58,204.00 109.42,203.17 109.00,202.00 C108.58,200.83 108.50,198.08 109.00,197.00 Z" fill="#98B6EE" fill-opacity="0.72"/><path d="M109.00,197.00 C109.50,195.92 111.00,195.42 112.00,195.50 C113.00,195.58 114.58,196.42 115.00,197.50 C115.42,198.58 115.08,200.92 114.50,202.00 C113.92,203.08 112.42,204.00 111.50,204.00 C110.58,204.00 109.42,203.17 109.00,202.00 C108.58,200.83 108.50,198.08 109.00,197.00 Z" fill="url(#pB)"/></g>
<g filter="url(#bl)" opacity="0.8"><path d="M108.50,189.50 C108.97,188.92 110.75,188.33 111.50,188.50 C112.25,188.67 113.08,189.83 113.00,190.50 C112.92,191.17 111.72,192.25 111.00,192.50 C110.28,192.75 109.12,192.50 108.70,192.00 C108.28,191.50 108.03,190.08 108.50,189.50 Z" fill="#98B6EE" fill-opacity="0.72"/><path d="M108.50,189.50 C108.97,188.92 110.75,188.33 111.50,188.50 C112.25,188.67 113.08,189.83 113.00,190.50 C112.92,191.17 111.72,192.25 111.00,192.50 C110.28,192.75 109.12,192.50 108.70,192.00 C108.28,191.50 108.03,190.08 108.50,189.50 Z" fill="url(#pB)"/></g>
<g filter="url(#bl)" opacity="0.8"><path d="M62.00,230.00 C62.50,229.33 64.67,228.83 66.00,229.00 C67.33,229.17 69.83,230.25 70.00,231.00 C70.17,231.75 68.17,233.17 67.00,233.50 C65.83,233.83 63.83,233.58 63.00,233.00 C62.17,232.42 61.50,230.67 62.00,230.00 Z" fill="#98B6EE" fill-opacity="0.72"/><path d="M62.00,230.00 C62.50,229.33 64.67,228.83 66.00,229.00 C67.33,229.17 69.83,230.25 70.00,231.00 C70.17,231.75 68.17,233.17 67.00,233.50 C65.83,233.83 63.83,233.58 63.00,233.00 C62.17,232.42 61.50,230.67 62.00,230.00 Z" fill="url(#pB)"/></g>
<g filter="url(#bl)" opacity="0.8"><path d="M43.00,182.00 C43.33,181.33 45.33,180.67 46.00,181.00 C46.67,181.33 47.33,183.33 47.00,184.00 C46.67,184.67 44.67,185.33 44.00,185.00 C43.33,184.67 42.67,182.67 43.00,182.00 Z" fill="#98B6EE" fill-opacity="0.72"/><path d="M43.00,182.00 C43.33,181.33 45.33,180.67 46.00,181.00 C46.67,181.33 47.33,183.33 47.00,184.00 C46.67,184.67 44.67,185.33 44.00,185.00 C43.33,184.67 42.67,182.67 43.00,182.00 Z" fill="url(#pB)"/></g>
<rect x="57.35" y="174.86" width="0.90" height="0.90" fill="#6D94DF"/>
<rect x="55.13" y="172.25" width="0.90" height="0.90" fill="#6D94DF"/>
<rect x="81.34" y="197.33" width="0.90" height="0.90" fill="#6D94DF"/>
<rect x="71.45" y="200.98" width="0.90" height="0.90" fill="#6D94DF"/>
<rect x="70.79" y="207.74" width="0.90" height="0.90" fill="#6D94DF"/>
<rect x="76.35" y="163.52" width="0.90" height="0.90" fill="#6D94DF"/>
<rect x="74.84" y="184.08" width="0.90" height="0.90" fill="#6D94DF"/>
<rect x="73.75" y="168.12" width="0.90" height="0.90" fill="#6D94DF"/>
<rect x="79.34" y="166.52" width="0.90" height="0.90" fill="#6D94DF"/>
<rect x="65.48" y="169.62" width="0.90" height="0.90" fill="#6D94DF"/>
<rect x="64.34" y="166.03" width="0.90" height="0.90" fill="#6D94DF"/>
<rect x="81.36" y="195.60" width="0.90" height="0.90" fill="#6D94DF"/>
<rect x="56.06" y="190.10" width="0.90" height="0.90" fill="#6D94DF"/>
<rect x="57.73" y="194.26" width="0.90" height="0.90" fill="#6D94DF"/>
<rect x="69.26" y="187.85" width="0.90" height="0.90" fill="#6D94DF"/>
<rect x="81.66" y="202.51" width="0.90" height="0.90" fill="#6D94DF"/>
<rect x="78.90" y="172.90" width="0.90" height="0.90" fill="#6D94DF"/>
<rect x="58.31" y="190.60" width="0.90" height="0.90" fill="#6D94DF"/>
<rect x="73.71" y="209.48" width="0.90" height="0.90" fill="#6D94DF"/>
<rect x="85.86" y="166.44" width="0.90" height="0.90" fill="#6D94DF"/>
<rect x="69.39" y="198.34" width="0.90" height="0.90" fill="#6D94DF"/>
<rect x="69.66" y="213.93" width="0.90" height="0.90" fill="#6D94DF"/>
<rect x="55.47" y="180.24" width="0.90" height="0.90" fill="#6D94DF"/>
<rect x="84.50" y="212.85" width="0.90" height="0.90" fill="#6D94DF"/>
<rect x="72.70" y="170.36" width="0.90" height="0.90" fill="#6D94DF"/>
<rect x="75.71" y="174.45" width="0.90" height="0.90" fill="#6D94DF"/>
<rect x="79.38" y="175.88" width="0.90" height="0.90" fill="#6D94DF"/>
<rect x="61.72" y="190.84" width="0.90" height="0.90" fill="#6D94DF"/>
<rect x="82.00" y="184.89" width="0.90" height="0.90" fill="#6D94DF"/>
<rect x="75.75" y="189.80" width="0.90" height="0.90" fill="#6D94DF"/>
<rect x="73.35" y="155.36" width="0.90" height="0.90" fill="#6D94DF"/>
<rect x="68.04" y="208.28" width="0.90" height="0.90" fill="#6D94DF"/>
<rect x="72.91" y="202.79" width="0.90" height="0.90" fill="#6D94DF"/>
<rect x="88.41" y="157.28" width="0.90" height="0.90" fill="#6D94DF"/>
<rect x="80.48" y="184.83" width="0.90" height="0.90" fill="#6D94DF"/>
<rect x="55.09" y="168.35" width="0.90" height="0.90" fill="#6D94DF"/>
<rect x="72.27" y="183.13" width="0.90" height="0.90" fill="#6D94DF"/>
<rect x="85.47" y="176.67" width="0.90" height="0.90" fill="#6D94DF"/>
<rect x="82.57" y="180.08" width="0.90" height="0.90" fill="#6D94DF"/>
<rect x="88.01" y="214.60" width="0.90" height="0.90" fill="#6D94DF"/>
<rect x="60.66" y="204.87" width="0.90" height="0.90" fill="#6D94DF"/>
<rect x="58.95" y="175.47" width="0.90" height="0.90" fill="#6D94DF"/>
<rect x="86.00" y="181.46" width="0.90" height="0.90" fill="#6D94DF"/>
<rect x="55.71" y="155.29" width="0.90" height="0.90" fill="#6D94DF"/>
<rect x="89.55" y="207.39" width="0.90" height="0.90" fill="#6D94DF"/>
<rect x="88.74" y="175.78" width="0.90" height="0.90" fill="#6D94DF"/>
<rect x="65.68" y="196.83" width="0.90" height="0.90" fill="#6D94DF"/>
<rect x="56.72" y="191.56" width="0.90" height="0.90" fill="#6D94DF"/>
<rect x="60.38" y="166.38" width="0.90" height="0.90" fill="#6D94DF"/>
<rect x="81.48" y="169.51" width="0.90" height="0.90" fill="#6D94DF"/>
<rect x="89.61" y="195.81" width="0.90" height="0.90" fill="#6D94DF"/>
<rect x="76.00" y="194.21" width="0.90" height="0.90" fill="#6D94DF"/>
<rect x="63.37" y="213.42" width="0.90" height="0.90" fill="#6D94DF"/>
<rect x="56.40" y="210.36" width="0.90" height="0.90" fill="#6D94DF"/>
<rect x="73.65" y="191.73" width="0.90" height="0.90" fill="#6D94DF"/>
<rect x="74.04" y="178.68" width="0.90" height="0.90" fill="#6D94DF"/>
<rect x="60.82" y="176.47" width="0.90" height="0.90" fill="#6D94DF"/>
<rect x="77.41" y="173.99" width="0.90" height="0.90" fill="#6D94DF"/>
<rect x="82.85" y="197.28" width="0.90" height="0.90" fill="#6D94DF"/>
<rect x="56.04" y="160.67" width="0.90" height="0.90" fill="#6D94DF"/>
<rect x="84.64" y="187.61" width="0.90" height="0.90" fill="#6D94DF"/>
<rect x="59.67" y="187.28" width="0.90" height="0.90" fill="#6D94DF"/>
<rect x="74.23" y="198.18" width="0.90" height="0.90" fill="#6D94DF"/>
<rect x="71.69" y="211.77" width="0.90" height="0.90" fill="#6D94DF"/>
<rect x="55.52" y="209.14" width="0.90" height="0.90" fill="#6D94DF"/>
<rect x="79.74" y="177.98" width="0.90" height="0.90" fill="#6D94DF"/>
<rect x="58.57" y="163.82" width="0.90" height="0.90" fill="#6D94DF"/>
<rect x="79.62" y="195.62" width="0.90" height="0.90" fill="#6D94DF"/>
<rect x="73.55" y="160.06" width="0.90" height="0.90" fill="#6D94DF"/>
<rect x="58.53" y="184.66" width="0.90" height="0.90" fill="#6D94DF"/>
<g filter="url(#bl)" opacity="1.0"><path d="M27.90,164.90 C27.90,163.83 28.35,162.70 29.10,161.70 C29.85,160.70 31.00,159.43 32.40,158.90 C33.80,158.37 36.02,158.13 37.50,158.50 C38.98,158.87 40.45,159.92 41.30,161.10 C42.15,162.28 42.92,164.32 42.60,165.60 C42.28,166.88 41.00,168.17 39.40,168.80 C37.80,169.43 34.72,169.52 33.00,169.40 C31.28,169.28 29.95,168.85 29.10,168.10 C28.25,167.35 27.90,165.97 27.90,164.90 Z" fill="#A4A4A4" fill-opacity="0.95"/><path d="M27.90,164.90 C27.90,163.83 28.35,162.70 29.10,161.70 C29.85,160.70 31.00,159.43 32.40,158.90 C33.80,158.37 36.02,158.13 37.50,158.50 C38.98,158.87 40.45,159.92 41.30,161.10 C42.15,162.28 42.92,164.32 42.60,165.60 C42.28,166.88 41.00,168.17 39.40,168.80 C37.80,169.43 34.72,169.52 33.00,169.40 C31.28,169.28 29.95,168.85 29.10,168.10 C28.25,167.35 27.90,165.97 27.90,164.90 Z" fill="url(#pG)"/></g>
<g filter="url(#bl)" opacity="1.0"><path d="M66.60,157.90 C67.20,156.78 68.90,156.63 70.40,156.30 C71.90,155.97 73.88,155.82 75.60,155.90 C77.32,155.98 79.10,156.27 80.70,156.80 C82.30,157.33 83.92,158.17 85.20,159.10 C86.48,160.03 87.55,161.22 88.40,162.40 C89.25,163.58 89.88,164.78 90.30,166.20 C90.72,167.62 91.17,170.05 90.90,170.90 C90.63,171.75 89.33,171.97 88.70,171.30 C88.07,170.63 87.90,168.18 87.10,166.90 C86.30,165.62 85.07,164.35 83.90,163.60 C82.73,162.85 81.48,162.57 80.10,162.40 C78.72,162.23 77.00,162.43 75.60,162.60 C74.20,162.77 72.88,162.93 71.70,163.40 C70.52,163.87 69.32,165.47 68.50,165.40 C67.68,165.33 67.12,164.25 66.80,163.00 C66.48,161.75 66.00,159.02 66.60,157.90 Z" fill="#A4A4A4" fill-opacity="0.95"/><path d="M66.60,157.90 C67.20,156.78 68.90,156.63 70.40,156.30 C71.90,155.97 73.88,155.82 75.60,155.90 C77.32,155.98 79.10,156.27 80.70,156.80 C82.30,157.33 83.92,158.17 85.20,159.10 C86.48,160.03 87.55,161.22 88.40,162.40 C89.25,163.58 89.88,164.78 90.30,166.20 C90.72,167.62 91.17,170.05 90.90,170.90 C90.63,171.75 89.33,171.97 88.70,171.30 C88.07,170.63 87.90,168.18 87.10,166.90 C86.30,165.62 85.07,164.35 83.90,163.60 C82.73,162.85 81.48,162.57 80.10,162.40 C78.72,162.23 77.00,162.43 75.60,162.60 C74.20,162.77 72.88,162.93 71.70,163.40 C70.52,163.87 69.32,165.47 68.50,165.40 C67.68,165.33 67.12,164.25 66.80,163.00 C66.48,161.75 66.00,159.02 66.60,157.90 Z" fill="url(#pG)"/></g>
<g filter="url(#bl)" opacity="1.0"><path d="M80.50,189.30 C81.75,187.38 85.95,187.37 88.00,186.50 C90.05,185.63 91.80,183.52 92.80,184.10 C93.80,184.68 93.88,187.85 94.00,190.00 C94.12,192.15 93.82,194.33 93.50,197.00 C93.18,199.67 92.77,203.58 92.10,206.00 C91.43,208.42 90.57,210.50 89.50,211.50 C88.43,212.50 87.28,212.58 85.70,212.00 C84.12,211.42 81.62,209.33 80.00,208.00 C78.38,206.67 75.92,205.67 76.00,204.00 C76.08,202.33 79.75,200.45 80.50,198.00 C81.25,195.55 79.25,191.22 80.50,189.30 Z" fill="#BDBDBD" fill-opacity="0.95"/><path d="M80.50,189.30 C81.75,187.38 85.95,187.37 88.00,186.50 C90.05,185.63 91.80,183.52 92.80,184.10 C93.80,184.68 93.88,187.85 94.00,190.00 C94.12,192.15 93.82,194.33 93.50,197.00 C93.18,199.67 92.77,203.58 92.10,206.00 C91.43,208.42 90.57,210.50 89.50,211.50 C88.43,212.50 87.28,212.58 85.70,212.00 C84.12,211.42 81.62,209.33 80.00,208.00 C78.38,206.67 75.92,205.67 76.00,204.00 C76.08,202.33 79.75,200.45 80.50,198.00 C81.25,195.55 79.25,191.22 80.50,189.30 Z" fill="url(#pG)"/></g>
<g filter="url(#bl)" opacity="1.0"><path d="M92.80,183.50 C93.67,181.88 95.92,179.05 97.30,177.70 C98.68,176.35 99.82,175.62 101.10,175.40 C102.38,175.18 103.82,175.58 105.00,176.40 C106.18,177.22 107.45,178.58 108.20,180.30 C108.95,182.02 109.40,184.57 109.50,186.70 C109.60,188.83 109.33,191.60 108.80,193.10 C108.27,194.60 107.37,195.17 106.30,195.70 C105.23,196.23 103.68,196.20 102.40,196.30 C101.12,196.40 99.88,196.50 98.60,196.30 C97.32,196.10 95.67,195.83 94.70,195.10 C93.73,194.37 93.23,193.18 92.80,191.90 C92.37,190.62 92.10,188.80 92.10,187.40 C92.10,186.00 91.93,185.12 92.80,183.50 Z" fill="#A4A4A4" fill-opacity="0.95"/><path d="M92.80,183.50 C93.67,181.88 95.92,179.05 97.30,177.70 C98.68,176.35 99.82,175.62 101.10,175.40 C102.38,175.18 103.82,175.58 105.00,176.40 C106.18,177.22 107.45,178.58 108.20,180.30 C108.95,182.02 109.40,184.57 109.50,186.70 C109.60,188.83 109.33,191.60 108.80,193.10 C108.27,194.60 107.37,195.17 106.30,195.70 C105.23,196.23 103.68,196.20 102.40,196.30 C101.12,196.40 99.88,196.50 98.60,196.30 C97.32,196.10 95.67,195.83 94.70,195.10 C93.73,194.37 93.23,193.18 92.80,191.90 C92.37,190.62 92.10,188.80 92.10,187.40 C92.10,186.00 91.93,185.12 92.80,183.50 Z" fill="url(#pG)"/></g>
<g filter="url(#bl)" opacity="1.0"><path d="M65.80,194.40 C66.23,193.33 66.52,192.05 67.70,191.20 C68.88,190.35 70.97,189.52 72.90,189.30 C74.83,189.08 77.60,189.47 79.30,189.90 C81.00,190.33 82.25,190.72 83.10,191.90 C83.95,193.08 84.28,195.30 84.40,197.00 C84.52,198.70 84.33,200.72 83.80,202.10 C83.27,203.48 82.38,204.65 81.20,205.30 C80.02,205.95 78.30,206.10 76.70,206.00 C75.10,205.90 73.20,205.45 71.60,204.70 C70.00,203.95 68.18,202.68 67.10,201.50 C66.02,200.32 65.32,198.78 65.10,197.60 C64.88,196.42 65.37,195.47 65.80,194.40 Z" fill="#A4A4A4" fill-opacity="0.95"/><path d="M65.80,194.40 C66.23,193.33 66.52,192.05 67.70,191.20 C68.88,190.35 70.97,189.52 72.90,189.30 C74.83,189.08 77.60,189.47 79.30,189.90 C81.00,190.33 82.25,190.72 83.10,191.90 C83.95,193.08 84.28,195.30 84.40,197.00 C84.52,198.70 84.33,200.72 83.80,202.10 C83.27,203.48 82.38,204.65 81.20,205.30 C80.02,205.95 78.30,206.10 76.70,206.00 C75.10,205.90 73.20,205.45 71.60,204.70 C70.00,203.95 68.18,202.68 67.10,201.50 C66.02,200.32 65.32,198.78 65.10,197.60 C64.88,196.42 65.37,195.47 65.80,194.40 Z" fill="url(#pG)"/></g>
<g filter="url(#bl)" opacity="1.0"><path d="M32.00,218.00 C33.02,216.58 35.80,215.23 38.10,215.00 C40.40,214.77 43.48,214.93 45.80,216.60 C48.12,218.27 51.23,222.95 52.00,225.00 C52.77,227.05 52.07,227.48 50.40,228.90 C48.73,230.32 44.57,233.37 42.00,233.50 C39.43,233.63 36.67,231.37 35.00,229.70 C33.33,228.03 32.50,225.45 32.00,223.50 C31.50,221.55 30.98,219.42 32.00,218.00 Z" fill="#A4A4A4" fill-opacity="0.95"/><path d="M32.00,218.00 C33.02,216.58 35.80,215.23 38.10,215.00 C40.40,214.77 43.48,214.93 45.80,216.60 C48.12,218.27 51.23,222.95 52.00,225.00 C52.77,227.05 52.07,227.48 50.40,228.90 C48.73,230.32 44.57,233.37 42.00,233.50 C39.43,233.63 36.67,231.37 35.00,229.70 C33.33,228.03 32.50,225.45 32.00,223.50 C31.50,221.55 30.98,219.42 32.00,218.00 Z" fill="url(#pG)"/></g>
<g filter="url(#bl)" opacity="1.0"><path d="M61.00,219.50 C61.67,218.28 63.92,217.58 66.00,217.20 C68.08,216.82 71.22,217.10 73.50,217.20 C75.78,217.30 78.12,218.20 79.70,217.80 C81.28,217.40 81.95,215.18 83.00,214.80 C84.05,214.42 85.40,214.22 86.00,215.50 C86.60,216.78 86.77,220.42 86.60,222.50 C86.43,224.58 86.10,227.15 85.00,228.00 C83.90,228.85 81.83,227.80 80.00,227.60 C78.17,227.40 76.17,226.93 74.00,226.80 C71.83,226.67 69.00,227.18 67.00,226.80 C65.00,226.42 63.00,225.72 62.00,224.50 C61.00,223.28 60.33,220.72 61.00,219.50 Z" fill="#A4A4A4" fill-opacity="0.95"/><path d="M61.00,219.50 C61.67,218.28 63.92,217.58 66.00,217.20 C68.08,216.82 71.22,217.10 73.50,217.20 C75.78,217.30 78.12,218.20 79.70,217.80 C81.28,217.40 81.95,215.18 83.00,214.80 C84.05,214.42 85.40,214.22 86.00,215.50 C86.60,216.78 86.77,220.42 86.60,222.50 C86.43,224.58 86.10,227.15 85.00,228.00 C83.90,228.85 81.83,227.80 80.00,227.60 C78.17,227.40 76.17,226.93 74.00,226.80 C71.83,226.67 69.00,227.18 67.00,226.80 C65.00,226.42 63.00,225.72 62.00,224.50 C61.00,223.28 60.33,220.72 61.00,219.50 Z" fill="url(#pG)"/></g>
<g filter="url(#bl)" opacity="1.0"><path d="M25.00,194.20 C25.52,193.05 26.15,191.58 27.30,191.20 C28.45,190.82 30.73,191.00 31.90,191.90 C33.07,192.80 34.03,195.18 34.30,196.60 C34.57,198.02 33.38,199.00 33.50,200.40 C33.62,201.80 35.27,203.85 35.00,205.00 C34.73,206.15 33.18,207.03 31.90,207.30 C30.62,207.57 28.45,207.48 27.30,206.60 C26.15,205.72 25.52,203.42 25.00,202.00 C24.48,200.58 24.20,199.40 24.20,198.10 C24.20,196.80 24.48,195.35 25.00,194.20 Z" fill="#A4A4A4" fill-opacity="0.95"/><path d="M25.00,194.20 C25.52,193.05 26.15,191.58 27.30,191.20 C28.45,190.82 30.73,191.00 31.90,191.90 C33.07,192.80 34.03,195.18 34.30,196.60 C34.57,198.02 33.38,199.00 33.50,200.40 C33.62,201.80 35.27,203.85 35.00,205.00 C34.73,206.15 33.18,207.03 31.90,207.30 C30.62,207.57 28.45,207.48 27.30,206.60 C26.15,205.72 25.52,203.42 25.00,202.00 C24.48,200.58 24.20,199.40 24.20,198.10 C24.20,196.80 24.48,195.35 25.00,194.20 Z" fill="url(#pG)"/></g>
<g filter="url(#bl)" opacity="1.0"><path d="M40.70,186.10 C40.92,185.13 41.63,183.65 42.60,182.90 C43.57,182.15 45.32,181.60 46.50,181.60 C47.68,181.60 49.07,181.93 49.70,182.90 C50.33,183.87 50.62,186.22 50.30,187.40 C49.98,188.58 48.97,189.47 47.80,190.00 C46.63,190.53 44.38,190.82 43.30,190.60 C42.22,190.38 41.73,189.45 41.30,188.70 C40.87,187.95 40.48,187.07 40.70,186.10 Z" fill="#A4A4A4" fill-opacity="0.95"/><path d="M40.70,186.10 C40.92,185.13 41.63,183.65 42.60,182.90 C43.57,182.15 45.32,181.60 46.50,181.60 C47.68,181.60 49.07,181.93 49.70,182.90 C50.33,183.87 50.62,186.22 50.30,187.40 C49.98,188.58 48.97,189.47 47.80,190.00 C46.63,190.53 44.38,190.82 43.30,190.60 C42.22,190.38 41.73,189.45 41.30,188.70 C40.87,187.95 40.48,187.07 40.70,186.10 Z" fill="url(#pG)"/></g>
<g filter="url(#bl)" opacity="1.0"><path d="M62.30,179.20 C62.55,178.58 63.82,178.33 64.20,178.80 C64.58,179.27 64.85,181.38 64.60,182.00 C64.35,182.62 63.08,182.97 62.70,182.50 C62.32,182.03 62.05,179.82 62.30,179.20 Z" fill="#A4A4A4" fill-opacity="0.95"/><path d="M62.30,179.20 C62.55,178.58 63.82,178.33 64.20,178.80 C64.58,179.27 64.85,181.38 64.60,182.00 C64.35,182.62 63.08,182.97 62.70,182.50 C62.32,182.03 62.05,179.82 62.30,179.20 Z" fill="url(#pG)"/></g>
<g filter="url(#bl)" opacity="1.0"><path d="M33.00,192.00 C33.75,190.92 35.67,190.58 37.00,190.50 C38.33,190.42 39.92,190.92 41.00,191.50 C42.08,192.08 43.33,192.92 43.50,194.00 C43.67,195.08 42.75,196.80 42.00,198.00 C41.25,199.20 40.17,200.78 39.00,201.20 C37.83,201.62 36.08,201.20 35.00,200.50 C33.92,199.80 32.83,198.42 32.50,197.00 C32.17,195.58 32.25,193.08 33.00,192.00 Z" fill="#EBD255" fill-opacity="0.8"/><path d="M33.00,192.00 C33.75,190.92 35.67,190.58 37.00,190.50 C38.33,190.42 39.92,190.92 41.00,191.50 C42.08,192.08 43.33,192.92 43.50,194.00 C43.67,195.08 42.75,196.80 42.00,198.00 C41.25,199.20 40.17,200.78 39.00,201.20 C37.83,201.62 36.08,201.20 35.00,200.50 C33.92,199.80 32.83,198.42 32.50,197.00 C32.17,195.58 32.25,193.08 33.00,192.00 Z" fill="url(#pY)"/></g>
<g filter="url(#bl)" opacity="1.0"><path d="M92.80,195.30 C93.47,194.75 95.40,194.52 97.00,194.20 C98.60,193.88 101.15,193.23 102.40,193.40 C103.65,193.57 104.73,194.52 104.50,195.20 C104.27,195.88 101.98,196.62 101.00,197.50 C100.02,198.38 99.23,199.08 98.60,200.50 C97.97,201.92 97.67,204.08 97.20,206.00 C96.73,207.92 96.23,210.58 95.80,212.00 C95.37,213.42 94.85,215.17 94.60,214.50 C94.35,213.83 94.20,210.25 94.30,208.00 C94.40,205.75 95.42,202.75 95.20,201.00 C94.98,199.25 93.40,198.45 93.00,197.50 C92.60,196.55 92.13,195.85 92.80,195.30 Z" fill="#EBD255" fill-opacity="0.8"/><path d="M92.80,195.30 C93.47,194.75 95.40,194.52 97.00,194.20 C98.60,193.88 101.15,193.23 102.40,193.40 C103.65,193.57 104.73,194.52 104.50,195.20 C104.27,195.88 101.98,196.62 101.00,197.50 C100.02,198.38 99.23,199.08 98.60,200.50 C97.97,201.92 97.67,204.08 97.20,206.00 C96.73,207.92 96.23,210.58 95.80,212.00 C95.37,213.42 94.85,215.17 94.60,214.50 C94.35,213.83 94.20,210.25 94.30,208.00 C94.40,205.75 95.42,202.75 95.20,201.00 C94.98,199.25 93.40,198.45 93.00,197.50 C92.60,196.55 92.13,195.85 92.80,195.30 Z" fill="url(#pY)"/></g>
<g filter="url(#bl)" opacity="1.0"><path d="M52.00,214.00 C52.33,213.17 55.33,213.42 57.00,213.50 C58.67,213.58 60.27,214.08 62.00,214.50 C63.73,214.92 66.73,215.33 67.40,216.00 C68.07,216.67 67.23,218.00 66.00,218.50 C64.77,219.00 61.83,219.00 60.00,219.00 C58.17,219.00 56.33,219.33 55.00,218.50 C53.67,217.67 51.67,214.83 52.00,214.00 Z" fill="#EBD255" fill-opacity="0.8"/><path d="M52.00,214.00 C52.33,213.17 55.33,213.42 57.00,213.50 C58.67,213.58 60.27,214.08 62.00,214.50 C63.73,214.92 66.73,215.33 67.40,216.00 C68.07,216.67 67.23,218.00 66.00,218.50 C64.77,219.00 61.83,219.00 60.00,219.00 C58.17,219.00 56.33,219.33 55.00,218.50 C53.67,217.67 51.67,214.83 52.00,214.00 Z" fill="url(#pY)"/></g>
<g filter="url(#bl)" opacity="0.75"><path d="M51.00,173.00 C51.25,172.50 52.92,172.25 54.00,172.50 C55.08,172.75 56.83,173.75 57.50,174.50 C58.17,175.25 58.33,176.50 58.00,177.00 C57.67,177.50 56.42,177.75 55.50,177.50 C54.58,177.25 53.25,176.25 52.50,175.50 C51.75,174.75 50.75,173.50 51.00,173.00 Z" fill="#EBD255" fill-opacity="0.8"/><path d="M51.00,173.00 C51.25,172.50 52.92,172.25 54.00,172.50 C55.08,172.75 56.83,173.75 57.50,174.50 C58.17,175.25 58.33,176.50 58.00,177.00 C57.67,177.50 56.42,177.75 55.50,177.50 C54.58,177.25 53.25,176.25 52.50,175.50 C51.75,174.75 50.75,173.50 51.00,173.00 Z" fill="url(#pY)"/></g>
<g filter="url(#bl)" opacity="1.0"><path d="M74.70,153.00 C75.03,152.67 76.93,152.57 78.00,152.60 C79.07,152.63 80.68,152.87 81.10,153.20 C81.52,153.53 81.35,154.37 80.50,154.60 C79.65,154.83 76.97,154.87 76.00,154.60 C75.03,154.33 74.37,153.33 74.70,153.00 Z" fill="#EBD255" fill-opacity="0.8"/><path d="M74.70,153.00 C75.03,152.67 76.93,152.57 78.00,152.60 C79.07,152.63 80.68,152.87 81.10,153.20 C81.52,153.53 81.35,154.37 80.50,154.60 C79.65,154.83 76.97,154.87 76.00,154.60 C75.03,154.33 74.37,153.33 74.70,153.00 Z" fill="url(#pY)"/></g>
<g filter="url(#bl)" opacity="1.0"><path d="M34.30,175.80 C35.02,175.62 38.10,175.68 38.80,175.90 C39.50,176.12 39.22,176.92 38.50,177.10 C37.78,177.28 35.20,177.22 34.50,177.00 C33.80,176.78 33.58,175.98 34.30,175.80 Z" fill="#EBD255" fill-opacity="0.8"/><path d="M34.30,175.80 C35.02,175.62 38.10,175.68 38.80,175.90 C39.50,176.12 39.22,176.92 38.50,177.10 C37.78,177.28 35.20,177.22 34.50,177.00 C33.80,176.78 33.58,175.98 34.30,175.80 Z" fill="url(#pY)"/></g>
<g filter="url(#bl)" opacity="1.0"><path d="M92.70,167.00 C92.97,166.37 94.28,166.37 94.60,166.90 C94.92,167.43 94.87,169.57 94.60,170.20 C94.33,170.83 93.32,171.23 93.00,170.70 C92.68,170.17 92.43,167.63 92.70,167.00 Z" fill="#EBD255" fill-opacity="0.8"/><path d="M92.70,167.00 C92.97,166.37 94.28,166.37 94.60,166.90 C94.92,167.43 94.87,169.57 94.60,170.20 C94.33,170.83 93.32,171.23 93.00,170.70 C92.68,170.17 92.43,167.63 92.70,167.00 Z" fill="url(#pY)"/></g>
<rect x="44" y="160" width="1" height="1" fill="#E4C530"/>
<rect x="30" y="170" width="1" height="1" fill="#E4C530"/>
<rect x="47" y="153" width="1" height="1" fill="#E4C530"/>
<rect x="54" y="160" width="1" height="1" fill="#E4C530"/>
<rect x="83" y="174" width="1" height="1" fill="#E4C530"/>
<rect x="102" y="170" width="1" height="1" fill="#E4C530"/>
<path d="M66,236 L70,238.8 L75,239.8" fill="none" stroke="#555" stroke-width="0.5"/>
<path d="M57,175 L65,165 M53,195 L60,186" fill="none" stroke="#666" stroke-width="0.3"/>
<text x="35.00" y="162.50" font-size="2.484" fill="#111" text-anchor="middle" font-weight="normal" stroke="#111" stroke-width="0.1">Astro</text>
<text x="35.00" y="166.50" font-size="2.484" fill="#111" text-anchor="middle" font-weight="normal" stroke="#111" stroke-width="0.1">Astro</text>
<text x="78.00" y="161.00" font-size="2.484" fill="#111" text-anchor="middle" font-weight="normal" stroke="#111" stroke-width="0.1">Olig</text>
<text x="59.00" y="160.50" font-size="2.484" fill="#111" text-anchor="middle" font-weight="normal" stroke="#111" stroke-width="0.1">Astro</text>
<text x="60.00" y="155.00" font-size="2.484" fill="#111" text-anchor="middle" font-weight="normal" stroke="#111" stroke-width="0.1">Astro</text>
<text x="79.50" y="152.00" font-size="2.484" fill="#111" text-anchor="middle" font-weight="normal" stroke="#111" stroke-width="0.1">Astro</text>
<text x="91.50" y="168.50" font-size="2.484" fill="#111" text-anchor="middle" font-weight="normal" stroke="#111" stroke-width="0.1">OPC</text>
<text x="77.00" y="172.00" font-size="2.484" fill="#111" text-anchor="middle" font-weight="normal" stroke="#111" stroke-width="0.1">Micro</text>
<text x="76.50" y="179.50" font-size="2.484" fill="#111" text-anchor="middle" font-weight="normal" stroke="#111" stroke-width="0.1">Macrophage</text>
<text x="79.00" y="182.50" font-size="2.484" fill="#111" text-anchor="middle" font-weight="normal" stroke="#111" stroke-width="0.1">OPC</text>
<text x="45.50" y="186.50" font-size="2.484" fill="#111" text-anchor="middle" font-weight="normal" stroke="#111" stroke-width="0.1">OPC</text>
<text x="33.00" y="192.00" font-size="2.484" fill="#111" text-anchor="middle" font-weight="normal" stroke="#111" stroke-width="0.1">Mural</text>
<text x="38.00" y="197.00" font-size="2.484" fill="#111" text-anchor="middle" font-weight="normal" stroke="#111" stroke-width="0.1">Olig/Ex</text>
<text x="27.00" y="200.00" font-size="2.484" fill="#111" text-anchor="middle" font-weight="normal" stroke="#111" stroke-width="0.1">Tcell</text>
<text x="101.00" y="188.50" font-size="2.484" fill="#111" text-anchor="middle" font-weight="normal" stroke="#111" stroke-width="0.1">MSN_D2</text>
<text x="75.00" y="198.00" font-size="2.484" fill="#111" text-anchor="middle" font-weight="normal" stroke="#111" stroke-width="0.1">MSN_D1</text>
<text x="82.00" y="194.00" font-size="2.484" fill="#111" text-anchor="middle" font-weight="normal" stroke="#111" stroke-width="0.1">Int</text>
<text x="79.00" y="201.00" font-size="2.484" fill="#111" text-anchor="middle" font-weight="normal" stroke="#111" stroke-width="0.1">MSN_D1</text>
<text x="111.00" y="193.50" font-size="2.484" fill="#111" text-anchor="middle" font-weight="normal" stroke="#111" stroke-width="0.1">Endo</text>
<text x="112.00" y="199.00" font-size="2.484" fill="#111" text-anchor="middle" font-weight="normal" stroke="#111" stroke-width="0.1">Endo</text>
<text x="59.00" y="203.00" font-size="2.484" fill="#111" text-anchor="middle" font-weight="normal" stroke="#111" stroke-width="0.1">MSN</text>
<text x="70.00" y="206.00" font-size="2.484" fill="#111" text-anchor="middle" font-weight="normal" stroke="#111" stroke-width="0.1">Interneuron</text>
<text x="75.00" y="209.00" font-size="2.484" fill="#111" text-anchor="middle" font-weight="normal" stroke="#111" stroke-width="0.1">MSN</text>
<text x="60.00" y="216.00" font-size="2.484" fill="#111" text-anchor="middle" font-weight="normal" stroke="#111" stroke-width="0.1">Neurogenesis</text>
<text x="42.00" y="225.00" font-size="2.484" fill="#111" text-anchor="middle" font-weight="normal" stroke="#111" stroke-width="0.1">Astro</text>
<text x="71.00" y="241.00" font-size="2.484" fill="#111" text-anchor="middle" font-weight="normal" stroke="#111" stroke-width="0.1">Micro</text>
<text x="18.40" y="268.00" font-size="5.5" fill="#333" text-anchor="start" font-weight="normal" stroke="#333" stroke-width="0.1" textLength="41" lengthAdjust="spacingAndGlyphs">CeA / Amygdala</text>
<line x1="18.60" y1="271.20" x2="18.60" y2="373.20" stroke="#444" stroke-width="0.8"/>
<line x1="18.20" y1="372.80" x2="131.00" y2="372.80" stroke="#444" stroke-width="0.8"/>
<line x1="17.30" y1="286.00" x2="18.60" y2="286.00" stroke="#444" stroke-width="0.6"/>
<text x="16.80" y="287.40" font-size="4.0" fill="#444" text-anchor="end" font-weight="normal" stroke="#444" stroke-width="0.1">10</text>
<line x1="17.30" y1="316.20" x2="18.60" y2="316.20" stroke="#444" stroke-width="0.6"/>
<text x="16.80" y="317.60" font-size="4.0" fill="#444" text-anchor="end" font-weight="normal" stroke="#444" stroke-width="0.1">0</text>
<line x1="17.30" y1="345.70" x2="18.60" y2="345.70" stroke="#444" stroke-width="0.6"/>
<text x="16.80" y="347.10" font-size="4.0" fill="#444" text-anchor="end" font-weight="normal" stroke="#444" stroke-width="0.1">−10</text>
<line x1="18.70" y1="372.80" x2="18.70" y2="374.10" stroke="#444" stroke-width="0.6"/>
<text x="18.70" y="377.70" font-size="4.0" fill="#444" text-anchor="middle" font-weight="normal" stroke="#444" stroke-width="0.1">−15</text>
<line x1="37.00" y1="372.80" x2="37.00" y2="374.10" stroke="#444" stroke-width="0.6"/>
<text x="37.00" y="377.70" font-size="4.0" fill="#444" text-anchor="middle" font-weight="normal" stroke="#444" stroke-width="0.1">−10</text>
<line x1="55.30" y1="372.80" x2="55.30" y2="374.10" stroke="#444" stroke-width="0.6"/>
<text x="55.30" y="377.70" font-size="4.0" fill="#444" text-anchor="middle" font-weight="normal" stroke="#444" stroke-width="0.1">−5</text>
<line x1="73.60" y1="372.80" x2="73.60" y2="374.10" stroke="#444" stroke-width="0.6"/>
<text x="73.60" y="377.70" font-size="4.0" fill="#444" text-anchor="middle" font-weight="normal" stroke="#444" stroke-width="0.1">0</text>
<line x1="91.90" y1="372.80" x2="91.90" y2="374.10" stroke="#444" stroke-width="0.6"/>
<text x="91.90" y="377.70" font-size="4.0" fill="#444" text-anchor="middle" font-weight="normal" stroke="#444" stroke-width="0.1">5</text>
<line x1="110.20" y1="372.80" x2="110.20" y2="374.10" stroke="#444" stroke-width="0.6"/>
<text x="110.20" y="377.70" font-size="4.0" fill="#444" text-anchor="middle" font-weight="normal" stroke="#444" stroke-width="0.1">10</text>
<line x1="128.50" y1="372.80" x2="128.50" y2="374.10" stroke="#444" stroke-width="0.6"/>
<text x="128.50" y="377.70" font-size="4.0" fill="#444" text-anchor="middle" font-weight="normal" stroke="#444" stroke-width="0.1">15</text>
<text x="73.00" y="382.50" font-size="4.9" fill="#333" text-anchor="middle" font-weight="normal" stroke="#333" stroke-width="0.1">UMAP1</text>
<text x="0.00" y="0.00" font-size="4.9" fill="#333" text-anchor="middle" font-weight="normal" stroke="#333" stroke-width="0.1" transform="translate(8.80 321.80) rotate(-90)">UMAP2</text>
<g filter="url(#bl)" opacity="0.8"><path d="M46.50,309.00 C47.17,307.92 48.58,307.17 50.00,306.50 C51.42,305.83 53.83,305.75 55.00,305.00 C56.17,304.25 56.38,302.92 57.00,302.00 C57.62,301.08 58.12,299.50 58.70,299.50 C59.28,299.50 59.28,301.42 60.50,302.00 C61.72,302.58 63.75,302.67 66.00,303.00 C68.25,303.33 71.67,303.33 74.00,304.00 C76.33,304.67 78.00,306.08 80.00,307.00 C82.00,307.92 85.17,308.33 86.00,309.50 C86.83,310.67 85.67,312.50 85.00,314.00 C84.33,315.50 83.33,317.25 82.00,318.50 C80.67,319.75 79.00,321.08 77.00,321.50 C75.00,321.92 72.50,321.33 70.00,321.00 C67.50,320.67 64.50,319.92 62.00,319.50 C59.50,319.08 57.17,318.92 55.00,318.50 C52.83,318.08 50.50,317.92 49.00,317.00 C47.50,316.08 46.42,314.33 46.00,313.00 C45.58,311.67 45.83,310.08 46.50,309.00 Z" fill="#98B6EE" fill-opacity="0.72"/><path d="M46.50,309.00 C47.17,307.92 48.58,307.17 50.00,306.50 C51.42,305.83 53.83,305.75 55.00,305.00 C56.17,304.25 56.38,302.92 57.00,302.00 C57.62,301.08 58.12,299.50 58.70,299.50 C59.28,299.50 59.28,301.42 60.50,302.00 C61.72,302.58 63.75,302.67 66.00,303.00 C68.25,303.33 71.67,303.33 74.00,304.00 C76.33,304.67 78.00,306.08 80.00,307.00 C82.00,307.92 85.17,308.33 86.00,309.50 C86.83,310.67 85.67,312.50 85.00,314.00 C84.33,315.50 83.33,317.25 82.00,318.50 C80.67,319.75 79.00,321.08 77.00,321.50 C75.00,321.92 72.50,321.33 70.00,321.00 C67.50,320.67 64.50,319.92 62.00,319.50 C59.50,319.08 57.17,318.92 55.00,318.50 C52.83,318.08 50.50,317.92 49.00,317.00 C47.50,316.08 46.42,314.33 46.00,313.00 C45.58,311.67 45.83,310.08 46.50,309.00 Z" fill="url(#pB)"/></g>
<g filter="url(#bl)" opacity="0.9"><path d="M58.00,306.00 C58.92,304.97 60.00,304.13 62.00,303.80 C64.00,303.47 67.67,303.72 70.00,304.00 C72.33,304.28 74.25,304.67 76.00,305.50 C77.75,306.33 79.83,307.58 80.50,309.00 C81.17,310.42 80.58,312.42 80.00,314.00 C79.42,315.58 78.67,317.58 77.00,318.50 C75.33,319.42 72.50,319.53 70.00,319.50 C67.50,319.47 64.17,319.05 62.00,318.30 C59.83,317.55 57.92,316.38 57.00,315.00 C56.08,313.62 56.33,311.50 56.50,310.00 C56.67,308.50 57.08,307.03 58.00,306.00 Z" fill="#86A8E8" fill-opacity="0.8"/><path d="M58.00,306.00 C58.92,304.97 60.00,304.13 62.00,303.80 C64.00,303.47 67.67,303.72 70.00,304.00 C72.33,304.28 74.25,304.67 76.00,305.50 C77.75,306.33 79.83,307.58 80.50,309.00 C81.17,310.42 80.58,312.42 80.00,314.00 C79.42,315.58 78.67,317.58 77.00,318.50 C75.33,319.42 72.50,319.53 70.00,319.50 C67.50,319.47 64.17,319.05 62.00,318.30 C59.83,317.55 57.92,316.38 57.00,315.00 C56.08,313.62 56.33,311.50 56.50,310.00 C56.67,308.50 57.08,307.03 58.00,306.00 Z" fill="url(#pB)"/></g>
<path d="M84,311 C88,307 95,306 100,308 C104,311 104,317 101,321 C97,323 91,321.5 87,318.5 C85,317 84,314 84,311 Z" fill="none" stroke="#6D94DF" stroke-width="2.2" filter="url(#tex)"/>
<g filter="url(#bl)" opacity="0.85"><path d="M76.00,319.00 C76.25,317.58 78.83,317.17 80.00,317.50 C81.17,317.83 82.00,319.58 83.00,321.00 C84.00,322.42 84.83,324.17 86.00,326.00 C87.17,327.83 88.75,330.00 90.00,332.00 C91.25,334.00 93.00,336.17 93.50,338.00 C94.00,339.83 93.75,342.25 93.00,343.00 C92.25,343.75 90.17,343.33 89.00,342.50 C87.83,341.67 87.17,339.75 86.00,338.00 C84.83,336.25 83.25,334.00 82.00,332.00 C80.75,330.00 79.50,328.17 78.50,326.00 C77.50,323.83 75.75,320.42 76.00,319.00 Z" fill="#98B6EE" fill-opacity="0.72"/><path d="M76.00,319.00 C76.25,317.58 78.83,317.17 80.00,317.50 C81.17,317.83 82.00,319.58 83.00,321.00 C84.00,322.42 84.83,324.17 86.00,326.00 C87.17,327.83 88.75,330.00 90.00,332.00 C91.25,334.00 93.00,336.17 93.50,338.00 C94.00,339.83 93.75,342.25 93.00,343.00 C92.25,343.75 90.17,343.33 89.00,342.50 C87.83,341.67 87.17,339.75 86.00,338.00 C84.83,336.25 83.25,334.00 82.00,332.00 C80.75,330.00 79.50,328.17 78.50,326.00 C77.50,323.83 75.75,320.42 76.00,319.00 Z" fill="url(#pB)"/></g>
<g filter="url(#bl)" opacity="1.0"><path d="M86.00,276.50 C86.67,276.00 88.67,275.92 90.00,276.00 C91.33,276.08 92.83,276.50 94.00,277.00 C95.17,277.50 96.00,278.17 97.00,279.00 C98.00,279.83 99.37,280.83 100.00,282.00 C100.63,283.17 100.97,284.67 100.80,286.00 C100.63,287.33 99.80,288.95 99.00,290.00 C98.20,291.05 97.00,292.05 96.00,292.30 C95.00,292.55 93.67,292.22 93.00,291.50 C92.33,290.78 91.83,289.00 92.00,288.00 C92.17,287.00 94.00,286.50 94.00,285.50 C94.00,284.50 93.00,282.92 92.00,282.00 C91.00,281.08 89.00,280.50 88.00,280.00 C87.00,279.50 86.33,279.58 86.00,279.00 C85.67,278.42 85.33,277.00 86.00,276.50 Z" fill="#98B6EE" fill-opacity="0.72"/><path d="M86.00,276.50 C86.67,276.00 88.67,275.92 90.00,276.00 C91.33,276.08 92.83,276.50 94.00,277.00 C95.17,277.50 96.00,278.17 97.00,279.00 C98.00,279.83 99.37,280.83 100.00,282.00 C100.63,283.17 100.97,284.67 100.80,286.00 C100.63,287.33 99.80,288.95 99.00,290.00 C98.20,291.05 97.00,292.05 96.00,292.30 C95.00,292.55 93.67,292.22 93.00,291.50 C92.33,290.78 91.83,289.00 92.00,288.00 C92.17,287.00 94.00,286.50 94.00,285.50 C94.00,284.50 93.00,282.92 92.00,282.00 C91.00,281.08 89.00,280.50 88.00,280.00 C87.00,279.50 86.33,279.58 86.00,279.00 C85.67,278.42 85.33,277.00 86.00,276.50 Z" fill="url(#pB)"/></g>
<circle cx="95.5" cy="287" r="1.6" fill="#fff" filter="url(#bl)"/>
<g filter="url(#bl)" opacity="1.0"><path d="M62.30,287.70 C62.30,287.07 63.08,288.23 65.40,288.50 C67.72,288.77 72.35,288.78 76.20,289.30 C80.05,289.82 86.97,290.97 88.50,291.60 C90.03,292.23 87.45,292.58 85.40,293.10 C83.35,293.62 79.40,294.18 76.20,294.70 C73.00,295.22 68.00,296.60 66.20,296.20 C64.40,295.80 66.05,293.72 65.40,292.30 C64.75,290.88 62.30,288.33 62.30,287.70 Z" fill="#EBD255" fill-opacity="0.8"/><path d="M62.30,287.70 C62.30,287.07 63.08,288.23 65.40,288.50 C67.72,288.77 72.35,288.78 76.20,289.30 C80.05,289.82 86.97,290.97 88.50,291.60 C90.03,292.23 87.45,292.58 85.40,293.10 C83.35,293.62 79.40,294.18 76.20,294.70 C73.00,295.22 68.00,296.60 66.20,296.20 C64.40,295.80 66.05,293.72 65.40,292.30 C64.75,290.88 62.30,288.33 62.30,287.70 Z" fill="url(#pY)"/></g>
<g filter="url(#bl)" opacity="1.0"><path d="M25.00,317.00 C25.50,316.38 26.97,316.22 28.00,316.30 C29.03,316.38 30.78,316.80 31.20,317.50 C31.62,318.20 31.20,319.80 30.50,320.50 C29.80,321.20 27.92,321.78 27.00,321.70 C26.08,321.62 25.33,320.78 25.00,320.00 C24.67,319.22 24.50,317.62 25.00,317.00 Z" fill="#EBD255" fill-opacity="0.8"/><path d="M25.00,317.00 C25.50,316.38 26.97,316.22 28.00,316.30 C29.03,316.38 30.78,316.80 31.20,317.50 C31.62,318.20 31.20,319.80 30.50,320.50 C29.80,321.20 27.92,321.78 27.00,321.70 C26.08,321.62 25.33,320.78 25.00,320.00 C24.67,319.22 24.50,317.62 25.00,317.00 Z" fill="url(#pY)"/></g>
<g filter="url(#bl)" opacity="1.0"><path d="M23.50,311.00 C23.83,310.58 25.17,310.17 25.50,310.50 C25.83,310.83 25.83,312.58 25.50,313.00 C25.17,313.42 23.83,313.33 23.50,313.00 C23.17,312.67 23.17,311.42 23.50,311.00 Z" fill="#98B6EE" fill-opacity="0.72"/><path d="M23.50,311.00 C23.83,310.58 25.17,310.17 25.50,310.50 C25.83,310.83 25.83,312.58 25.50,313.00 C25.17,313.42 23.83,313.33 23.50,313.00 C23.17,312.67 23.17,311.42 23.50,311.00 Z" fill="url(#pB)"/></g>
<g filter="url(#bl)" opacity="1.0"><path d="M33.00,330.00 C33.25,329.27 34.95,328.92 36.00,329.00 C37.05,329.08 38.88,329.83 39.30,330.50 C39.72,331.17 39.30,332.52 38.50,333.00 C37.70,333.48 35.42,333.90 34.50,333.40 C33.58,332.90 32.75,330.73 33.00,330.00 Z" fill="#98B6EE" fill-opacity="0.72"/><path d="M33.00,330.00 C33.25,329.27 34.95,328.92 36.00,329.00 C37.05,329.08 38.88,329.83 39.30,330.50 C39.72,331.17 39.30,332.52 38.50,333.00 C37.70,333.48 35.42,333.90 34.50,333.40 C33.58,332.90 32.75,330.73 33.00,330.00 Z" fill="url(#pB)"/></g>
<g filter="url(#bl)" opacity="1.0"><path d="M48.30,328.00 C48.80,327.17 50.88,327.08 52.00,327.00 C53.12,326.92 54.50,326.83 55.00,327.50 C55.50,328.17 55.50,330.08 55.00,331.00 C54.50,331.92 53.00,332.83 52.00,333.00 C51.00,333.17 49.62,332.83 49.00,332.00 C48.38,331.17 47.80,328.83 48.30,328.00 Z" fill="#98B6EE" fill-opacity="0.72"/><path d="M48.30,328.00 C48.80,327.17 50.88,327.08 52.00,327.00 C53.12,326.92 54.50,326.83 55.00,327.50 C55.50,328.17 55.50,330.08 55.00,331.00 C54.50,331.92 53.00,332.83 52.00,333.00 C51.00,333.17 49.62,332.83 49.00,332.00 C48.38,331.17 47.80,328.83 48.30,328.00 Z" fill="url(#pB)"/></g>
<g filter="url(#bl)" opacity="1.0"><path d="M52.00,329.00 C52.33,327.67 54.17,326.25 55.00,326.00 C55.83,325.75 56.47,326.67 57.00,327.50 C57.53,328.33 58.12,329.87 58.20,331.00 C58.28,332.13 58.37,333.80 57.50,334.30 C56.63,334.80 53.92,334.88 53.00,334.00 C52.08,333.12 51.67,330.33 52.00,329.00 Z" fill="#EBD255" fill-opacity="0.8"/><path d="M52.00,329.00 C52.33,327.67 54.17,326.25 55.00,326.00 C55.83,325.75 56.47,326.67 57.00,327.50 C57.53,328.33 58.12,329.87 58.20,331.00 C58.28,332.13 58.37,333.80 57.50,334.30 C56.63,334.80 53.92,334.88 53.00,334.00 C52.08,333.12 51.67,330.33 52.00,329.00 Z" fill="url(#pY)"/></g>
<g filter="url(#bl)" opacity="1.0"><path d="M60.90,344.50 C61.40,343.85 62.82,342.92 64.00,342.60 C65.18,342.28 66.67,342.45 68.00,342.60 C69.33,342.75 71.08,343.02 72.00,343.50 C72.92,343.98 73.83,344.78 73.50,345.50 C73.17,346.22 71.58,347.45 70.00,347.80 C68.42,348.15 65.50,347.82 64.00,347.60 C62.50,347.38 61.52,347.02 61.00,346.50 C60.48,345.98 60.40,345.15 60.90,344.50 Z" fill="#98B6EE" fill-opacity="0.72"/><path d="M60.90,344.50 C61.40,343.85 62.82,342.92 64.00,342.60 C65.18,342.28 66.67,342.45 68.00,342.60 C69.33,342.75 71.08,343.02 72.00,343.50 C72.92,343.98 73.83,344.78 73.50,345.50 C73.17,346.22 71.58,347.45 70.00,347.80 C68.42,348.15 65.50,347.82 64.00,347.60 C62.50,347.38 61.52,347.02 61.00,346.50 C60.48,345.98 60.40,345.15 60.90,344.50 Z" fill="url(#pB)"/></g>
<g filter="url(#bl)" opacity="0.9"><path d="M57.30,358.50 C58.05,358.42 60.22,359.25 62.00,359.50 C63.78,359.75 66.33,360.17 68.00,360.00 C69.67,359.83 70.50,358.83 72.00,358.50 C73.50,358.17 76.25,357.62 77.00,358.00 C77.75,358.38 77.67,360.25 76.50,360.80 C75.33,361.35 72.42,361.25 70.00,361.30 C67.58,361.35 64.08,361.32 62.00,361.10 C59.92,360.88 58.28,360.43 57.50,360.00 C56.72,359.57 56.55,358.58 57.30,358.50 Z" fill="#EBD255" fill-opacity="0.8"/><path d="M57.30,358.50 C58.05,358.42 60.22,359.25 62.00,359.50 C63.78,359.75 66.33,360.17 68.00,360.00 C69.67,359.83 70.50,358.83 72.00,358.50 C73.50,358.17 76.25,357.62 77.00,358.00 C77.75,358.38 77.67,360.25 76.50,360.80 C75.33,361.35 72.42,361.25 70.00,361.30 C67.58,361.35 64.08,361.32 62.00,361.10 C59.92,360.88 58.28,360.43 57.50,360.00 C56.72,359.57 56.55,358.58 57.30,358.50 Z" fill="url(#pY)"/></g>
<g filter="url(#bl)" opacity="1.0"><path d="M99.50,337.50 C99.83,336.95 101.08,336.92 102.00,337.00 C102.92,337.08 104.67,337.40 105.00,338.00 C105.33,338.60 104.83,340.22 104.00,340.60 C103.17,340.98 100.75,340.82 100.00,340.30 C99.25,339.78 99.17,338.05 99.50,337.50 Z" fill="#EBD255" fill-opacity="0.8"/><path d="M99.50,337.50 C99.83,336.95 101.08,336.92 102.00,337.00 C102.92,337.08 104.67,337.40 105.00,338.00 C105.33,338.60 104.83,340.22 104.00,340.60 C103.17,340.98 100.75,340.82 100.00,340.30 C99.25,339.78 99.17,338.05 99.50,337.50 Z" fill="url(#pY)"/></g>
<g filter="url(#bl)" opacity="1.0"><path d="M89.60,348.50 C89.93,347.80 91.27,347.72 92.00,347.80 C92.73,347.88 93.75,348.25 94.00,349.00 C94.25,349.75 94.17,351.80 93.50,352.30 C92.83,352.80 90.65,352.63 90.00,352.00 C89.35,351.37 89.27,349.20 89.60,348.50 Z" fill="#EBD255" fill-opacity="0.8"/><path d="M89.60,348.50 C89.93,347.80 91.27,347.72 92.00,347.80 C92.73,347.88 93.75,348.25 94.00,349.00 C94.25,349.75 94.17,351.80 93.50,352.30 C92.83,352.80 90.65,352.63 90.00,352.00 C89.35,351.37 89.27,349.20 89.60,348.50 Z" fill="url(#pY)"/></g>
<g filter="url(#bl)" opacity="1.0"><path d="M114.00,319.50 C114.70,318.92 116.60,318.42 118.00,318.50 C119.40,318.58 121.90,319.25 122.40,320.00 C122.90,320.75 122.07,322.50 121.00,323.00 C119.93,323.50 117.20,323.17 116.00,323.00 C114.80,322.83 114.13,322.58 113.80,322.00 C113.47,321.42 113.30,320.08 114.00,319.50 Z" fill="#EBD255" fill-opacity="0.8"/><path d="M114.00,319.50 C114.70,318.92 116.60,318.42 118.00,318.50 C119.40,318.58 121.90,319.25 122.40,320.00 C122.90,320.75 122.07,322.50 121.00,323.00 C119.93,323.50 117.20,323.17 116.00,323.00 C114.80,322.83 114.13,322.58 113.80,322.00 C113.47,321.42 113.30,320.08 114.00,319.50 Z" fill="url(#pY)"/></g>
<g filter="url(#bl)" opacity="0.9"><path d="M85.00,337.00 C85.50,336.25 88.00,335.33 89.00,335.50 C90.00,335.67 91.00,337.08 91.00,338.00 C91.00,338.92 89.83,340.67 89.00,341.00 C88.17,341.33 86.67,340.67 86.00,340.00 C85.33,339.33 84.50,337.75 85.00,337.00 Z" fill="#EBD255" fill-opacity="0.8"/><path d="M85.00,337.00 C85.50,336.25 88.00,335.33 89.00,335.50 C90.00,335.67 91.00,337.08 91.00,338.00 C91.00,338.92 89.83,340.67 89.00,341.00 C88.17,341.33 86.67,340.67 86.00,340.00 C85.33,339.33 84.50,337.75 85.00,337.00 Z" fill="url(#pY)"/></g>
<g filter="url(#bl)" opacity="1.0"><path d="M83.00,339.00 C83.67,338.42 86.67,339.00 88.00,339.50 C89.33,340.00 90.83,341.25 91.00,342.00 C91.17,342.75 90.17,343.83 89.00,344.00 C87.83,344.17 85.00,343.83 84.00,343.00 C83.00,342.17 82.33,339.58 83.00,339.00 Z" fill="#98B6EE" fill-opacity="0.72"/><path d="M83.00,339.00 C83.67,338.42 86.67,339.00 88.00,339.50 C89.33,340.00 90.83,341.25 91.00,342.00 C91.17,342.75 90.17,343.83 89.00,344.00 C87.83,344.17 85.00,343.83 84.00,343.00 C83.00,342.17 82.33,339.58 83.00,339.00 Z" fill="url(#pB)"/></g>
<rect x="36" y="320" width="1" height="1" fill="#E4C530"/>
<rect x="42" y="318" width="1" height="1" fill="#E4C530"/>
<rect x="46" y="325" width="1" height="1" fill="#E4C530"/>
<rect x="88" y="330" width="1" height="1" fill="#E4C530"/>
<rect x="110" y="342" width="1" height="1" fill="#E4C530"/>
<rect x="120" y="334" width="1" height="1" fill="#E4C530"/>
<rect x="96" y="359" width="1" height="1" fill="#E4C530"/>
<rect x="104" y="355" width="1" height="1" fill="#E4C530"/>
<rect x="108" y="366" width="1" height="1" fill="#E4C530"/>
<rect x="115" y="346" width="1" height="1" fill="#E4C530"/>
<rect x="69" y="338" width="1" height="1" fill="#E4C530"/>
<rect x="60" y="353" width="1" height="1" fill="#E4C530"/>
<text x="93.00" y="283.00" font-size="2.484" fill="#111" text-anchor="middle" font-weight="normal" stroke="#111" stroke-width="0.1">Micro</text>
<text x="34.70" y="296.50" font-size="2.484" fill="#111" text-anchor="middle" font-weight="normal" stroke="#111" stroke-width="0.1">Per</text>
<text x="24.40" y="311.00" font-size="2.484" fill="#111" text-anchor="middle" font-weight="normal" stroke="#111" stroke-width="0.1">Endo</text>
<text x="25.70" y="318.30" font-size="2.484" fill="#111" text-anchor="middle" font-weight="normal" stroke="#111" stroke-width="0.1">Immune</text>
<text x="73.00" y="291.50" font-size="2.484" fill="#111" text-anchor="middle" font-weight="normal" stroke="#111" stroke-width="0.1">Olig</text>
<text x="69.00" y="310.50" font-size="2.484" fill="#111" text-anchor="middle" font-weight="normal" stroke="#111" stroke-width="0.1">Inhibitory/Excit</text>
<text x="95.00" y="315.00" font-size="2.484" fill="#111" text-anchor="middle" font-weight="normal" stroke="#111" stroke-width="0.1">Exc</text>
<text x="95.50" y="307.00" font-size="2.484" fill="#111" text-anchor="middle" font-weight="normal" stroke="#111" stroke-width="0.1">Neural</text>
<text x="118.50" y="321.00" font-size="2.484" fill="#111" text-anchor="middle" font-weight="normal" stroke="#111" stroke-width="0.1">Mono</text>
<text x="44.50" y="330.00" font-size="2.484" fill="#111" text-anchor="middle" font-weight="normal" stroke="#111" stroke-width="0.1">Excit</text>
<text x="55.00" y="331.50" font-size="2.484" fill="#111" text-anchor="middle" font-weight="normal" stroke="#111" stroke-width="0.1">Astro</text>
<text x="84.00" y="330.50" font-size="2.484" fill="#111" text-anchor="middle" font-weight="normal" stroke="#111" stroke-width="0.1">Olig/Inhib</text>
<text x="89.00" y="340.50" font-size="2.484" fill="#111" text-anchor="middle" font-weight="normal" stroke="#111" stroke-width="0.1">Astro</text>
<text x="33.50" y="343.00" font-size="2.484" fill="#111" text-anchor="middle" font-weight="normal" stroke="#111" stroke-width="0.1">Endo</text>
<text x="66.00" y="346.00" font-size="2.484" fill="#111" text-anchor="middle" font-weight="normal" stroke="#111" stroke-width="0.1">Opc</text>
<text x="70.00" y="349.50" font-size="2.484" fill="#111" text-anchor="middle" font-weight="normal" stroke="#111" stroke-width="0.1">Olig</text>
<text x="81.00" y="345.50" font-size="2.484" fill="#111" text-anchor="middle" font-weight="normal" stroke="#111" stroke-width="0.1">Inhib</text>
<text x="91.50" y="351.50" font-size="2.484" fill="#111" text-anchor="middle" font-weight="normal" stroke="#111" stroke-width="0.1">Endo</text>
<text x="100.00" y="363.50" font-size="2.484" fill="#111" text-anchor="middle" font-weight="normal" stroke="#111" stroke-width="0.1">Tcell</text>
</g>
</svg>
</body></html>
